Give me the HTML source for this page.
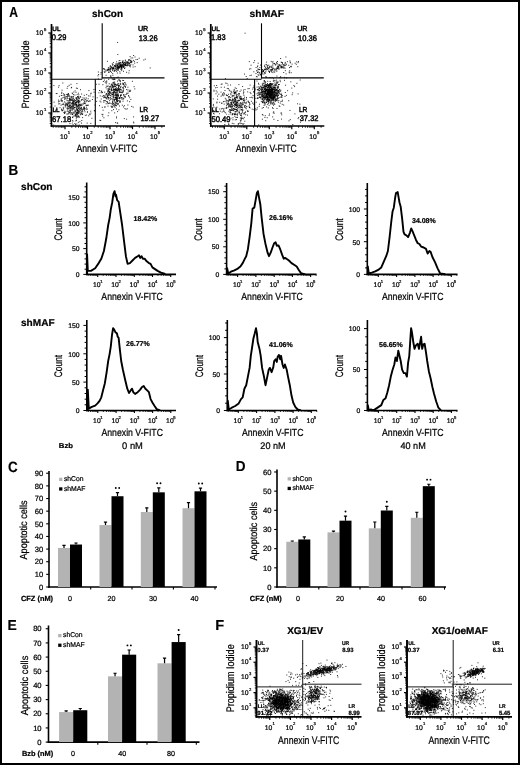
<!DOCTYPE html><html><head><meta charset="utf-8"><style>html,body{margin:0;padding:0;background:#fff}svg{display:block;will-change:transform;text-rendering:geometricPrecision}text{font-family:"Liberation Sans",sans-serif;fill:#000;stroke:#000;stroke-width:0.22px}</style></head><body><svg width="520" height="765" viewBox="0 0 520 765">
<rect x="1" y="1" width="518" height="763" fill="#fff" stroke="#000" stroke-width="2"/>
<text transform="translate(9.20 17) scale(0.833 1)" font-size="14.5" font-weight="bold" style="stroke-width:0.15px">A</text>
<text transform="translate(8.42 175) scale(0.931 1)" font-size="14.5" font-weight="bold" style="stroke-width:0.15px">B</text>
<text transform="translate(8.03 471.9) scale(0.896 1)" font-size="15.0" font-weight="bold" style="stroke-width:0.15px">C</text>
<text transform="translate(235.82 471.4) scale(0.934 1)" font-size="14.5" font-weight="bold" style="stroke-width:0.15px">D</text>
<text transform="translate(7.59 629.6) scale(0.958 1)" font-size="14.5" font-weight="bold" style="stroke-width:0.15px">E</text>
<text transform="translate(215.33 630.1) scale(1.007 1)" font-size="14.5" font-weight="bold" style="stroke-width:0.15px">F</text>
<path d="M73.7 105.2h1.0M84.3 98.1h1.0M83.2 108.0h1.0M69.3 97.1h1.0M71.0 97.0h1.0M69.2 105.5h1.0M78.0 105.6h1.0M73.0 94.7h1.0M79.4 111.1h1.0M58.6 116.8h1.0M85.9 98.0h1.0M72.6 116.9h1.0M78.8 101.9h1.0M72.3 102.1h1.0M70.4 103.8h1.0M77.1 96.8h1.0M80.0 114.7h1.0M71.8 108.3h1.0M72.2 100.4h1.0M78.9 104.5h1.0M66.4 94.6h1.0M61.3 101.2h1.0M76.6 111.9h1.0M68.0 93.6h1.0M58.0 100.1h1.0M66.9 105.3h1.0M69.7 111.5h1.0M63.9 112.4h1.0M61.5 100.5h1.0M73.7 100.7h1.0M80.6 109.4h1.0M71.5 102.8h1.0M67.5 102.5h1.0M76.5 112.8h1.0M79.1 117.1h1.0M71.0 106.7h1.0M77.8 104.9h1.0M81.7 110.4h1.0M71.7 93.1h1.0M66.9 104.2h1.0M76.2 99.1h1.0M75.4 120.9h1.0M82.2 111.4h1.0M63.1 104.6h1.0M68.1 103.3h1.0M66.7 88.3h1.0M59.5 107.7h1.0M74.4 115.9h1.0M77.6 101.4h1.0M67.5 108.8h1.0M84.5 111.8h1.0M80.0 96.6h1.0M78.4 112.2h1.0M76.6 114.6h1.0M81.0 108.1h1.0M62.7 103.3h1.0M78.3 111.2h1.0M78.2 96.4h1.0M59.3 103.7h1.0M76.2 112.6h1.0M71.4 97.2h1.0M79.7 112.7h1.0M69.9 102.2h1.0M73.3 92.1h1.0M76.1 105.2h1.0M66.4 98.1h1.0M78.2 108.2h1.0M72.6 97.8h1.0M77.3 112.7h1.0M69.2 100.0h1.0M82.1 109.1h1.0M78.2 102.4h1.0M72.0 103.1h1.0M78.5 113.8h1.0M83.5 108.4h1.0M87.7 105.2h1.0M60.8 95.4h1.0M80.5 113.9h1.0M77.1 110.7h1.0M72.6 103.2h1.0M65.3 105.6h1.0M83.5 100.5h1.0M63.3 97.3h1.0M77.9 100.9h1.0M83.8 109.3h1.0M60.6 105.2h1.0M71.0 100.3h1.0M62.9 108.4h1.0M75.4 110.7h1.0M85.5 108.5h1.0M89.6 114.6h1.0M59.2 101.3h1.0M68.8 103.9h1.0M79.0 109.3h1.0M86.0 107.2h1.0M76.8 111.0h1.0M67.4 96.5h1.0M75.8 114.9h1.0M73.3 100.4h1.0M71.8 104.1h1.0M67.5 95.7h1.0M76.5 109.7h1.0M75.9 113.9h1.0M72.7 112.1h1.0M71.6 110.4h1.0M63.1 93.8h1.0M69.5 99.8h1.0M83.1 104.0h1.0M71.9 99.2h1.0M61.9 110.7h1.0M84.1 108.3h1.0M77.6 105.9h1.0M90.3 111.2h1.0M73.9 99.4h1.0M69.7 99.0h1.0M61.8 97.9h1.0M84.0 110.3h1.0M94.0 110.9h1.0M66.8 108.0h1.0M68.2 111.4h1.0M78.2 97.5h1.0M66.8 100.8h1.0M71.2 106.0h1.0M70.6 96.4h1.0M74.9 102.3h1.0M82.2 113.3h1.0M73.6 112.5h1.0M80.8 113.5h1.0M70.0 105.1h1.0M76.0 104.5h1.0M56.3 109.5h1.0M61.8 101.1h1.0M79.8 108.6h1.0M68.7 113.1h1.0M78.0 103.8h1.0M77.7 102.2h1.0M84.0 107.1h1.0M79.9 110.3h1.0M81.5 109.8h1.0M72.5 106.2h1.0M67.8 108.0h1.0M67.5 94.3h1.0M69.5 99.3h1.0M64.4 105.0h1.0M69.0 98.8h1.0M72.7 96.7h1.0M75.4 98.0h1.0M70.7 99.1h1.0M58.0 101.8h1.0M72.8 98.8h1.0M75.2 107.2h1.0M82.1 117.6h1.0M78.0 105.2h1.0M68.3 112.7h1.0M67.6 106.3h1.0M89.5 100.9h1.0M79.5 104.8h1.0M88.1 101.5h1.0M90.4 113.1h1.0M66.9 97.0h1.0M76.5 114.3h1.0M77.1 109.7h1.0M77.9 93.2h1.0M77.7 111.1h1.0M75.0 115.6h1.0M74.8 100.6h1.0M61.4 109.7h1.0M72.1 93.7h1.0M67.4 106.0h1.0M74.4 95.0h1.0M69.7 107.9h1.0M78.3 94.8h1.0M80.0 89.7h1.0M75.9 108.3h1.0M75.9 120.4h1.0M74.1 101.7h1.0M69.8 110.1h1.0M72.1 105.9h1.0M69.4 102.7h1.0M76.5 109.8h1.0M73.5 115.9h1.0M78.1 98.3h1.0M62.8 107.3h1.0M80.5 108.8h1.0M67.3 95.3h1.0M67.5 114.7h1.0M71.8 117.6h1.0M68.9 98.6h1.0M75.7 116.8h1.0M68.8 105.0h1.0M64.8 103.0h1.0M66.6 113.9h1.0M83.9 108.6h1.0M73.8 107.5h1.0M64.1 113.5h1.0M73.5 113.6h1.0M61.0 109.1h1.0M87.7 98.8h1.0M61.2 93.4h1.0M77.2 113.2h1.0M77.7 100.2h1.0M61.8 104.5h1.0M75.8 98.9h1.0M81.4 105.5h1.0M77.1 97.9h1.0M75.5 116.1h1.0M81.0 100.1h1.0M74.7 104.8h1.0M76.1 104.6h1.0M72.4 112.9h1.0M78.5 97.2h1.0M65.9 104.0h1.0M79.7 105.1h1.0M69.4 108.1h1.0M64.7 107.0h1.0M76.3 102.9h1.0M86.9 109.1h1.0M81.1 104.3h1.0M69.3 107.7h1.0M79.0 105.7h1.0M69.8 100.6h1.0M72.4 105.1h1.0M74.1 107.8h1.0M54.9 116.8h1.0M74.9 102.5h1.0M65.2 106.0h1.0M67.8 113.8h1.0M61.6 90.2h1.0M61.3 92.3h1.0M65.9 96.6h1.0M80.0 105.7h1.0M86.7 123.1h1.0M73.2 107.9h1.0M82.1 114.5h1.0M71.3 103.6h1.0M58.1 87.2h1.0M74.6 90.9h1.0M77.0 112.5h1.0M70.0 106.0h1.0M75.8 97.5h1.0M78.0 113.3h1.0M66.5 94.5h1.0M61.6 110.7h1.0M71.6 114.4h1.0M71.7 100.3h1.0M70.6 97.9h1.0M81.3 112.1h1.0M87.2 100.7h1.0M70.1 110.3h1.0M79.0 98.7h1.0M80.9 111.8h1.0M79.1 106.9h1.0M81.8 104.0h1.0M70.3 99.2h1.0M79.3 107.9h1.0M89.6 96.0h1.0M79.8 104.7h1.0M68.4 102.1h1.0M78.3 110.5h1.0M83.5 99.1h1.0M76.4 116.8h1.0M68.9 102.7h1.0M85.7 100.2h1.0M63.4 112.6h1.0M77.4 116.6h1.0M73.3 104.2h1.0M63.9 98.2h1.0M83.2 107.1h1.0M76.2 101.5h1.0M64.1 101.9h1.0M78.2 116.1h1.0M69.9 107.3h1.0M58.2 103.9h1.0M67.9 106.7h1.0M75.5 105.4h1.0M78.5 111.6h1.0M74.7 111.2h1.0M73.8 103.1h1.0M77.2 106.7h1.0M71.7 120.5h1.0M82.8 109.6h1.0M74.6 104.4h1.0M75.8 118.8h1.0M77.7 106.2h1.0M64.9 97.0h1.0M67.7 108.8h1.0M85.6 101.7h1.0M76.1 102.7h1.0M71.1 107.1h1.0M76.1 105.0h1.0M69.5 99.9h1.0M75.6 102.3h1.0M68.1 100.8h1.0M75.6 113.2h1.0M60.8 98.8h1.0M84.0 103.5h1.0M69.3 117.7h1.0M60.8 99.8h1.0M71.6 114.6h1.0M70.4 113.3h1.0M74.6 104.6h1.0M64.2 94.9h1.0M76.6 108.8h1.0M102.4 114.4h1.0M63.2 109.9h1.0M76.1 106.3h1.0M70.9 112.7h1.0M74.9 114.5h1.0M58.9 96.3h1.0M64.2 113.0h1.0M77.1 107.1h1.0M73.1 101.7h1.0M86.5 105.5h1.0M67.8 116.4h1.0M74.8 111.9h1.0M96.7 97.8h1.0M67.3 104.9h1.0M66.2 103.3h1.0M73.1 104.2h1.0M73.0 102.1h1.0M80.2 97.2h1.0M74.4 111.1h1.0M67.3 98.4h1.0M75.1 103.3h1.0M94.5 105.0h1.0M83.6 102.4h1.0M72.3 107.7h1.0M66.4 100.0h1.0M78.4 100.2h1.0M72.0 102.2h1.0M88.9 114.1h1.0M80.8 107.4h1.0M80.5 108.0h1.0M74.9 103.6h1.0M73.1 103.7h1.0M76.1 107.2h1.0M83.8 95.3h1.0M77.7 116.4h1.0M70.6 99.9h1.0M83.6 103.4h1.0M74.9 114.2h1.0M72.8 106.7h1.0M67.1 104.6h1.0M68.9 100.9h1.0M68.3 94.6h1.0M81.5 114.3h1.0M77.9 100.4h1.0M71.7 113.8h1.0M81.8 99.6h1.0M76.9 101.3h1.0M76.4 109.1h1.0M53.6 102.2h1.0M71.5 109.5h1.0M77.7 101.4h1.0M86.3 100.9h1.0M88.1 95.9h1.0M84.8 99.6h1.0M64.1 97.0h1.0M55.8 93.5h1.0M78.0 108.1h1.0M73.6 101.2h1.0M81.1 94.0h1.0M72.4 121.1h1.0M75.2 100.4h1.0M61.4 95.5h1.0M77.0 113.9h1.0M69.8 112.2h1.0M76.2 98.5h1.0M77.1 96.6h1.0M72.5 98.9h1.0M75.9 113.0h1.0M73.3 103.4h1.0M79.5 101.2h1.0M77.4 105.9h1.0M69.0 112.4h1.0M68.7 95.8h1.0M87.3 105.2h1.0M72.6 96.5h1.0M81.3 120.5h1.0M76.5 117.5h1.0M68.9 110.7h1.0M67.4 103.6h1.0M74.4 109.8h1.0M75.5 92.3h1.0M78.3 108.0h1.0M63.3 95.2h1.0M68.6 96.2h1.0M72.6 100.8h1.0M86.2 105.3h1.0M54.5 106.0h1.0M76.9 110.4h1.0M69.1 106.4h1.0M76.9 99.9h1.0M69.5 109.1h1.0M76.3 105.1h1.0M85.9 115.0h1.0M76.2 100.0h1.0M76.9 88.4h1.0M76.4 102.8h1.0M67.4 118.1h1.0M77.7 109.1h1.0M71.7 103.9h1.0M66.9 110.0h1.0M73.1 108.6h1.0M71.6 108.0h1.0M79.4 103.1h1.0M73.1 105.8h1.0M69.2 106.0h1.0M85.0 103.2h1.0M81.3 99.6h1.0M83.6 107.9h1.0M78.3 112.4h1.0M72.5 109.4h1.0M70.0 108.0h1.0M71.2 108.2h1.0M81.0 123.1h1.0M74.3 107.2h1.0M61.5 110.1h1.0M126.2 93.2h1.0M114.8 84.7h1.0M116.1 98.6h1.0M120.8 97.5h1.0M124.6 82.9h1.0M116.4 90.2h1.0M116.7 94.9h1.0M115.0 92.9h1.0M107.3 96.9h1.0M121.2 98.9h1.0M113.0 97.0h1.0M104.2 92.1h1.0M113.6 82.8h1.0M104.1 97.5h1.0M108.5 103.4h1.0M114.6 107.7h1.0M109.0 92.7h1.0M121.0 92.6h1.0M105.7 103.8h1.0M116.1 103.7h1.0M117.9 95.5h1.0M123.3 98.3h1.0M120.1 87.2h1.0M115.9 97.3h1.0M115.0 86.7h1.0M114.2 91.8h1.0M121.4 92.0h1.0M110.6 89.4h1.0M117.7 77.1h1.0M114.0 86.7h1.0M116.0 95.4h1.0M113.0 92.4h1.0M127.4 89.9h1.0M110.6 96.1h1.0M116.1 98.1h1.0M116.2 99.3h1.0M118.2 86.8h1.0M117.3 93.0h1.0M117.1 90.4h1.0M120.5 86.3h1.0M105.5 81.7h1.0M114.6 92.1h1.0M107.2 86.3h1.0M116.0 109.0h1.0M107.5 92.1h1.0M108.8 91.2h1.0M114.2 89.9h1.0M123.0 106.9h1.0M118.0 85.8h1.0M116.4 91.7h1.0M123.0 87.1h1.0M108.9 91.9h1.0M102.0 92.6h1.0M112.0 101.1h1.0M112.9 82.3h1.0M122.0 92.7h1.0M127.4 105.0h1.0M106.6 89.1h1.0M129.4 91.5h1.0M124.0 86.2h1.0M119.6 73.2h1.0M116.8 92.1h1.0M129.1 101.7h1.0M115.1 89.4h1.0M111.7 79.0h1.0M115.4 94.9h1.0M106.4 93.5h1.0M117.4 100.4h1.0M113.9 99.7h1.0M116.6 90.8h1.0M116.7 95.9h1.0M108.2 79.4h1.0M122.5 101.2h1.0M108.5 94.3h1.0M119.9 101.0h1.0M105.0 100.8h1.0M116.8 90.7h1.0M109.7 91.8h1.0M114.8 86.3h1.0M110.7 77.4h1.0M101.5 91.9h1.0M107.9 94.0h1.0M115.0 84.7h1.0M118.3 98.2h1.0M105.8 93.6h1.0M101.8 96.3h1.0M109.4 87.1h1.0M113.3 79.6h1.0M110.8 98.7h1.0M109.7 97.5h1.0M119.7 92.0h1.0M120.4 89.7h1.0M119.0 90.8h1.0M109.0 91.8h1.0M115.1 89.1h1.0M113.4 77.8h1.0M106.0 98.8h1.0M119.9 81.7h1.0M115.1 90.4h1.0M111.7 90.6h1.0M123.1 94.8h1.0M119.2 80.8h1.0M119.7 101.9h1.0M121.8 97.8h1.0M118.9 98.7h1.0M107.0 102.4h1.0M112.3 86.9h1.0M120.6 69.4h1.0M110.0 95.4h1.0M114.8 102.8h1.0M117.0 101.6h1.0M123.2 88.9h1.0M122.4 92.2h1.0M120.0 95.1h1.0M113.5 79.4h1.0M120.1 87.9h1.0M117.8 88.2h1.0M113.6 104.8h1.0M122.7 88.1h1.0M117.5 104.7h1.0M110.0 93.1h1.0M122.2 80.4h1.0M113.0 109.6h1.0M118.1 85.7h1.0M105.4 97.6h1.0M114.5 105.8h1.0M108.9 89.0h1.0M108.7 83.8h1.0M103.1 100.8h1.0M127.4 93.5h1.0M113.7 83.8h1.0M116.0 84.9h1.0M121.2 90.1h1.0M113.8 100.2h1.0M117.6 90.8h1.0M106.4 97.9h1.0M115.7 105.4h1.0M112.1 102.5h1.0M117.6 103.8h1.0M115.6 102.2h1.0M106.2 80.9h1.0M103.4 102.2h1.0M108.5 95.5h1.0M119.0 92.1h1.0M117.1 84.9h1.0M117.0 81.1h1.0M102.4 84.7h1.0M98.4 92.8h1.0M110.8 84.2h1.0M112.5 86.9h1.0M110.9 88.4h1.0M116.7 98.0h1.0M113.5 90.8h1.0M107.4 91.9h1.0M109.3 102.9h1.0M115.4 90.6h1.0M115.0 97.5h1.0M114.1 85.1h1.0M128.1 95.5h1.0M112.9 93.9h1.0M115.2 94.3h1.0M108.5 89.5h1.0M112.4 85.3h1.0M117.7 90.8h1.0M117.9 89.5h1.0M113.6 100.8h1.0M116.9 99.8h1.0M114.8 84.0h1.0M103.2 97.7h1.0M94.9 89.4h1.0M128.4 96.4h1.0M119.5 89.4h1.0M114.2 82.0h1.0M104.1 100.6h1.0M106.8 96.4h1.0M122.6 83.8h1.0M97.8 78.8h1.0M112.6 89.0h1.0M119.7 84.1h1.0M115.4 90.3h1.0M119.0 97.7h1.0M113.7 104.0h1.0M128.9 90.3h1.0M108.3 103.3h1.0M106.3 101.7h1.0M116.1 89.7h1.0M123.1 80.5h1.0M114.2 99.4h1.0M120.8 97.6h1.0M111.3 110.7h1.0M107.4 103.7h1.0M122.9 98.9h1.0M123.9 105.7h1.0M123.7 85.2h1.0M111.9 94.5h1.0M107.6 91.0h1.0M107.5 106.1h1.0M113.2 97.3h1.0M118.0 70.1h1.0M117.6 103.3h1.0M105.9 86.2h1.0M115.7 98.9h1.0M114.6 89.5h1.0M115.0 94.9h1.0M114.4 97.8h1.0M113.3 94.5h1.0M118.1 85.9h1.0M115.3 103.6h1.0M115.9 96.1h1.0M110.4 93.0h1.0M116.9 98.4h1.0M113.8 89.1h1.0M101.8 107.3h1.0M117.4 94.8h1.0M112.9 95.9h1.0M120.1 95.7h1.0M113.5 86.3h1.0M113.9 84.3h1.0M115.8 94.8h1.0M114.4 95.8h1.0M111.8 103.2h1.0M103.7 96.5h1.0M125.6 85.0h1.0M105.0 97.1h1.0M112.5 99.3h1.0M118.4 100.7h1.0M116.8 95.6h1.0M117.9 84.0h1.0M119.1 101.9h1.0M122.1 87.7h1.0M116.3 97.4h1.0M131.9 81.3h1.0M108.4 98.9h1.0M115.9 87.3h1.0M112.3 101.3h1.0M111.2 106.4h1.0M116.2 101.9h1.0M123.2 84.4h1.0M110.2 86.1h1.0M110.2 86.6h1.0M118.8 98.1h1.0M117.8 95.7h1.0M126.2 94.3h1.0M120.7 95.4h1.0M115.9 97.5h1.0M112.5 98.0h1.0M115.8 105.8h1.0M113.4 92.7h1.0M106.3 94.6h1.0M114.5 79.2h1.0M113.4 83.2h1.0M113.1 87.9h1.0M111.9 84.2h1.0M124.6 94.7h1.0M118.7 100.9h1.0M120.1 89.8h1.0M110.9 89.4h1.0M108.4 89.2h1.0M112.8 94.0h1.0M116.0 89.0h1.0M112.4 96.3h1.0M113.4 95.3h1.0M120.3 95.6h1.0M116.3 98.8h1.0M108.6 93.3h1.0M111.9 94.1h1.0M110.6 106.2h1.0M115.6 92.7h1.0M107.5 99.0h1.0M113.4 93.4h1.0M118.7 89.6h1.0M114.7 89.6h1.0M109.0 86.8h1.0M110.8 93.1h1.0M115.2 88.5h1.0M117.4 89.8h1.0M119.5 102.1h1.0M113.6 92.0h1.0M106.6 101.5h1.0M123.0 95.0h1.0M116.3 99.5h1.0M116.9 88.4h1.0M116.3 94.1h1.0M108.3 112.8h1.0M112.6 99.2h1.0M116.0 100.5h1.0M120.7 94.7h1.0M114.9 99.4h1.0M95.8 84.3h1.0M113.1 86.6h1.0M116.6 96.2h1.0M122.3 99.1h1.0M118.8 89.9h1.0M129.4 91.5h1.0M123.0 90.2h1.0M122.6 91.5h1.0M120.2 83.9h1.0M106.2 82.2h1.0M119.6 92.3h1.0M118.1 79.9h1.0M111.3 85.6h1.0M118.0 88.0h1.0M117.0 85.0h1.0M111.7 94.7h1.0M113.8 89.5h1.0M112.9 92.3h1.0M115.9 85.3h1.0M112.0 87.3h1.0M117.8 96.7h1.0M103.0 95.6h1.0M112.8 89.3h1.0M104.4 95.6h1.0M111.6 94.2h1.0M117.6 94.0h1.0M114.6 104.8h1.0M113.8 89.8h1.0M114.9 95.9h1.0M123.9 96.0h1.0M107.9 91.0h1.0M119.8 84.0h1.0M105.4 98.0h1.0M111.7 94.7h1.0M115.5 93.1h1.0M109.4 92.9h1.0M115.7 92.9h1.0M118.9 86.0h1.0M107.3 94.9h1.0M114.0 79.2h1.0M112.2 92.5h1.0M102.9 81.5h1.0M113.4 90.0h1.0M109.7 98.0h1.0M122.5 90.7h1.0M109.2 89.1h1.0M124.7 96.5h1.0M111.3 90.6h1.0M126.1 89.6h1.0M117.7 89.7h1.0M117.2 104.0h1.0M119.3 97.6h1.0M119.9 96.2h1.0M122.9 83.7h1.0M124.9 97.2h1.0M112.4 82.9h1.0M107.0 96.2h1.0M98.5 84.2h1.0M112.2 107.2h1.0M119.1 79.9h1.0M116.8 101.7h1.0M115.2 98.6h1.0M112.4 79.2h1.0M110.7 90.7h1.0M112.8 103.4h1.0M116.8 101.1h1.0M103.9 80.1h1.0M118.9 88.6h1.0M105.7 83.7h1.0M113.6 84.9h1.0M110.7 87.7h1.0M112.3 106.3h1.0M108.2 93.5h1.0M107.6 90.8h1.0M113.1 90.0h1.0M108.0 97.5h1.0M129.2 97.7h1.0M112.0 85.6h1.0M110.5 103.5h1.0M111.2 84.4h1.0M108.0 90.4h1.0M99.7 95.9h1.0M112.9 105.3h1.0M116.3 89.9h1.0M105.4 94.7h1.0M114.5 102.3h1.0M107.2 97.2h1.0M114.2 101.0h1.0M116.6 100.3h1.0M117.4 94.5h1.0M117.1 97.2h1.0M110.2 99.4h1.0M119.7 92.3h1.0M111.8 104.5h1.0M116.6 77.6h1.0M118.7 85.6h1.0M112.6 103.3h1.0M106.7 95.7h1.0M118.1 87.7h1.0M107.7 95.3h1.0M109.1 100.7h1.0M107.8 88.3h1.0M119.5 98.3h1.0M113.5 91.6h1.0M101.0 91.7h1.0M118.9 92.0h1.0M126.9 100.9h1.0M125.2 84.1h1.0M111.0 89.8h1.0M114.9 97.5h1.0M117.5 83.4h1.0M119.8 80.7h1.0M124.5 62.7h1.0M120.0 66.4h1.0M118.8 67.0h1.0M121.1 65.4h1.0M112.2 73.6h1.0M143.3 60.0h1.0M112.1 68.2h1.0M116.5 68.3h1.0M108.6 72.2h1.0M116.7 67.5h1.0M132.2 57.9h1.0M120.1 65.8h1.0M124.8 64.1h1.0M116.1 71.3h1.0M134.5 57.0h1.0M121.3 68.4h1.0M110.0 68.7h1.0M126.2 65.5h1.0M117.0 66.1h1.0M124.8 64.4h1.0M121.1 67.6h1.0M122.1 65.1h1.0M121.1 67.5h1.0M112.7 68.0h1.0M108.0 68.9h1.0M127.8 62.6h1.0M118.9 65.0h1.0M122.3 64.7h1.0M116.3 69.7h1.0M103.8 68.8h1.0M109.8 65.8h1.0M131.2 61.9h1.0M113.7 71.3h1.0M116.9 68.9h1.0M108.2 72.4h1.0M115.8 69.7h1.0M117.0 65.2h1.0M118.2 66.6h1.0M119.4 60.5h1.0M114.9 66.2h1.0M115.4 68.5h1.0M119.9 62.6h1.0M122.5 60.6h1.0M118.8 63.5h1.0M133.9 61.4h1.0M121.6 67.6h1.0M121.2 70.6h1.0M114.7 70.4h1.0M128.2 59.9h1.0M111.8 63.8h1.0M107.0 70.5h1.0M112.1 70.6h1.0M124.9 60.8h1.0M110.8 67.8h1.0M130.3 61.3h1.0M119.8 65.9h1.0M107.8 69.5h1.0M118.1 67.5h1.0M134.2 63.1h1.0M113.1 68.3h1.0M109.5 70.9h1.0M124.0 68.5h1.0M130.4 60.2h1.0M128.1 60.9h1.0M117.3 67.7h1.0M121.4 69.1h1.0M122.5 65.3h1.0M129.3 64.9h1.0M137.1 59.4h1.0M119.1 68.0h1.0M130.3 61.0h1.0M117.2 68.2h1.0M124.6 65.1h1.0M112.5 69.2h1.0M113.8 70.7h1.0M123.2 66.9h1.0M112.8 67.1h1.0M127.0 65.3h1.0M115.5 63.9h1.0M120.5 67.7h1.0M119.3 71.7h1.0M117.3 67.9h1.0M121.0 66.6h1.0M128.6 63.1h1.0M144.8 59.2h1.0M110.4 68.2h1.0M122.3 66.5h1.0M118.5 65.8h1.0M112.6 67.5h1.0M122.2 65.4h1.0M112.9 68.2h1.0M119.3 62.6h1.0M129.8 66.8h1.0M103.8 71.7h1.0M121.9 61.8h1.0M123.5 66.9h1.0M112.3 68.5h1.0M124.1 64.9h1.0M122.7 66.4h1.0M117.1 65.1h1.0M129.6 56.6h1.0M109.5 69.3h1.0M125.1 64.7h1.0M118.1 68.6h1.0M111.5 67.3h1.0M118.5 65.9h1.0M117.1 67.7h1.0M126.5 63.1h1.0M108.0 69.5h1.0M118.4 67.0h1.0M116.3 65.2h1.0M132.5 64.9h1.0M111.0 67.1h1.0M128.4 63.1h1.0M105.9 70.1h1.0M122.7 63.6h1.0M118.8 67.4h1.0M122.9 67.0h1.0M114.3 70.8h1.0M104.3 72.5h1.0M107.5 69.2h1.0M130.4 64.2h1.0M121.6 62.4h1.0M112.9 68.4h1.0M127.1 64.6h1.0M113.9 69.1h1.0M113.9 65.6h1.0M110.1 66.2h1.0M129.2 66.1h1.0M135.5 59.6h1.0M112.1 65.2h1.0M122.1 62.6h1.0M127.6 63.3h1.0M136.7 62.6h1.0M100.6 72.5h1.0M120.9 68.0h1.0M124.9 64.7h1.0M107.9 70.9h1.0M123.0 66.8h1.0M121.3 64.6h1.0M125.5 64.6h1.0M115.1 66.7h1.0M123.1 63.5h1.0M114.9 68.9h1.0M124.6 62.6h1.0M121.0 65.7h1.0M116.7 65.3h1.0M108.4 69.6h1.0M132.9 60.4h1.0M128.6 65.1h1.0M126.8 63.7h1.0M114.4 67.9h1.0M116.9 70.2h1.0M133.1 55.5h1.0M125.7 61.6h1.0M112.9 62.6h1.0M120.1 65.7h1.0M120.9 66.4h1.0M118.2 67.7h1.0M112.2 69.0h1.0M129.8 60.7h1.0M124.5 67.8h1.0M118.2 67.0h1.0M107.2 69.6h1.0M115.1 65.1h1.0M119.7 66.7h1.0M126.7 62.5h1.0M116.8 65.9h1.0M128.7 63.2h1.0M120.9 65.9h1.0M113.9 66.2h1.0M97.5 75.9h1.0M110.4 66.9h1.0M107.9 67.6h1.0M118.6 66.8h1.0M122.5 65.1h1.0M131.0 62.1h1.0M119.8 65.0h1.0M110.6 69.0h1.0M138.7 58.2h1.0M122.4 61.5h1.0M117.8 68.0h1.0M117.8 64.4h1.0M109.1 69.0h1.0M125.0 65.5h1.0M122.9 64.8h1.0M132.6 67.0h1.0M128.7 59.9h1.0M126.9 61.8h1.0M130.0 62.5h1.0M117.7 69.3h1.0M116.4 66.4h1.0M119.6 62.9h1.0M110.0 71.4h1.0M118.8 64.2h1.0M117.3 66.2h1.0M125.3 65.7h1.0M119.9 64.4h1.0M104.7 70.0h1.0M120.3 66.6h1.0M131.3 61.4h1.0M105.3 71.3h1.0M114.0 65.8h1.0M120.2 65.4h1.0M109.4 67.1h1.0M115.7 64.0h1.0M120.5 69.1h1.0M109.5 70.2h1.0M122.4 66.7h1.0M123.4 62.6h1.0M109.9 69.0h1.0M120.3 65.2h1.0M128.7 59.8h1.0M118.7 67.2h1.0M123.6 63.0h1.0M125.3 63.5h1.0M118.3 63.2h1.0M128.0 65.0h1.0M123.2 66.1h1.0M112.2 69.1h1.0M124.3 62.3h1.0M127.1 62.2h1.0M126.6 65.9h1.0M115.0 66.8h1.0M123.9 64.9h1.0M131.2 62.2h1.0M122.1 62.7h1.0M129.7 65.5h1.0M130.6 58.0h1.0M119.9 66.2h1.0M125.5 63.6h1.0M117.9 63.1h1.0M128.8 63.4h1.0M119.5 66.9h1.0M115.9 67.2h1.0M120.1 64.0h1.0M119.7 66.7h1.0M123.3 66.8h1.0M124.0 64.8h1.0M111.0 72.3h1.0M77.9 122.3h1.0M55.0 110.2h1.0M70.9 87.8h1.0M85.7 109.6h1.0M66.1 104.8h1.0M64.9 112.2h1.0M56.5 93.6h1.0M72.6 124.7h1.0M92.6 96.9h1.0M53.3 125.0h1.0M90.2 93.9h1.0M78.0 102.5h1.0M64.4 111.3h1.0M90.7 93.2h1.0M91.9 99.5h1.0M93.9 110.5h1.0M72.2 114.4h1.0M70.1 121.4h1.0M80.7 105.7h1.0M90.3 123.4h1.0M67.4 94.1h1.0M66.6 108.2h1.0M69.9 114.6h1.0M53.4 85.6h1.0M88.2 115.8h1.0M71.9 117.2h1.0M72.3 106.2h1.0M79.4 121.7h1.0M86.9 112.1h1.0M82.5 97.8h1.0M66.7 116.7h1.0M65.0 104.3h1.0M66.7 111.4h1.0M75.1 124.5h1.0M87.0 111.9h1.0M52.8 115.4h1.0M78.2 117.1h1.0M88.4 90.6h1.0M76.4 83.6h1.0M68.7 85.3h1.0M72.6 102.0h1.0M74.4 123.5h1.0M79.1 101.2h1.0M55.7 121.7h1.0M86.2 94.6h1.0M75.9 88.1h1.0M64.3 99.5h1.0M91.4 118.3h1.0M69.4 123.6h1.0M85.4 105.2h1.0M65.1 98.3h1.0M75.8 115.9h1.0M60.6 100.3h1.0M64.1 95.0h1.0M66.5 114.5h1.0M58.6 85.6h1.0M84.8 115.4h1.0M71.7 123.0h1.0M67.3 86.4h1.0M77.4 115.6h1.0M62.3 83.0h1.0M71.1 87.4h1.0M76.6 94.6h1.0M78.7 125.0h1.0M70.5 84.3h1.0M84.1 101.6h1.0M89.3 101.0h1.0M93.4 89.6h1.0M76.3 124.0h1.0M93.5 92.2h1.0M131.2 106.4h1.0M117.2 123.2h1.0M123.8 96.8h1.0M125.0 86.6h1.0M122.3 83.1h1.0M127.6 92.0h1.0M130.4 99.5h1.0M101.5 114.4h1.0M99.5 101.1h1.0M113.7 92.1h1.0M100.2 120.5h1.0M119.0 106.0h1.0M132.7 107.1h1.0M116.1 116.9h1.0M102.6 110.2h1.0M100.6 90.9h1.0M116.7 122.9h1.0M125.0 87.3h1.0M127.4 87.2h1.0M125.5 109.2h1.0M114.1 106.2h1.0M130.1 90.3h1.0M117.1 111.6h1.0M122.6 84.5h1.0M96.1 101.4h1.0M115.1 122.6h1.0M99.4 120.3h1.0M104.3 107.2h1.0M107.7 115.7h1.0M118.4 109.8h1.0M99.0 90.5h1.0M123.8 118.6h1.0M111.4 107.5h1.0M104.5 106.8h1.0M133.3 122.9h1.0M121.8 105.2h1.0M109.1 94.7h1.0M100.8 99.0h1.0M115.1 105.0h1.0M126.1 119.2h1.0M116.0 117.9h1.0M108.1 97.9h1.0M100.4 102.0h1.0M104.7 82.2h1.0M126.8 108.8h1.0M102.2 116.1h1.0M134.3 88.9h1.0M124.4 108.6h1.0M111.7 86.3h1.0M103.4 117.8h1.0M114.2 112.9h1.0M133.1 122.1h1.0M100.6 92.8h1.0M105.5 87.7h1.0M99.0 105.7h1.0M124.2 82.6h1.0M133.1 116.9h1.0M117.7 89.2h1.0M107.6 86.0h1.0M133.6 86.7h1.0M123.4 64.1h1.0M97.9 72.0h1.0M112.4 75.3h1.0M103.1 68.5h1.0M126.4 62.5h1.0M98.1 74.5h1.0M103.7 69.5h1.0M126.1 72.3h1.0M116.1 61.8h1.0M100.5 74.1h1.0M134.6 66.7h1.0M110.5 76.0h1.0M112.4 64.5h1.0M124.9 60.1h1.0M115.2 65.7h1.0M128.4 73.0h1.0M116.9 73.0h1.0M105.6 75.3h1.0M116.9 63.8h1.0M128.7 70.7h1.0M106.9 61.3h1.0M120.8 64.0h1.0M118.6 60.8h1.0M123.0 71.3h1.0M110.0 76.1h1.0M117.1 42.5h1.0M117.3 54.5h1.0M149.7 67.9h1.0" stroke="#000" stroke-width="1.0" opacity="0.82" fill="none"/>
<line x1="51.50" y1="24.00" x2="51.50" y2="126.80" stroke="#000" stroke-width="1.7"/>
<line x1="50.70" y1="126.00" x2="165.00" y2="126.00" stroke="#000" stroke-width="1.7"/>
<line x1="48.30" y1="113.00" x2="51.50" y2="113.00" stroke="#000" stroke-width="1.2"/>
<line x1="48.30" y1="93.00" x2="51.50" y2="93.00" stroke="#000" stroke-width="1.2"/>
<line x1="48.30" y1="73.00" x2="51.50" y2="73.00" stroke="#000" stroke-width="1.2"/>
<line x1="48.30" y1="53.00" x2="51.50" y2="53.00" stroke="#000" stroke-width="1.2"/>
<line x1="48.30" y1="33.00" x2="51.50" y2="33.00" stroke="#000" stroke-width="1.2"/>
<line x1="65.00" y1="126.00" x2="65.00" y2="129.20" stroke="#000" stroke-width="1.2"/>
<line x1="87.50" y1="126.00" x2="87.50" y2="129.20" stroke="#000" stroke-width="1.2"/>
<line x1="110.00" y1="126.00" x2="110.00" y2="129.20" stroke="#000" stroke-width="1.2"/>
<line x1="132.50" y1="126.00" x2="132.50" y2="129.20" stroke="#000" stroke-width="1.2"/>
<line x1="155.00" y1="126.00" x2="155.00" y2="129.20" stroke="#000" stroke-width="1.2"/>
<path d="M49.7 123.5h1.8M49.7 121.0h1.8M49.7 119.0h1.8M49.7 117.4h1.8M49.7 116.1h1.8M49.7 114.9h1.8M49.7 113.9h1.8M49.7 107.0h1.8M49.7 103.5h1.8M49.7 101.0h1.8M49.7 99.0h1.8M49.7 97.4h1.8M49.7 96.1h1.8M49.7 94.9h1.8M49.7 93.9h1.8M49.7 87.0h1.8M49.7 83.5h1.8M49.7 81.0h1.8M49.7 79.0h1.8M49.7 77.4h1.8M49.7 76.1h1.8M49.7 74.9h1.8M49.7 73.9h1.8M49.7 67.0h1.8M49.7 63.5h1.8M49.7 61.0h1.8M49.7 59.0h1.8M49.7 57.4h1.8M49.7 56.1h1.8M49.7 54.9h1.8M49.7 53.9h1.8M49.7 47.0h1.8M49.7 43.5h1.8M49.7 41.0h1.8M49.7 39.0h1.8M49.7 37.4h1.8M49.7 36.1h1.8M49.7 34.9h1.8M49.7 33.9h1.8" stroke="#000" stroke-width="0.8"/>
<path d="M53.2 126.0v1.8M56.0 126.0v1.8M58.2 126.0v1.8M60.0 126.0v1.8M61.5 126.0v1.8M62.8 126.0v1.8M64.0 126.0v1.8M71.8 126.0v1.8M75.7 126.0v1.8M78.5 126.0v1.8M80.7 126.0v1.8M82.5 126.0v1.8M84.0 126.0v1.8M85.3 126.0v1.8M86.5 126.0v1.8M94.3 126.0v1.8M98.2 126.0v1.8M101.0 126.0v1.8M103.2 126.0v1.8M105.0 126.0v1.8M106.5 126.0v1.8M107.8 126.0v1.8M109.0 126.0v1.8M116.8 126.0v1.8M120.7 126.0v1.8M123.5 126.0v1.8M125.7 126.0v1.8M127.5 126.0v1.8M129.0 126.0v1.8M130.3 126.0v1.8M131.5 126.0v1.8M139.3 126.0v1.8M143.2 126.0v1.8M146.0 126.0v1.8M148.2 126.0v1.8M150.0 126.0v1.8M151.5 126.0v1.8M152.8 126.0v1.8M154.0 126.0v1.8M161.8 126.0v1.8" stroke="#000" stroke-width="0.8"/>
<line x1="102.20" y1="23.30" x2="102.20" y2="78.50" stroke="#000" stroke-width="1.1"/>
<line x1="101.70" y1="77.90" x2="164.50" y2="77.90" stroke="#000" stroke-width="1.1"/>
<line x1="51.50" y1="79.30" x2="102.20" y2="79.30" stroke="#000" stroke-width="1.1"/>
<line x1="95.30" y1="79.30" x2="95.30" y2="126.00" stroke="#000" stroke-width="1.1"/>
<text x="39.50" y="115.10" font-size="6.8" text-anchor="middle">10</text>
<text x="43.90" y="111.10" font-size="4.2">1</text>
<text x="39.50" y="95.10" font-size="6.8" text-anchor="middle">10</text>
<text x="43.90" y="91.10" font-size="4.2">2</text>
<text x="39.50" y="75.10" font-size="6.8" text-anchor="middle">10</text>
<text x="43.90" y="71.10" font-size="4.2">3</text>
<text x="39.50" y="55.10" font-size="6.8" text-anchor="middle">10</text>
<text x="43.90" y="51.10" font-size="4.2">4</text>
<text x="39.50" y="35.10" font-size="6.8" text-anchor="middle">10</text>
<text x="43.90" y="31.10" font-size="4.2">5</text>
<text x="63.80" y="138.50" font-size="6.8" text-anchor="middle">10</text>
<text x="67.70" y="134.00" font-size="4.2">1</text>
<text x="86.30" y="138.50" font-size="6.8" text-anchor="middle">10</text>
<text x="90.20" y="134.00" font-size="4.2">2</text>
<text x="108.80" y="138.50" font-size="6.8" text-anchor="middle">10</text>
<text x="112.70" y="134.00" font-size="4.2">3</text>
<text x="131.30" y="138.50" font-size="6.8" text-anchor="middle">10</text>
<text x="135.20" y="134.00" font-size="4.2">4</text>
<text x="153.80" y="138.50" font-size="6.8" text-anchor="middle">10</text>
<text x="157.70" y="134.00" font-size="4.2">5</text>
<text x="107.00" y="151.80" font-size="10.5" text-anchor="middle" textLength="61" lengthAdjust="spacingAndGlyphs">Annexin V-FITC</text>
<text x="29.00" y="74.50" font-size="10.5" text-anchor="middle" textLength="68" lengthAdjust="spacingAndGlyphs" transform="rotate(-90 29 74.5)">Propidium Iodide</text>
<text x="107.50" y="17.10" font-size="10" text-anchor="middle" font-weight="bold" textLength="31" lengthAdjust="spacingAndGlyphs">shCon</text>
<rect x="52.5" y="114.6" width="19.5" height="8.4" fill="#fff"/>
<text x="52.30" y="31.00" font-size="6.4" textLength="8.2" lengthAdjust="spacingAndGlyphs" style="stroke-width:0.45px">UL</text>
<text x="51.80" y="40.20" font-size="8.2" textLength="14.5" lengthAdjust="spacingAndGlyphs" style="stroke-width:0.45px">0.29</text>
<text x="137.90" y="31.10" font-size="7.2" textLength="10.3" lengthAdjust="spacingAndGlyphs" style="stroke-width:0.45px">UR</text>
<text x="138.70" y="40.60" font-size="8.2" textLength="18.9" lengthAdjust="spacingAndGlyphs" style="stroke-width:0.45px">13.26</text>
<text x="139.60" y="111.60" font-size="7.2" textLength="8.5" lengthAdjust="spacingAndGlyphs" style="stroke-width:0.45px">LR</text>
<text x="140.40" y="120.90" font-size="8.2" textLength="18.8" lengthAdjust="spacingAndGlyphs" style="stroke-width:0.45px">19.27</text>
<text x="52.50" y="112.00" font-size="6.4" style="stroke-width:0.45px">LL</text>
<text x="52.10" y="122.30" font-size="8.2" textLength="19.2" lengthAdjust="spacingAndGlyphs" style="stroke-width:0.45px">67.18</text>
<path d="M243.1 92.2h1.0M238.5 103.2h1.0M232.0 113.8h1.0M243.3 92.1h1.0M240.6 90.1h1.0M230.6 94.9h1.0M222.3 94.3h1.0M230.3 102.8h1.0M239.1 100.6h1.0M232.7 100.1h1.0M247.8 101.8h1.0M236.4 103.1h1.0M235.9 97.5h1.0M237.5 107.3h1.0M227.8 103.6h1.0M233.5 95.9h1.0M229.5 118.6h1.0M216.7 92.1h1.0M221.0 108.9h1.0M240.0 98.9h1.0M231.1 106.9h1.0M233.5 108.5h1.0M223.3 110.2h1.0M230.0 115.4h1.0M240.4 98.2h1.0M230.5 107.3h1.0M246.0 99.1h1.0M234.0 93.4h1.0M231.8 123.3h1.0M243.1 118.8h1.0M221.3 103.0h1.0M238.6 111.2h1.0M226.0 114.3h1.0M228.5 104.7h1.0M229.3 100.6h1.0M235.4 104.4h1.0M235.3 111.5h1.0M236.8 105.0h1.0M236.0 94.8h1.0M245.1 111.9h1.0M247.2 91.9h1.0M239.8 99.1h1.0M240.2 115.3h1.0M231.6 106.2h1.0M226.1 105.6h1.0M238.9 106.0h1.0M234.7 113.0h1.0M240.9 104.9h1.0M220.7 87.3h1.0M254.7 108.8h1.0M224.9 78.6h1.0M234.7 87.9h1.0M242.0 118.3h1.0M224.0 111.9h1.0M230.3 100.4h1.0M219.2 102.3h1.0M223.7 104.1h1.0M219.8 111.2h1.0M235.3 98.4h1.0M236.7 97.6h1.0M232.1 99.2h1.0M244.0 106.7h1.0M245.0 107.8h1.0M234.4 101.4h1.0M232.8 110.6h1.0M232.4 96.0h1.0M231.1 103.6h1.0M244.4 100.0h1.0M236.3 96.6h1.0M232.0 114.3h1.0M232.8 101.8h1.0M238.6 96.8h1.0M231.5 104.6h1.0M236.9 96.7h1.0M234.2 109.4h1.0M244.7 112.6h1.0M243.3 113.9h1.0M223.8 94.8h1.0M233.3 103.3h1.0M239.9 120.2h1.0M231.1 102.5h1.0M240.6 115.5h1.0M237.0 117.3h1.0M239.0 93.8h1.0M234.0 114.4h1.0M236.8 111.0h1.0M238.5 112.2h1.0M223.4 117.2h1.0M227.6 107.6h1.0M226.8 104.4h1.0M247.2 110.9h1.0M236.8 102.0h1.0M237.3 108.9h1.0M235.8 88.4h1.0M230.6 118.3h1.0M228.9 99.7h1.0M240.9 109.7h1.0M231.7 106.8h1.0M246.4 106.7h1.0M236.0 105.7h1.0M235.2 105.2h1.0M232.9 91.1h1.0M234.0 100.1h1.0M234.8 114.3h1.0M246.0 97.5h1.0M252.2 97.9h1.0M225.8 120.9h1.0M236.5 114.6h1.0M239.9 117.9h1.0M227.7 103.8h1.0M229.8 106.3h1.0M231.1 110.4h1.0M216.4 107.2h1.0M239.5 104.4h1.0M234.2 92.6h1.0M233.9 98.5h1.0M235.2 92.4h1.0M236.4 117.5h1.0M252.0 103.1h1.0M235.9 103.2h1.0M240.8 107.5h1.0M230.6 104.2h1.0M237.2 109.0h1.0M232.2 99.1h1.0M233.4 92.0h1.0M227.8 117.9h1.0M228.4 98.0h1.0M238.0 100.9h1.0M240.2 98.5h1.0M238.1 100.3h1.0M229.5 104.0h1.0M237.0 110.7h1.0M215.5 93.8h1.0M241.7 107.5h1.0M234.3 98.9h1.0M236.6 114.3h1.0M243.4 95.3h1.0M231.4 104.8h1.0M241.8 110.9h1.0M231.3 92.9h1.0M238.7 105.6h1.0M231.6 105.1h1.0M236.9 98.1h1.0M245.6 103.7h1.0M229.8 111.7h1.0M230.1 105.8h1.0M232.2 100.6h1.0M236.9 102.8h1.0M255.4 110.1h1.0M230.3 114.0h1.0M219.3 109.0h1.0M229.8 109.6h1.0M222.8 115.6h1.0M230.5 91.3h1.0M234.8 92.6h1.0M227.5 85.1h1.0M229.6 110.4h1.0M220.7 84.3h1.0M236.1 104.0h1.0M229.1 109.6h1.0M242.9 93.8h1.0M242.6 99.7h1.0M228.2 101.3h1.0M231.9 109.7h1.0M235.1 92.0h1.0M240.4 107.3h1.0M222.2 108.4h1.0M234.2 105.2h1.0M248.8 106.9h1.0M234.1 114.1h1.0M236.4 106.1h1.0M234.8 103.9h1.0M225.8 100.5h1.0M241.9 110.1h1.0M236.8 102.0h1.0M236.0 109.5h1.0M240.3 105.5h1.0M240.7 113.8h1.0M220.6 96.2h1.0M238.4 105.1h1.0M230.4 106.4h1.0M236.0 107.5h1.0M229.5 112.6h1.0M228.3 106.5h1.0M242.0 112.1h1.0M234.8 119.8h1.0M232.7 110.6h1.0M232.7 95.4h1.0M235.5 92.7h1.0M234.7 109.4h1.0M217.1 99.2h1.0M228.3 105.7h1.0M233.1 102.5h1.0M240.5 115.1h1.0M245.2 114.7h1.0M227.9 94.3h1.0M249.5 107.8h1.0M235.7 101.8h1.0M238.6 94.0h1.0M231.0 108.8h1.0M230.4 102.4h1.0M245.8 108.8h1.0M233.4 123.7h1.0M234.3 114.6h1.0M243.8 113.8h1.0M248.0 102.2h1.0M223.8 93.4h1.0M233.7 113.9h1.0M235.0 101.7h1.0M248.7 105.9h1.0M253.6 103.1h1.0M234.7 104.8h1.0M237.9 123.6h1.0M241.7 102.3h1.0M243.8 102.8h1.0M232.8 105.4h1.0M241.6 107.0h1.0M229.9 93.9h1.0M215.1 87.8h1.0M224.8 98.3h1.0M236.8 102.5h1.0M241.1 98.4h1.0M218.3 94.2h1.0M221.7 95.1h1.0M235.0 100.8h1.0M239.5 91.4h1.0M243.1 100.4h1.0M212.9 104.4h1.0M241.1 103.6h1.0M233.9 92.9h1.0M246.0 102.2h1.0M237.5 104.0h1.0M233.6 109.8h1.0M236.3 91.1h1.0M242.5 110.1h1.0M236.9 100.4h1.0M235.8 105.5h1.0M224.6 108.2h1.0M239.1 97.3h1.0M235.7 97.5h1.0M249.3 104.4h1.0M235.4 109.6h1.0M234.9 99.5h1.0M230.8 92.1h1.0M241.0 98.9h1.0M234.0 106.7h1.0M230.3 112.5h1.0M247.6 101.1h1.0M249.0 102.7h1.0M232.2 102.0h1.0M227.9 101.9h1.0M244.1 97.2h1.0M229.3 99.6h1.0M256.8 107.8h1.0M234.6 104.5h1.0M242.8 104.7h1.0M225.8 94.8h1.0M235.3 99.4h1.0M243.8 99.0h1.0M238.9 112.5h1.0M231.6 114.9h1.0M254.1 108.5h1.0M241.2 117.0h1.0M233.9 101.3h1.0M231.1 101.0h1.0M233.6 93.3h1.0M245.8 106.7h1.0M229.8 99.6h1.0M235.9 104.6h1.0M229.5 107.0h1.0M245.1 102.9h1.0M234.4 94.8h1.0M242.1 104.2h1.0M239.9 103.7h1.0M231.3 103.6h1.0M240.9 109.7h1.0M242.7 102.9h1.0M227.0 100.8h1.0M241.0 118.1h1.0M262.5 115.2h1.0M233.4 102.9h1.0M240.5 97.0h1.0M225.6 99.3h1.0M239.1 107.3h1.0M231.2 110.1h1.0M241.5 123.5h1.0M235.3 102.0h1.0M226.8 104.2h1.0M244.0 102.0h1.0M234.0 104.4h1.0M228.0 100.2h1.0M236.2 95.6h1.0M228.4 111.3h1.0M238.7 105.4h1.0M235.2 114.1h1.0M232.9 99.8h1.0M240.7 106.7h1.0M226.0 108.2h1.0M243.0 90.1h1.0M220.5 92.1h1.0M247.8 111.3h1.0M237.0 105.0h1.0M233.7 89.5h1.0M230.1 97.7h1.0M239.8 96.3h1.0M234.5 100.2h1.0M234.3 116.2h1.0M243.5 100.5h1.0M232.4 119.8h1.0M233.9 102.0h1.0M238.9 98.8h1.0M243.8 117.4h1.0M234.5 111.6h1.0M236.9 115.2h1.0M236.0 119.6h1.0M241.3 113.2h1.0M247.0 115.1h1.0M228.6 90.0h1.0M234.7 97.7h1.0M235.3 107.8h1.0M240.1 106.4h1.0M247.0 111.2h1.0M235.5 100.6h1.0M237.3 113.3h1.0M244.3 121.2h1.0M226.2 108.0h1.0M229.8 110.4h1.0M232.2 108.1h1.0M235.6 111.8h1.0M237.4 106.3h1.0M231.7 100.1h1.0M249.0 107.5h1.0M230.3 104.8h1.0M234.1 92.3h1.0M243.9 107.2h1.0M241.5 105.3h1.0M235.5 106.1h1.0M238.5 100.5h1.0M241.9 109.0h1.0M235.5 109.4h1.0M240.6 99.5h1.0M228.7 106.3h1.0M236.2 110.7h1.0M223.1 109.0h1.0M228.8 96.5h1.0M226.9 95.5h1.0M245.1 105.6h1.0M232.1 95.8h1.0M237.8 124.3h1.0M228.5 97.2h1.0M234.0 97.9h1.0M233.4 109.1h1.0M229.0 99.9h1.0M242.1 86.5h1.0M222.9 101.7h1.0M240.3 96.9h1.0M255.7 102.2h1.0M229.2 90.7h1.0M235.7 97.0h1.0M223.6 101.4h1.0M235.2 103.3h1.0M222.2 93.8h1.0M240.2 98.8h1.0M231.6 96.8h1.0M221.3 103.4h1.0M225.5 101.6h1.0M223.2 92.7h1.0M233.1 108.6h1.0M241.8 98.9h1.0M232.2 106.4h1.0M226.2 95.5h1.0M228.8 105.3h1.0M236.0 102.8h1.0M216.5 102.1h1.0M239.6 108.1h1.0M238.2 107.4h1.0M216.3 102.9h1.0M244.0 105.8h1.0M261.8 84.0h1.0M268.3 89.7h1.0M256.8 89.7h1.0M256.5 93.9h1.0M267.0 92.6h1.0M267.5 84.6h1.0M276.8 83.1h1.0M272.3 94.3h1.0M274.7 101.2h1.0M267.0 101.2h1.0M271.1 91.1h1.0M275.0 95.8h1.0M271.6 88.6h1.0M270.7 85.4h1.0M269.3 99.9h1.0M263.8 97.0h1.0M263.9 91.5h1.0M261.0 91.3h1.0M271.0 98.3h1.0M267.3 95.0h1.0M265.1 91.5h1.0M270.7 94.8h1.0M265.7 93.2h1.0M274.5 91.1h1.0M279.2 89.4h1.0M271.3 98.3h1.0M265.1 90.7h1.0M260.7 86.9h1.0M279.8 103.1h1.0M271.3 100.1h1.0M262.5 96.1h1.0M274.7 93.0h1.0M259.8 94.4h1.0M266.5 85.4h1.0M267.6 93.2h1.0M266.9 94.8h1.0M262.7 92.2h1.0M281.9 95.7h1.0M266.7 89.1h1.0M271.0 94.3h1.0M269.1 84.8h1.0M260.2 93.1h1.0M265.9 89.9h1.0M270.0 86.1h1.0M274.0 91.1h1.0M267.0 93.4h1.0M270.9 90.0h1.0M267.1 98.2h1.0M272.1 89.5h1.0M255.4 98.3h1.0M272.2 97.2h1.0M265.5 89.9h1.0M265.8 101.0h1.0M253.4 85.9h1.0M263.1 96.1h1.0M272.3 93.6h1.0M281.5 97.3h1.0M265.1 84.7h1.0M265.3 86.8h1.0M271.6 88.7h1.0M270.5 93.3h1.0M265.7 93.6h1.0M268.0 93.2h1.0M266.8 91.7h1.0M272.3 89.3h1.0M273.3 85.7h1.0M278.6 90.8h1.0M274.0 96.0h1.0M272.6 98.6h1.0M269.8 90.4h1.0M274.1 98.9h1.0M263.6 85.8h1.0M280.8 97.3h1.0M270.5 87.2h1.0M276.7 94.4h1.0M264.6 87.9h1.0M274.6 87.8h1.0M271.2 90.1h1.0M268.0 100.7h1.0M265.3 89.5h1.0M264.2 96.4h1.0M278.8 93.9h1.0M275.7 94.7h1.0M269.6 94.7h1.0M270.1 96.4h1.0M265.0 86.6h1.0M258.9 93.3h1.0M259.2 94.9h1.0M265.7 89.9h1.0M268.2 95.0h1.0M262.6 87.6h1.0M273.4 97.0h1.0M271.8 89.3h1.0M269.9 91.6h1.0M259.4 97.3h1.0M267.8 98.9h1.0M268.8 90.0h1.0M262.1 89.6h1.0M257.0 98.4h1.0M279.5 77.6h1.0M272.4 100.3h1.0M266.9 100.0h1.0M277.8 87.3h1.0M275.1 99.5h1.0M271.5 95.0h1.0M270.2 95.5h1.0M273.3 80.6h1.0M277.0 90.4h1.0M269.4 92.0h1.0M267.7 90.9h1.0M272.2 91.0h1.0M253.5 91.5h1.0M269.5 77.6h1.0M266.8 92.0h1.0M268.9 89.3h1.0M268.0 92.6h1.0M270.9 90.4h1.0M269.6 93.0h1.0M269.4 94.6h1.0M268.3 102.6h1.0M271.5 88.6h1.0M266.2 102.1h1.0M274.4 91.7h1.0M259.7 88.2h1.0M270.1 85.2h1.0M271.5 97.7h1.0M262.0 84.9h1.0M266.6 97.9h1.0M276.3 94.9h1.0M268.3 90.0h1.0M264.1 89.4h1.0M252.6 95.6h1.0M270.9 93.9h1.0M269.6 97.0h1.0M272.4 93.0h1.0M280.3 90.3h1.0M269.0 95.9h1.0M269.7 86.6h1.0M265.2 97.6h1.0M268.7 93.3h1.0M268.8 87.0h1.0M273.2 87.5h1.0M272.0 91.3h1.0M264.8 83.2h1.0M266.4 100.5h1.0M276.6 98.2h1.0M263.7 87.1h1.0M273.1 92.4h1.0M277.9 102.2h1.0M272.6 95.2h1.0M270.4 87.5h1.0M276.5 81.4h1.0M270.9 84.1h1.0M269.0 99.4h1.0M267.9 94.7h1.0M275.3 85.9h1.0M272.8 96.8h1.0M277.5 91.0h1.0M267.2 89.4h1.0M267.3 90.2h1.0M266.6 90.5h1.0M270.5 102.1h1.0M265.2 87.9h1.0M274.1 90.8h1.0M270.9 100.2h1.0M263.6 101.2h1.0M252.7 87.7h1.0M259.0 104.2h1.0M276.9 99.0h1.0M268.7 84.9h1.0M269.8 102.8h1.0M266.7 85.0h1.0M271.2 96.7h1.0M258.4 86.7h1.0M258.0 83.3h1.0M260.0 97.6h1.0M269.4 95.3h1.0M272.9 92.6h1.0M271.6 94.1h1.0M268.3 92.4h1.0M261.9 91.6h1.0M273.4 87.2h1.0M267.4 96.2h1.0M268.9 93.1h1.0M268.6 91.7h1.0M266.4 89.9h1.0M265.0 91.5h1.0M265.7 84.7h1.0M261.9 91.3h1.0M270.3 87.6h1.0M268.0 100.0h1.0M274.6 87.8h1.0M259.0 90.6h1.0M275.4 93.1h1.0M268.6 97.3h1.0M268.1 95.5h1.0M264.5 93.1h1.0M264.5 104.8h1.0M260.8 92.9h1.0M273.9 94.8h1.0M267.8 107.9h1.0M272.9 88.2h1.0M273.5 98.3h1.0M266.2 95.4h1.0M267.7 85.8h1.0M267.1 89.6h1.0M274.6 97.6h1.0M269.7 85.1h1.0M269.9 92.0h1.0M272.9 98.1h1.0M268.6 91.7h1.0M280.2 94.5h1.0M263.9 89.4h1.0M275.9 89.6h1.0M276.7 89.6h1.0M262.7 91.1h1.0M273.7 96.5h1.0M270.5 93.4h1.0M273.8 103.8h1.0M262.4 96.0h1.0M270.3 94.5h1.0M263.6 105.3h1.0M267.2 92.4h1.0M276.8 88.6h1.0M268.3 93.8h1.0M256.6 87.1h1.0M261.3 95.8h1.0M262.7 100.5h1.0M274.6 96.5h1.0M265.2 90.8h1.0M260.4 92.2h1.0M275.1 95.6h1.0M270.4 99.4h1.0M270.9 90.8h1.0M264.6 90.7h1.0M276.9 98.9h1.0M268.3 94.2h1.0M258.1 94.9h1.0M262.7 95.6h1.0M264.4 88.8h1.0M268.1 92.2h1.0M273.2 98.8h1.0M265.0 92.2h1.0M265.7 91.9h1.0M281.1 94.6h1.0M269.5 95.1h1.0M266.1 106.9h1.0M269.2 88.6h1.0M262.1 93.8h1.0M271.9 104.0h1.0M274.3 93.2h1.0M265.8 95.1h1.0M274.5 85.1h1.0M267.4 98.3h1.0M270.6 97.8h1.0M264.9 97.5h1.0M264.6 92.0h1.0M260.8 95.1h1.0M270.2 92.7h1.0M267.4 97.7h1.0M267.6 93.0h1.0M262.8 97.3h1.0M262.6 85.7h1.0M265.5 91.2h1.0M271.6 77.5h1.0M270.7 92.2h1.0M265.2 97.3h1.0M270.6 91.6h1.0M278.7 105.9h1.0M269.6 87.6h1.0M280.1 91.2h1.0M271.4 88.0h1.0M276.3 90.3h1.0M266.1 90.5h1.0M275.5 85.0h1.0M262.5 87.7h1.0M270.3 104.1h1.0M267.2 91.6h1.0M258.0 98.0h1.0M261.5 86.1h1.0M275.2 92.4h1.0M271.7 96.0h1.0M276.1 92.1h1.0M270.1 90.2h1.0M253.0 92.0h1.0M270.4 93.2h1.0M265.9 97.6h1.0M266.2 99.6h1.0M266.5 85.8h1.0M264.8 81.8h1.0M263.7 92.0h1.0M275.8 93.0h1.0M271.4 96.9h1.0M265.4 98.9h1.0M266.7 89.4h1.0M274.3 104.3h1.0M271.1 94.4h1.0M270.0 83.4h1.0M262.2 98.3h1.0M266.6 94.5h1.0M262.7 94.6h1.0M258.4 84.3h1.0M273.9 91.4h1.0M267.2 93.9h1.0M266.7 92.2h1.0M263.7 96.8h1.0M273.1 99.9h1.0M280.5 101.4h1.0M272.2 99.9h1.0M274.1 92.2h1.0M262.1 102.4h1.0M269.9 94.4h1.0M270.2 97.7h1.0M277.2 91.7h1.0M269.0 85.4h1.0M263.8 80.6h1.0M268.6 94.0h1.0M266.6 89.3h1.0M276.9 93.0h1.0M272.6 97.9h1.0M270.8 84.7h1.0M269.9 83.4h1.0M273.6 94.4h1.0M266.2 95.0h1.0M263.9 91.5h1.0M258.6 90.1h1.0M275.5 84.3h1.0M271.7 92.5h1.0M272.5 89.0h1.0M269.2 95.4h1.0M278.1 98.2h1.0M263.5 90.0h1.0M275.5 95.3h1.0M264.3 94.0h1.0M266.4 96.8h1.0M262.2 101.4h1.0M269.4 96.6h1.0M267.3 96.9h1.0M271.3 97.4h1.0M265.7 90.7h1.0M261.2 93.0h1.0M272.0 94.9h1.0M276.0 99.8h1.0M272.9 100.1h1.0M268.6 105.4h1.0M271.1 87.0h1.0M259.5 92.8h1.0M267.0 83.6h1.0M275.3 90.1h1.0M271.4 84.0h1.0M264.2 99.4h1.0M273.6 97.1h1.0M268.1 87.1h1.0M272.9 94.9h1.0M261.1 97.1h1.0M266.0 102.5h1.0M270.7 97.6h1.0M270.5 93.7h1.0M271.9 92.5h1.0M268.8 96.4h1.0M267.8 94.7h1.0M271.5 90.4h1.0M273.6 86.3h1.0M260.5 98.8h1.0M267.1 89.1h1.0M267.8 91.5h1.0M269.7 97.4h1.0M274.4 92.7h1.0M261.6 99.2h1.0M271.8 86.9h1.0M259.4 97.2h1.0M264.7 85.8h1.0M266.0 84.8h1.0M267.4 87.3h1.0M265.5 93.7h1.0M266.1 89.3h1.0M267.0 85.5h1.0M267.4 99.6h1.0M258.8 87.8h1.0M261.2 92.4h1.0M266.5 94.4h1.0M271.8 90.4h1.0M274.4 95.0h1.0M284.5 96.4h1.0M269.5 92.5h1.0M264.6 98.7h1.0M269.9 89.8h1.0M272.6 87.2h1.0M269.6 94.1h1.0M263.1 87.7h1.0M268.3 95.1h1.0M268.7 92.5h1.0M261.2 90.5h1.0M262.3 96.2h1.0M275.5 95.9h1.0M256.7 76.8h1.0M269.8 91.3h1.0M267.5 93.8h1.0M276.5 95.7h1.0M272.2 90.0h1.0M264.2 86.7h1.0M275.8 93.7h1.0M265.8 96.7h1.0M279.8 81.7h1.0M278.0 84.8h1.0M268.5 89.8h1.0M273.1 78.8h1.0M269.9 89.7h1.0M264.0 97.5h1.0M274.7 87.2h1.0M271.2 93.8h1.0M273.6 88.1h1.0M274.8 95.3h1.0M276.6 96.6h1.0M274.6 100.1h1.0M268.4 93.4h1.0M269.4 98.8h1.0M271.2 95.2h1.0M268.3 90.4h1.0M267.7 101.1h1.0M279.1 89.7h1.0M271.6 93.9h1.0M279.3 106.4h1.0M264.8 97.8h1.0M268.7 88.5h1.0M266.6 94.6h1.0M266.8 90.0h1.0M267.4 92.2h1.0M268.3 84.7h1.0M266.6 94.2h1.0M278.8 84.5h1.0M272.7 95.0h1.0M264.9 95.0h1.0M266.0 97.6h1.0M273.0 105.2h1.0M272.0 83.9h1.0M265.7 86.4h1.0M274.0 87.5h1.0M261.2 89.9h1.0M266.4 97.8h1.0M278.4 91.1h1.0M254.8 89.8h1.0M267.9 86.8h1.0M274.4 89.5h1.0M268.2 90.6h1.0M264.7 92.4h1.0M264.1 85.1h1.0M257.7 92.6h1.0M261.8 96.1h1.0M269.4 94.9h1.0M265.9 86.1h1.0M268.9 97.5h1.0M268.2 97.4h1.0M270.5 94.6h1.0M260.0 86.2h1.0M267.3 84.9h1.0M267.1 93.2h1.0M267.3 87.3h1.0M264.2 85.6h1.0M257.1 97.9h1.0M272.4 98.0h1.0M273.4 96.5h1.0M281.9 100.2h1.0M273.0 97.9h1.0M277.9 86.6h1.0M272.2 99.3h1.0M266.9 93.6h1.0M271.7 95.4h1.0M262.6 101.6h1.0M270.3 95.4h1.0M268.4 101.6h1.0M263.2 93.3h1.0M275.6 90.9h1.0M275.1 89.1h1.0M271.5 92.2h1.0M273.4 83.8h1.0M278.0 92.6h1.0M268.3 92.3h1.0M261.6 90.1h1.0M263.8 80.7h1.0M272.8 81.2h1.0M270.3 96.9h1.0M260.9 87.7h1.0M276.2 100.5h1.0M270.2 89.1h1.0M277.8 95.0h1.0M275.2 85.0h1.0M266.7 89.5h1.0M269.6 91.8h1.0M265.0 96.2h1.0M264.5 102.2h1.0M267.4 98.3h1.0M271.8 85.0h1.0M276.5 93.0h1.0M264.2 92.1h1.0M272.9 89.5h1.0M269.3 96.2h1.0M267.9 101.7h1.0M275.2 90.5h1.0M267.2 99.1h1.0M276.6 100.7h1.0M267.3 87.2h1.0M264.1 102.8h1.0M273.3 102.3h1.0M261.2 94.6h1.0M262.7 102.4h1.0M268.1 94.4h1.0M269.1 99.3h1.0M267.7 96.6h1.0M258.4 88.3h1.0M261.9 94.4h1.0M271.9 92.1h1.0M272.1 90.3h1.0M263.6 86.7h1.0M270.6 88.7h1.0M270.3 86.2h1.0M274.7 99.3h1.0M265.2 82.2h1.0M277.1 93.4h1.0M267.5 89.6h1.0M277.1 86.1h1.0M274.2 97.0h1.0M263.7 88.6h1.0M267.5 99.6h1.0M270.7 92.0h1.0M274.7 94.8h1.0M261.6 92.3h1.0M266.5 96.6h1.0M272.6 98.2h1.0M271.8 90.5h1.0M263.4 93.0h1.0M264.3 102.7h1.0M271.5 89.8h1.0M263.6 103.0h1.0M270.5 90.8h1.0M274.2 89.9h1.0M269.3 83.7h1.0M254.5 88.3h1.0M275.6 83.4h1.0M275.5 89.9h1.0M276.9 96.8h1.0M273.9 92.7h1.0M260.0 89.7h1.0M276.9 87.4h1.0M271.1 89.2h1.0M274.3 85.0h1.0M268.3 86.0h1.0M267.9 103.7h1.0M267.9 94.3h1.0M277.9 88.0h1.0M270.7 96.7h1.0M268.1 101.3h1.0M262.2 89.5h1.0M271.8 92.4h1.0M269.3 86.1h1.0M270.0 84.2h1.0M274.6 100.6h1.0M273.2 111.8h1.0M269.2 88.9h1.0M270.4 84.1h1.0M269.7 100.8h1.0M273.1 98.8h1.0M273.0 95.6h1.0M270.0 101.1h1.0M264.5 91.1h1.0M273.8 94.5h1.0M274.1 97.3h1.0M263.3 91.3h1.0M271.3 95.6h1.0M267.1 91.7h1.0M257.2 95.5h1.0M268.9 93.9h1.0M274.4 82.1h1.0M265.2 93.5h1.0M265.3 85.1h1.0M274.8 88.3h1.0M263.1 83.8h1.0M264.0 97.5h1.0M267.4 91.2h1.0M272.6 90.9h1.0M272.6 99.8h1.0M266.2 96.9h1.0M267.4 91.8h1.0M269.6 81.5h1.0M267.0 96.6h1.0M264.4 91.5h1.0M263.1 91.0h1.0M273.0 97.0h1.0M267.9 89.5h1.0M284.8 92.5h1.0M272.5 97.9h1.0M265.0 96.1h1.0M269.1 89.6h1.0M271.0 101.0h1.0M271.3 99.3h1.0M271.6 103.4h1.0M271.6 92.7h1.0M268.4 94.2h1.0M272.7 98.8h1.0M281.1 95.4h1.0M266.7 93.8h1.0M267.0 92.4h1.0M273.0 91.3h1.0M276.0 89.4h1.0M273.6 89.5h1.0M275.8 95.2h1.0M268.8 91.3h1.0M267.9 85.2h1.0M272.7 93.3h1.0M272.8 102.1h1.0M278.3 100.5h1.0M277.7 82.0h1.0M259.1 88.4h1.0M273.4 97.3h1.0M265.4 93.4h1.0M257.6 93.4h1.0M271.3 92.3h1.0M268.2 93.3h1.0M267.2 87.4h1.0M262.1 99.5h1.0M263.5 87.3h1.0M267.9 92.2h1.0M260.9 101.4h1.0M268.5 99.0h1.0M269.7 93.0h1.0M268.2 93.0h1.0M270.7 89.7h1.0M268.7 90.3h1.0M262.7 91.7h1.0M263.4 100.4h1.0M269.8 90.7h1.0M274.3 96.1h1.0M269.9 95.4h1.0M266.3 95.3h1.0M270.0 91.5h1.0M259.1 97.1h1.0M263.6 93.9h1.0M267.0 93.6h1.0M268.7 90.5h1.0M267.2 81.3h1.0M267.5 97.1h1.0M262.5 97.2h1.0M265.9 90.3h1.0M270.4 92.1h1.0M258.9 94.7h1.0M262.4 87.8h1.0M267.1 97.0h1.0M277.1 97.0h1.0M272.7 97.8h1.0M277.6 98.2h1.0M276.4 82.7h1.0M266.5 96.0h1.0M268.6 90.7h1.0M262.6 99.2h1.0M275.4 98.9h1.0M273.0 97.6h1.0M272.2 92.7h1.0M272.6 108.5h1.0M271.5 92.9h1.0M270.1 87.5h1.0M270.5 98.5h1.0M275.6 85.3h1.0M264.7 103.7h1.0M263.3 98.7h1.0M269.0 100.4h1.0M275.4 98.9h1.0M270.3 95.4h1.0M267.9 86.0h1.0M273.6 89.9h1.0M269.6 96.3h1.0M258.6 92.1h1.0M263.5 95.3h1.0M257.6 89.5h1.0M267.8 88.9h1.0M266.6 94.9h1.0M271.4 97.3h1.0M280.6 93.3h1.0M265.8 87.9h1.0M269.1 84.2h1.0M266.9 104.3h1.0M253.6 87.0h1.0M264.9 88.5h1.0M265.1 89.2h1.0M270.5 98.1h1.0M264.4 89.1h1.0M262.0 96.2h1.0M272.3 94.8h1.0M268.7 86.9h1.0M264.1 94.0h1.0M264.9 86.5h1.0M267.4 92.3h1.0M273.5 97.2h1.0M276.8 91.9h1.0M261.9 88.2h1.0M275.4 90.8h1.0M269.3 92.1h1.0M271.0 94.9h1.0M274.4 80.6h1.0M263.8 83.0h1.0M273.7 95.7h1.0M261.9 92.4h1.0M266.5 93.1h1.0M264.4 94.2h1.0M278.3 92.1h1.0M278.0 90.6h1.0M273.2 93.6h1.0M271.9 96.6h1.0M266.1 94.8h1.0M278.6 93.1h1.0M276.7 87.3h1.0M274.0 94.3h1.0M268.5 86.7h1.0M267.2 89.3h1.0M268.6 93.8h1.0M276.4 93.6h1.0M263.9 98.9h1.0M269.7 97.8h1.0M278.0 95.6h1.0M273.9 91.2h1.0M278.6 92.9h1.0M271.4 91.7h1.0M271.5 102.4h1.0M276.7 95.5h1.0M272.7 89.4h1.0M271.0 88.4h1.0M266.4 99.7h1.0M261.1 88.3h1.0M277.3 95.0h1.0M266.9 94.0h1.0M265.1 98.8h1.0M273.9 88.2h1.0M264.4 95.5h1.0M261.8 94.1h1.0M266.1 97.3h1.0M268.9 100.4h1.0M270.7 93.6h1.0M272.0 91.8h1.0M274.5 97.8h1.0M268.6 85.4h1.0M271.2 94.0h1.0M268.6 87.7h1.0M265.8 86.5h1.0M271.5 84.4h1.0M271.2 84.0h1.0M279.4 97.5h1.0M272.5 97.8h1.0M265.5 93.6h1.0M272.5 98.7h1.0M267.9 93.2h1.0M277.9 90.3h1.0M261.4 69.5h1.0M279.7 65.2h1.0M280.1 66.1h1.0M284.6 63.4h1.0M264.2 65.3h1.0M269.3 67.3h1.0M258.8 72.8h1.0M283.4 67.8h1.0M279.1 64.7h1.0M277.2 68.4h1.0M272.0 69.2h1.0M270.7 66.9h1.0M268.5 67.8h1.0M282.9 65.9h1.0M265.9 77.2h1.0M280.9 66.6h1.0M275.0 64.9h1.0M262.2 69.6h1.0M257.9 69.4h1.0M264.5 72.8h1.0M271.8 62.0h1.0M259.4 67.6h1.0M278.4 69.0h1.0M283.4 66.8h1.0M277.6 66.9h1.0M255.5 73.5h1.0M249.0 69.1h1.0M280.8 67.2h1.0M286.9 61.7h1.0M268.2 65.2h1.0M277.4 68.3h1.0M269.5 66.3h1.0M265.9 68.3h1.0M282.0 67.7h1.0M266.7 66.2h1.0M280.6 67.9h1.0M289.2 70.8h1.0M271.0 67.7h1.0M290.7 66.8h1.0M259.2 72.9h1.0M281.3 62.5h1.0M272.3 64.1h1.0M297.6 62.7h1.0M272.6 61.9h1.0M264.3 69.8h1.0M288.3 65.3h1.0M257.0 72.5h1.0M276.6 68.4h1.0M264.6 73.4h1.0M285.9 64.2h1.0M271.2 72.0h1.0M280.7 67.7h1.0M271.8 69.6h1.0M261.2 69.9h1.0M250.8 75.2h1.0M289.9 62.2h1.0M274.5 69.6h1.0M260.7 73.6h1.0M269.1 66.8h1.0M282.0 63.3h1.0M257.4 69.0h1.0M294.7 63.2h1.0M269.7 69.6h1.0M268.5 71.3h1.0M284.9 70.7h1.0M274.2 72.2h1.0M262.2 70.9h1.0M281.3 65.0h1.0M276.6 63.7h1.0M283.3 68.0h1.0M263.0 71.4h1.0M260.9 69.6h1.0M278.4 66.3h1.0M267.8 68.6h1.0M250.6 65.2h1.0M266.3 69.1h1.0M278.3 67.7h1.0M264.9 69.2h1.0M284.8 62.4h1.0M267.0 69.2h1.0M271.1 69.6h1.0M255.9 76.6h1.0M264.1 72.7h1.0M270.2 70.1h1.0M277.8 66.7h1.0M273.9 63.9h1.0M282.6 64.5h1.0M250.3 68.7h1.0M272.3 67.7h1.0M270.6 71.4h1.0M261.6 73.2h1.0M271.6 70.7h1.0M264.6 69.7h1.0M276.3 70.0h1.0M268.5 68.0h1.0M277.0 61.5h1.0M262.9 70.4h1.0M284.7 65.5h1.0M276.0 62.3h1.0M289.8 62.8h1.0M270.7 61.4h1.0M267.0 67.8h1.0M273.4 71.2h1.0M267.3 67.2h1.0M261.6 74.0h1.0M272.2 68.7h1.0M271.3 66.1h1.0M265.5 64.4h1.0M268.2 71.0h1.0M262.3 72.0h1.0M273.4 63.5h1.0M258.6 69.7h1.0M289.0 67.6h1.0M272.3 65.9h1.0M281.4 67.2h1.0M260.0 65.1h1.0M275.4 64.7h1.0M270.7 70.4h1.0M281.8 62.6h1.0M280.7 62.1h1.0M255.6 67.6h1.0M283.5 64.6h1.0M257.0 66.7h1.0M285.4 64.9h1.0M271.5 69.8h1.0M260.0 74.9h1.0M279.1 65.4h1.0M272.4 72.6h1.0M262.1 71.7h1.0M264.6 69.0h1.0M276.8 68.5h1.0M258.3 75.3h1.0M263.4 74.1h1.0M290.6 66.3h1.0M264.3 69.4h1.0M275.7 69.6h1.0M276.5 67.7h1.0M281.6 66.5h1.0M280.8 66.9h1.0M246.7 78.5h1.0M267.1 65.7h1.0M283.9 65.3h1.0M264.1 66.6h1.0M290.3 66.7h1.0M274.5 70.7h1.0M259.8 74.5h1.0M277.7 65.9h1.0M291.6 64.1h1.0M265.3 71.7h1.0M277.6 67.4h1.0M263.1 70.8h1.0M266.1 69.9h1.0M273.2 68.6h1.0M277.2 66.7h1.0M275.6 68.6h1.0M274.2 63.5h1.0M296.2 61.8h1.0M261.1 66.6h1.0M253.3 71.8h1.0M277.7 64.8h1.0M273.9 69.2h1.0M257.6 74.7h1.0M289.4 60.9h1.0M265.0 67.3h1.0M257.9 72.0h1.0M276.3 71.3h1.0M278.5 68.9h1.0M295.8 64.3h1.0M256.6 71.2h1.0M259.2 69.5h1.0M241.4 99.7h1.0M241.0 119.0h1.0M228.1 123.9h1.0M223.9 87.2h1.0M221.6 84.0h1.0M237.3 94.6h1.0M225.2 83.1h1.0M242.5 124.4h1.0M250.4 93.6h1.0M247.5 88.7h1.0M213.4 107.2h1.0M239.2 123.1h1.0M214.2 119.5h1.0M224.5 119.6h1.0M224.5 90.5h1.0M235.3 93.5h1.0M213.8 85.8h1.0M221.6 112.0h1.0M251.2 97.3h1.0M213.2 110.5h1.0M226.5 83.4h1.0M232.6 113.9h1.0M216.6 87.5h1.0M224.3 124.5h1.0M238.2 93.6h1.0M225.9 103.0h1.0M235.4 117.3h1.0M251.7 109.2h1.0M216.1 85.5h1.0M240.2 121.8h1.0M213.0 113.6h1.0M228.4 114.4h1.0M242.2 104.0h1.0M252.2 89.1h1.0M231.4 110.2h1.0M238.4 95.4h1.0M232.5 117.8h1.0M217.0 96.1h1.0M215.8 110.8h1.0M235.3 105.3h1.0M248.7 88.6h1.0M222.8 111.3h1.0M243.4 123.7h1.0M238.4 84.6h1.0M226.1 107.3h1.0M239.6 109.9h1.0M214.7 118.1h1.0M222.7 95.7h1.0M228.0 117.7h1.0M239.0 113.9h1.0M213.5 90.2h1.0M213.8 114.1h1.0M250.9 101.3h1.0M234.2 90.8h1.0M249.7 92.4h1.0M253.9 96.4h1.0M219.0 113.8h1.0M227.9 88.6h1.0M253.4 109.6h1.0M212.3 117.1h1.0M253.3 104.3h1.0M254.0 121.0h1.0M243.7 112.9h1.0M228.4 104.2h1.0M240.4 123.6h1.0M212.9 105.7h1.0M226.8 88.4h1.0M213.5 91.2h1.0M230.0 117.4h1.0M240.7 118.8h1.0M212.8 98.9h1.0M249.6 97.5h1.0M215.7 90.9h1.0M221.9 118.4h1.0M228.3 124.4h1.0M216.7 122.4h1.0M243.4 101.0h1.0M240.5 120.4h1.0M236.8 90.7h1.0M230.0 85.0h1.0M237.0 106.1h1.0M227.8 96.8h1.0M240.0 102.7h1.0M249.6 85.1h1.0M244.5 89.5h1.0M227.4 103.0h1.0M249.2 103.8h1.0M225.1 112.8h1.0M240.5 113.8h1.0M243.1 98.5h1.0M275.9 80.1h1.0M268.4 85.4h1.0M262.9 97.4h1.0M273.7 113.2h1.0M281.6 101.4h1.0M299.9 122.2h1.0M288.5 120.8h1.0M291.7 94.7h1.0M292.3 124.5h1.0M297.1 103.8h1.0M296.4 83.3h1.0M263.8 81.6h1.0M270.0 96.6h1.0M267.7 98.7h1.0M291.3 88.1h1.0M277.4 120.5h1.0M297.6 93.9h1.0M281.2 114.8h1.0M257.2 89.8h1.0M266.7 99.5h1.0M273.7 97.2h1.0M261.9 114.5h1.0M280.7 96.5h1.0M258.1 90.0h1.0M266.7 117.7h1.0M256.5 109.3h1.0M261.3 87.7h1.0M287.1 90.7h1.0M278.1 84.5h1.0M298.2 117.5h1.0M261.8 98.9h1.0M264.4 117.4h1.0M258.7 106.3h1.0M264.8 115.7h1.0M269.0 114.0h1.0M274.9 101.0h1.0M267.0 91.5h1.0M263.5 97.6h1.0M272.7 103.9h1.0M258.2 124.9h1.0M292.2 92.9h1.0M281.1 113.1h1.0M278.4 91.5h1.0M276.5 108.5h1.0M280.4 113.1h1.0M299.7 80.0h1.0M272.8 112.8h1.0M281.0 119.1h1.0M265.2 120.7h1.0M273.4 119.3h1.0M260.2 97.2h1.0M294.1 86.6h1.0M285.9 95.4h1.0M289.8 119.6h1.0M289.5 110.4h1.0M261.9 102.7h1.0M284.0 80.3h1.0M262.5 83.2h1.0M283.2 105.0h1.0M261.9 119.2h1.0M262.9 107.5h1.0M261.4 96.2h1.0M279.6 80.3h1.0M261.2 89.5h1.0M272.0 107.7h1.0M274.7 93.2h1.0M299.4 104.2h1.0M290.3 81.8h1.0M281.7 104.3h1.0M288.2 100.7h1.0M256.5 81.0h1.0M272.2 116.9h1.0M268.6 115.4h1.0M285.1 85.2h1.0M261.7 108.2h1.0M297.6 118.6h1.0M270.3 103.1h1.0M294.4 113.9h1.0M293.4 85.5h1.0M276.5 82.7h1.0M254.1 60.7h1.0M286.0 77.9h1.0M257.3 65.9h1.0M290.7 72.7h1.0M244.0 74.1h1.0M268.9 71.5h1.0M266.2 64.8h1.0M288.7 72.1h1.0M280.2 76.6h1.0M284.6 68.2h1.0M276.4 76.1h1.0M249.5 75.5h1.0M285.6 73.9h1.0M283.2 72.5h1.0M283.9 77.3h1.0M267.6 69.0h1.0M265.4 76.6h1.0M248.8 61.6h1.0M288.9 72.8h1.0M266.1 62.1h1.0M297.3 66.7h1.0M256.3 70.5h1.0M269.0 72.5h1.0M261.1 72.3h1.0M276.4 63.2h1.0M298.0 61.6h1.0M253.3 62.6h1.0M263.1 71.1h1.0M257.7 63.2h1.0M245.7 76.5h1.0M285.4 57.0h1.0M244.6 33.2h1.0M280.1 58.5h1.0M219.9 39.8h1.0" stroke="#000" stroke-width="1.0" opacity="0.82" fill="none"/>
<line x1="210.80" y1="24.00" x2="210.80" y2="126.80" stroke="#000" stroke-width="1.7"/>
<line x1="210.00" y1="126.00" x2="324.30" y2="126.00" stroke="#000" stroke-width="1.7"/>
<line x1="207.60" y1="113.00" x2="210.80" y2="113.00" stroke="#000" stroke-width="1.2"/>
<line x1="207.60" y1="93.00" x2="210.80" y2="93.00" stroke="#000" stroke-width="1.2"/>
<line x1="207.60" y1="73.00" x2="210.80" y2="73.00" stroke="#000" stroke-width="1.2"/>
<line x1="207.60" y1="53.00" x2="210.80" y2="53.00" stroke="#000" stroke-width="1.2"/>
<line x1="207.60" y1="33.00" x2="210.80" y2="33.00" stroke="#000" stroke-width="1.2"/>
<line x1="224.30" y1="126.00" x2="224.30" y2="129.20" stroke="#000" stroke-width="1.2"/>
<line x1="246.80" y1="126.00" x2="246.80" y2="129.20" stroke="#000" stroke-width="1.2"/>
<line x1="269.30" y1="126.00" x2="269.30" y2="129.20" stroke="#000" stroke-width="1.2"/>
<line x1="291.80" y1="126.00" x2="291.80" y2="129.20" stroke="#000" stroke-width="1.2"/>
<line x1="314.30" y1="126.00" x2="314.30" y2="129.20" stroke="#000" stroke-width="1.2"/>
<path d="M209.0 123.5h1.8M209.0 121.0h1.8M209.0 119.0h1.8M209.0 117.4h1.8M209.0 116.1h1.8M209.0 114.9h1.8M209.0 113.9h1.8M209.0 107.0h1.8M209.0 103.5h1.8M209.0 101.0h1.8M209.0 99.0h1.8M209.0 97.4h1.8M209.0 96.1h1.8M209.0 94.9h1.8M209.0 93.9h1.8M209.0 87.0h1.8M209.0 83.5h1.8M209.0 81.0h1.8M209.0 79.0h1.8M209.0 77.4h1.8M209.0 76.1h1.8M209.0 74.9h1.8M209.0 73.9h1.8M209.0 67.0h1.8M209.0 63.5h1.8M209.0 61.0h1.8M209.0 59.0h1.8M209.0 57.4h1.8M209.0 56.1h1.8M209.0 54.9h1.8M209.0 53.9h1.8M209.0 47.0h1.8M209.0 43.5h1.8M209.0 41.0h1.8M209.0 39.0h1.8M209.0 37.4h1.8M209.0 36.1h1.8M209.0 34.9h1.8M209.0 33.9h1.8" stroke="#000" stroke-width="0.8"/>
<path d="M212.5 126.0v1.8M215.3 126.0v1.8M217.5 126.0v1.8M219.3 126.0v1.8M220.8 126.0v1.8M222.1 126.0v1.8M223.3 126.0v1.8M231.1 126.0v1.8M235.0 126.0v1.8M237.8 126.0v1.8M240.0 126.0v1.8M241.8 126.0v1.8M243.3 126.0v1.8M244.6 126.0v1.8M245.8 126.0v1.8M253.6 126.0v1.8M257.5 126.0v1.8M260.3 126.0v1.8M262.5 126.0v1.8M264.3 126.0v1.8M265.8 126.0v1.8M267.1 126.0v1.8M268.3 126.0v1.8M276.1 126.0v1.8M280.0 126.0v1.8M282.8 126.0v1.8M285.0 126.0v1.8M286.8 126.0v1.8M288.3 126.0v1.8M289.6 126.0v1.8M290.8 126.0v1.8M298.6 126.0v1.8M302.5 126.0v1.8M305.3 126.0v1.8M307.5 126.0v1.8M309.3 126.0v1.8M310.8 126.0v1.8M312.1 126.0v1.8M313.3 126.0v1.8M321.1 126.0v1.8" stroke="#000" stroke-width="0.8"/>
<line x1="261.50" y1="23.30" x2="261.50" y2="78.50" stroke="#000" stroke-width="1.1"/>
<line x1="261.00" y1="77.90" x2="323.80" y2="77.90" stroke="#000" stroke-width="1.1"/>
<line x1="210.80" y1="79.30" x2="261.50" y2="79.30" stroke="#000" stroke-width="1.1"/>
<line x1="254.60" y1="79.30" x2="254.60" y2="126.00" stroke="#000" stroke-width="1.1"/>
<text x="198.80" y="115.10" font-size="6.8" text-anchor="middle">10</text>
<text x="203.20" y="111.10" font-size="4.2">1</text>
<text x="198.80" y="95.10" font-size="6.8" text-anchor="middle">10</text>
<text x="203.20" y="91.10" font-size="4.2">2</text>
<text x="198.80" y="75.10" font-size="6.8" text-anchor="middle">10</text>
<text x="203.20" y="71.10" font-size="4.2">3</text>
<text x="198.80" y="55.10" font-size="6.8" text-anchor="middle">10</text>
<text x="203.20" y="51.10" font-size="4.2">4</text>
<text x="198.80" y="35.10" font-size="6.8" text-anchor="middle">10</text>
<text x="203.20" y="31.10" font-size="4.2">5</text>
<text x="223.10" y="138.50" font-size="6.8" text-anchor="middle">10</text>
<text x="227.00" y="134.00" font-size="4.2">1</text>
<text x="245.60" y="138.50" font-size="6.8" text-anchor="middle">10</text>
<text x="249.50" y="134.00" font-size="4.2">2</text>
<text x="268.10" y="138.50" font-size="6.8" text-anchor="middle">10</text>
<text x="272.00" y="134.00" font-size="4.2">3</text>
<text x="290.60" y="138.50" font-size="6.8" text-anchor="middle">10</text>
<text x="294.50" y="134.00" font-size="4.2">4</text>
<text x="313.10" y="138.50" font-size="6.8" text-anchor="middle">10</text>
<text x="317.00" y="134.00" font-size="4.2">5</text>
<text x="266.30" y="151.80" font-size="10.5" text-anchor="middle" textLength="61" lengthAdjust="spacingAndGlyphs">Annexin V-FITC</text>
<text x="188.30" y="74.50" font-size="10.5" text-anchor="middle" textLength="68" lengthAdjust="spacingAndGlyphs" transform="rotate(-90 188.3 74.5)">Propidium Iodide</text>
<text x="266.80" y="17.10" font-size="10" text-anchor="middle" font-weight="bold" textLength="34.4" lengthAdjust="spacingAndGlyphs">shMAF</text>
<rect x="211.8" y="114.6" width="19.5" height="8.4" fill="#fff"/>
<text x="211.60" y="31.00" font-size="6.4" textLength="8.2" lengthAdjust="spacingAndGlyphs" style="stroke-width:0.45px">UL</text>
<text x="211.10" y="40.20" font-size="8.2" textLength="14.5" lengthAdjust="spacingAndGlyphs" style="stroke-width:0.45px">1.83</text>
<text x="297.20" y="31.10" font-size="7.2" textLength="10.3" lengthAdjust="spacingAndGlyphs" style="stroke-width:0.45px">UR</text>
<text x="298.00" y="40.60" font-size="8.2" textLength="18.9" lengthAdjust="spacingAndGlyphs" style="stroke-width:0.45px">10.36</text>
<text x="298.90" y="111.60" font-size="7.2" textLength="8.5" lengthAdjust="spacingAndGlyphs" style="stroke-width:0.45px">LR</text>
<text x="299.70" y="120.90" font-size="8.2" textLength="18.8" lengthAdjust="spacingAndGlyphs" style="stroke-width:0.45px">37.32</text>
<text x="211.80" y="112.00" font-size="6.4" style="stroke-width:0.45px">LL</text>
<text x="211.40" y="122.30" font-size="8.2" textLength="19.2" lengthAdjust="spacingAndGlyphs" style="stroke-width:0.45px">50.49</text>
<line x1="86.70" y1="182.50" x2="86.70" y2="275.20" stroke="#000" stroke-width="1.6"/>
<line x1="85.90" y1="274.40" x2="176.00" y2="274.40" stroke="#000" stroke-width="1.6"/>
<path d="M83.3 274.4h3.4M84.5 269.2h2.2M84.5 264.1h2.2M84.5 258.9h2.2M84.5 253.8h2.2M83.3 248.6h3.4M84.5 243.5h2.2M84.5 238.3h2.2M84.5 233.2h2.2M84.5 228.0h2.2M83.3 222.9h3.4M84.5 217.7h2.2M84.5 212.6h2.2M84.5 207.4h2.2M84.5 202.3h2.2M83.3 197.1h3.4M84.5 191.9h2.2M84.5 186.8h2.2" stroke="#000" stroke-width="1.0"/>
<text x="79.50" y="199.80" font-size="6.8" text-anchor="end">150</text>
<text x="79.50" y="225.60" font-size="6.8" text-anchor="end">100</text>
<text x="79.50" y="251.30" font-size="6.8" text-anchor="end">50</text>
<text x="79.50" y="277.10" font-size="6.8" text-anchor="end">0</text>
<line x1="97.70" y1="274.40" x2="97.70" y2="277.00" stroke="#000" stroke-width="1.1"/>
<line x1="116.00" y1="274.40" x2="116.00" y2="277.00" stroke="#000" stroke-width="1.1"/>
<line x1="134.30" y1="274.40" x2="134.30" y2="277.00" stroke="#000" stroke-width="1.1"/>
<line x1="152.50" y1="274.40" x2="152.50" y2="277.00" stroke="#000" stroke-width="1.1"/>
<line x1="170.70" y1="274.40" x2="170.70" y2="277.00" stroke="#000" stroke-width="1.1"/>
<path d="M88.2 274.4v1.5M90.4 274.4v1.5M92.2 274.4v1.5M93.7 274.4v1.5M94.9 274.4v1.5M95.9 274.4v1.5M96.9 274.4v1.5M103.2 274.4v1.5M106.4 274.4v1.5M108.7 274.4v1.5M110.5 274.4v1.5M111.9 274.4v1.5M113.1 274.4v1.5M114.2 274.4v1.5M115.1 274.4v1.5M121.5 274.4v1.5M124.7 274.4v1.5M127.0 274.4v1.5M128.8 274.4v1.5M130.2 274.4v1.5M131.4 274.4v1.5M132.5 274.4v1.5M133.4 274.4v1.5M139.8 274.4v1.5M143.0 274.4v1.5M145.3 274.4v1.5M147.1 274.4v1.5M148.5 274.4v1.5M149.7 274.4v1.5M150.8 274.4v1.5M151.7 274.4v1.5M158.0 274.4v1.5M161.2 274.4v1.5M163.5 274.4v1.5M165.3 274.4v1.5M166.7 274.4v1.5M167.9 274.4v1.5M169.0 274.4v1.5M169.9 274.4v1.5" stroke="#000" stroke-width="0.8"/>
<text x="96.80" y="287.10" font-size="6.8" text-anchor="middle">10</text>
<text x="100.20" y="282.90" font-size="4.2">1</text>
<text x="115.10" y="287.10" font-size="6.8" text-anchor="middle">10</text>
<text x="118.50" y="282.90" font-size="4.2">2</text>
<text x="133.40" y="287.10" font-size="6.8" text-anchor="middle">10</text>
<text x="136.80" y="282.90" font-size="4.2">3</text>
<text x="151.60" y="287.10" font-size="6.8" text-anchor="middle">10</text>
<text x="155.00" y="282.90" font-size="4.2">4</text>
<text x="169.80" y="287.10" font-size="6.8" text-anchor="middle">10</text>
<text x="173.20" y="282.90" font-size="4.2">5</text>
<text x="132.10" y="299.70" font-size="10.3" text-anchor="middle" textLength="61.5" lengthAdjust="spacingAndGlyphs">Annexin V-FITC</text>
<text x="62.30" y="229.25" font-size="11" text-anchor="middle" textLength="22.4" lengthAdjust="spacingAndGlyphs" transform="rotate(-90 62.300000000000004 229.25)">Count</text>
<path d="M87.1 274.4 L87.1 254.4 L87.8 270.9 L90.9 270.9 L95.2 268.3 L98.7 263.1 L101.3 258.7 L103.9 251.0 L106.2 238.8 L108.2 225.0 L109.6 218.1 L110.8 209.4 L112.2 202.5 L113.4 193.8 L114.6 191.2 L115.5 196.4 L116.0 194.7 L117.2 200.4 L118.6 201.6 L120.3 212.9 L122.1 225.0 L124.2 242.3 L125.9 256.2 L127.6 263.9 L129.9 263.1 L132.5 260.5 L135.1 257.9 L137.7 256.2 L139.0 255.3 L140.2 257.9 L141.6 256.2 L142.8 258.7 L144.6 258.7 L146.7 261.3 L148.9 263.1 L150.6 263.9 L152.4 267.4 L155.0 269.1 L157.6 270.9 L161.0 272.6 L165.3 274.0" fill="none" stroke="#000" stroke-width="1.9" stroke-linejoin="round"/>
<text x="133.60" y="221.00" font-size="7" font-weight="bold">18.42%</text>
<line x1="226.60" y1="183.00" x2="226.60" y2="275.20" stroke="#000" stroke-width="1.6"/>
<line x1="225.80" y1="274.40" x2="316.50" y2="274.40" stroke="#000" stroke-width="1.6"/>
<path d="M223.2 274.4h3.4M224.4 268.9h2.2M224.4 263.4h2.2M224.4 257.9h2.2M224.4 252.3h2.2M223.2 246.8h3.4M224.4 241.3h2.2M224.4 235.8h2.2M224.4 230.3h2.2M224.4 224.8h2.2M223.2 219.3h3.4M224.4 213.8h2.2M224.4 208.2h2.2M224.4 202.7h2.2M224.4 197.2h2.2M223.2 191.7h3.4M224.4 186.2h2.2" stroke="#000" stroke-width="1.0"/>
<text x="219.40" y="194.40" font-size="6.8" text-anchor="end">150</text>
<text x="219.40" y="221.80" font-size="6.8" text-anchor="end">100</text>
<text x="219.40" y="249.10" font-size="6.8" text-anchor="end">50</text>
<text x="219.40" y="277.10" font-size="6.8" text-anchor="end">0</text>
<line x1="237.60" y1="274.40" x2="237.60" y2="277.00" stroke="#000" stroke-width="1.1"/>
<line x1="255.90" y1="274.40" x2="255.90" y2="277.00" stroke="#000" stroke-width="1.1"/>
<line x1="274.20" y1="274.40" x2="274.20" y2="277.00" stroke="#000" stroke-width="1.1"/>
<line x1="292.40" y1="274.40" x2="292.40" y2="277.00" stroke="#000" stroke-width="1.1"/>
<line x1="310.60" y1="274.40" x2="310.60" y2="277.00" stroke="#000" stroke-width="1.1"/>
<path d="M228.1 274.4v1.5M230.3 274.4v1.5M232.1 274.4v1.5M233.6 274.4v1.5M234.8 274.4v1.5M235.8 274.4v1.5M236.8 274.4v1.5M243.1 274.4v1.5M246.3 274.4v1.5M248.6 274.4v1.5M250.4 274.4v1.5M251.8 274.4v1.5M253.0 274.4v1.5M254.1 274.4v1.5M255.0 274.4v1.5M261.4 274.4v1.5M264.6 274.4v1.5M266.9 274.4v1.5M268.7 274.4v1.5M270.1 274.4v1.5M271.3 274.4v1.5M272.4 274.4v1.5M273.3 274.4v1.5M279.7 274.4v1.5M282.9 274.4v1.5M285.2 274.4v1.5M287.0 274.4v1.5M288.4 274.4v1.5M289.6 274.4v1.5M290.7 274.4v1.5M291.6 274.4v1.5M297.9 274.4v1.5M301.1 274.4v1.5M303.4 274.4v1.5M305.2 274.4v1.5M306.6 274.4v1.5M307.8 274.4v1.5M308.9 274.4v1.5M309.8 274.4v1.5M316.1 274.4v1.5" stroke="#000" stroke-width="0.8"/>
<text x="236.70" y="287.10" font-size="6.8" text-anchor="middle">10</text>
<text x="240.10" y="282.90" font-size="4.2">1</text>
<text x="255.00" y="287.10" font-size="6.8" text-anchor="middle">10</text>
<text x="258.40" y="282.90" font-size="4.2">2</text>
<text x="273.30" y="287.10" font-size="6.8" text-anchor="middle">10</text>
<text x="276.70" y="282.90" font-size="4.2">3</text>
<text x="291.50" y="287.10" font-size="6.8" text-anchor="middle">10</text>
<text x="294.90" y="282.90" font-size="4.2">4</text>
<text x="309.70" y="287.10" font-size="6.8" text-anchor="middle">10</text>
<text x="313.10" y="282.90" font-size="4.2">5</text>
<text x="272.00" y="299.70" font-size="10.3" text-anchor="middle" textLength="61.5" lengthAdjust="spacingAndGlyphs">Annexin V-FITC</text>
<text x="202.20" y="229.50" font-size="11" text-anchor="middle" textLength="22.4" lengthAdjust="spacingAndGlyphs" transform="rotate(-90 202.2 229.5)">Count</text>
<path d="M227.1 274.4 L227.1 268.3 L228.3 273.5 L230.9 271.7 L234.4 270.3 L237.8 268.6 L240.4 266.5 L242.7 263.1 L244.4 259.6 L246.2 256.2 L247.9 249.2 L249.6 237.1 L251.3 223.3 L252.6 208.6 L254.3 207.7 L255.5 200.8 L256.9 193.0 L257.9 191.2 L259.0 197.3 L260.3 204.2 L261.7 218.1 L263.5 233.7 L265.5 244.0 L267.6 252.7 L269.0 256.2 L270.7 252.7 L272.5 247.5 L274.2 243.2 L275.6 242.3 L276.8 245.8 L278.5 245.4 L280.2 249.2 L282.0 254.4 L283.7 258.7 L285.4 257.9 L287.2 259.3 L288.9 260.5 L291.5 263.1 L294.1 264.8 L296.7 266.5 L298.8 270.0 L301.0 273.1 L305.3 274.3" fill="none" stroke="#000" stroke-width="1.9" stroke-linejoin="round"/>
<text x="269.00" y="220.00" font-size="7" font-weight="bold">26.16%</text>
<line x1="367.30" y1="183.00" x2="367.30" y2="275.20" stroke="#000" stroke-width="1.6"/>
<line x1="366.50" y1="274.40" x2="457.50" y2="274.40" stroke="#000" stroke-width="1.6"/>
<path d="M363.9 274.4h3.4M365.1 267.9h2.2M365.1 261.3h2.2M365.1 254.8h2.2M365.1 248.2h2.2M363.9 241.7h3.4M365.1 235.2h2.2M365.1 228.6h2.2M365.1 222.1h2.2M365.1 215.5h2.2M363.9 209.0h3.4M365.1 202.5h2.2M365.1 195.9h2.2M365.1 189.4h2.2" stroke="#000" stroke-width="1.0"/>
<text x="360.10" y="211.70" font-size="6.8" text-anchor="end">100</text>
<text x="360.10" y="244.60" font-size="6.8" text-anchor="end">50</text>
<text x="360.10" y="277.10" font-size="6.8" text-anchor="end">0</text>
<line x1="378.30" y1="274.40" x2="378.30" y2="277.00" stroke="#000" stroke-width="1.1"/>
<line x1="396.60" y1="274.40" x2="396.60" y2="277.00" stroke="#000" stroke-width="1.1"/>
<line x1="414.90" y1="274.40" x2="414.90" y2="277.00" stroke="#000" stroke-width="1.1"/>
<line x1="433.10" y1="274.40" x2="433.10" y2="277.00" stroke="#000" stroke-width="1.1"/>
<line x1="451.30" y1="274.40" x2="451.30" y2="277.00" stroke="#000" stroke-width="1.1"/>
<path d="M368.8 274.4v1.5M371.0 274.4v1.5M372.8 274.4v1.5M374.3 274.4v1.5M375.5 274.4v1.5M376.5 274.4v1.5M377.5 274.4v1.5M383.8 274.4v1.5M387.0 274.4v1.5M389.3 274.4v1.5M391.1 274.4v1.5M392.5 274.4v1.5M393.7 274.4v1.5M394.8 274.4v1.5M395.7 274.4v1.5M402.1 274.4v1.5M405.3 274.4v1.5M407.6 274.4v1.5M409.4 274.4v1.5M410.8 274.4v1.5M412.0 274.4v1.5M413.1 274.4v1.5M414.0 274.4v1.5M420.4 274.4v1.5M423.6 274.4v1.5M425.9 274.4v1.5M427.7 274.4v1.5M429.1 274.4v1.5M430.3 274.4v1.5M431.4 274.4v1.5M432.3 274.4v1.5M438.6 274.4v1.5M441.8 274.4v1.5M444.1 274.4v1.5M445.9 274.4v1.5M447.3 274.4v1.5M448.5 274.4v1.5M449.6 274.4v1.5M450.5 274.4v1.5M456.8 274.4v1.5" stroke="#000" stroke-width="0.8"/>
<text x="377.40" y="287.10" font-size="6.8" text-anchor="middle">10</text>
<text x="380.80" y="282.90" font-size="4.2">1</text>
<text x="395.70" y="287.10" font-size="6.8" text-anchor="middle">10</text>
<text x="399.10" y="282.90" font-size="4.2">2</text>
<text x="414.00" y="287.10" font-size="6.8" text-anchor="middle">10</text>
<text x="417.40" y="282.90" font-size="4.2">3</text>
<text x="432.20" y="287.10" font-size="6.8" text-anchor="middle">10</text>
<text x="435.60" y="282.90" font-size="4.2">4</text>
<text x="450.40" y="287.10" font-size="6.8" text-anchor="middle">10</text>
<text x="453.80" y="282.90" font-size="4.2">5</text>
<text x="412.70" y="299.70" font-size="10.3" text-anchor="middle" textLength="61.5" lengthAdjust="spacingAndGlyphs">Annexin V-FITC</text>
<text x="342.90" y="229.50" font-size="11" text-anchor="middle" textLength="22.4" lengthAdjust="spacingAndGlyphs" transform="rotate(-90 342.90000000000003 229.5)">Count</text>
<path d="M367.8 274.4 L367.8 266.5 L368.8 273.5 L371.8 272.6 L375.2 271.4 L378.7 269.6 L381.3 267.4 L383.9 261.3 L386.2 256.2 L387.9 251.0 L389.6 237.1 L391.3 221.5 L392.6 211.2 L393.8 207.7 L395.2 197.3 L396.0 193.0 L397.7 192.1 L398.6 197.3 L399.5 202.5 L400.7 206.8 L402.1 218.1 L403.5 231.9 L404.7 234.5 L406.4 235.4 L408.1 237.1 L409.9 232.8 L411.2 228.5 L412.5 231.1 L414.2 235.4 L415.9 239.7 L417.7 243.2 L419.4 244.0 L421.1 246.6 L423.7 247.5 L426.0 248.9 L427.7 253.6 L429.4 251.0 L430.6 251.8 L432.4 257.0 L435.0 262.2 L437.6 268.3 L440.2 273.5 L445.3 274.3" fill="none" stroke="#000" stroke-width="1.9" stroke-linejoin="round"/>
<text x="412.00" y="222.50" font-size="7" font-weight="bold">34.08%</text>
<line x1="86.80" y1="320.00" x2="86.80" y2="411.30" stroke="#000" stroke-width="1.6"/>
<line x1="86.00" y1="410.50" x2="176.00" y2="410.50" stroke="#000" stroke-width="1.6"/>
<path d="M83.4 410.5h3.4M84.6 404.8h2.2M84.6 399.2h2.2M84.6 393.5h2.2M84.6 387.8h2.2M83.4 382.1h3.4M84.6 376.5h2.2M84.6 370.8h2.2M84.6 365.1h2.2M84.6 359.4h2.2M83.4 353.8h3.4M84.6 348.1h2.2M84.6 342.4h2.2M84.6 336.7h2.2M84.6 331.1h2.2M83.4 325.4h3.4" stroke="#000" stroke-width="1.0"/>
<text x="79.60" y="328.10" font-size="6.8" text-anchor="end">150</text>
<text x="79.60" y="356.50" font-size="6.8" text-anchor="end">100</text>
<text x="79.60" y="384.90" font-size="6.8" text-anchor="end">50</text>
<text x="79.60" y="413.20" font-size="6.8" text-anchor="end">0</text>
<line x1="97.80" y1="410.50" x2="97.80" y2="413.10" stroke="#000" stroke-width="1.1"/>
<line x1="116.10" y1="410.50" x2="116.10" y2="413.10" stroke="#000" stroke-width="1.1"/>
<line x1="134.40" y1="410.50" x2="134.40" y2="413.10" stroke="#000" stroke-width="1.1"/>
<line x1="152.60" y1="410.50" x2="152.60" y2="413.10" stroke="#000" stroke-width="1.1"/>
<line x1="170.80" y1="410.50" x2="170.80" y2="413.10" stroke="#000" stroke-width="1.1"/>
<path d="M88.3 410.5v1.5M90.5 410.5v1.5M92.3 410.5v1.5M93.8 410.5v1.5M95.0 410.5v1.5M96.0 410.5v1.5M97.0 410.5v1.5M103.3 410.5v1.5M106.5 410.5v1.5M108.8 410.5v1.5M110.6 410.5v1.5M112.0 410.5v1.5M113.2 410.5v1.5M114.3 410.5v1.5M115.2 410.5v1.5M121.6 410.5v1.5M124.8 410.5v1.5M127.1 410.5v1.5M128.9 410.5v1.5M130.3 410.5v1.5M131.5 410.5v1.5M132.6 410.5v1.5M133.5 410.5v1.5M139.9 410.5v1.5M143.1 410.5v1.5M145.4 410.5v1.5M147.2 410.5v1.5M148.6 410.5v1.5M149.8 410.5v1.5M150.9 410.5v1.5M151.8 410.5v1.5M158.1 410.5v1.5M161.3 410.5v1.5M163.6 410.5v1.5M165.4 410.5v1.5M166.8 410.5v1.5M168.0 410.5v1.5M169.1 410.5v1.5M170.0 410.5v1.5" stroke="#000" stroke-width="0.8"/>
<text x="96.90" y="423.20" font-size="6.8" text-anchor="middle">10</text>
<text x="100.30" y="419.00" font-size="4.2">1</text>
<text x="115.20" y="423.20" font-size="6.8" text-anchor="middle">10</text>
<text x="118.60" y="419.00" font-size="4.2">2</text>
<text x="133.50" y="423.20" font-size="6.8" text-anchor="middle">10</text>
<text x="136.90" y="419.00" font-size="4.2">3</text>
<text x="151.70" y="423.20" font-size="6.8" text-anchor="middle">10</text>
<text x="155.10" y="419.00" font-size="4.2">4</text>
<text x="169.90" y="423.20" font-size="6.8" text-anchor="middle">10</text>
<text x="173.30" y="419.00" font-size="4.2">5</text>
<text x="132.20" y="435.80" font-size="10.3" text-anchor="middle" textLength="61.5" lengthAdjust="spacingAndGlyphs">Annexin V-FITC</text>
<text x="62.40" y="366.05" font-size="11" text-anchor="middle" textLength="22.4" lengthAdjust="spacingAndGlyphs" transform="rotate(-90 62.4 366.05)">Count</text>
<path d="M87.8 410.5 L87.8 389.6 L88.8 408.6 L91.8 406.9 L95.2 405.6 L97.5 403.4 L99.6 400.8 L101.3 397.3 L103.0 390.4 L104.8 383.5 L106.5 373.1 L108.2 361.0 L109.6 354.1 L110.8 346.3 L112.0 335.0 L113.1 328.1 L114.3 329.8 L115.5 332.4 L116.9 333.3 L117.7 336.8 L118.6 337.6 L120.0 350.6 L121.2 361.0 L122.9 369.7 L125.2 380.0 L127.3 388.7 L129.0 393.0 L130.7 390.4 L132.1 388.7 L133.3 392.2 L135.1 393.9 L137.7 392.2 L140.2 389.6 L142.0 387.0 L143.7 386.1 L145.4 388.7 L147.2 390.4 L148.9 392.2 L150.6 399.1 L152.4 402.5 L154.6 406.0 L156.7 409.1 L160.2 410.3" fill="none" stroke="#000" stroke-width="1.9" stroke-linejoin="round"/>
<text x="126.00" y="346.30" font-size="7" font-weight="bold">26.77%</text>
<text x="132.50" y="448.60" font-size="9.6" text-anchor="middle" textLength="20.8" lengthAdjust="spacingAndGlyphs">0 nM</text>
<line x1="227.30" y1="320.00" x2="227.30" y2="411.30" stroke="#000" stroke-width="1.6"/>
<line x1="226.50" y1="410.50" x2="317.00" y2="410.50" stroke="#000" stroke-width="1.6"/>
<path d="M223.9 410.5h3.4M225.1 403.2h2.2M225.1 395.9h2.2M225.1 388.6h2.2M225.1 381.3h2.2M223.9 374.0h3.4M225.1 366.8h2.2M225.1 359.5h2.2M225.1 352.2h2.2M225.1 344.9h2.2M223.9 337.6h3.4M225.1 330.3h2.2M225.1 323.0h2.2" stroke="#000" stroke-width="1.0"/>
<text x="220.10" y="340.30" font-size="6.8" text-anchor="end">100</text>
<text x="220.10" y="376.60" font-size="6.8" text-anchor="end">50</text>
<text x="220.10" y="413.20" font-size="6.8" text-anchor="end">0</text>
<line x1="238.30" y1="410.50" x2="238.30" y2="413.10" stroke="#000" stroke-width="1.1"/>
<line x1="256.60" y1="410.50" x2="256.60" y2="413.10" stroke="#000" stroke-width="1.1"/>
<line x1="274.90" y1="410.50" x2="274.90" y2="413.10" stroke="#000" stroke-width="1.1"/>
<line x1="293.10" y1="410.50" x2="293.10" y2="413.10" stroke="#000" stroke-width="1.1"/>
<line x1="311.30" y1="410.50" x2="311.30" y2="413.10" stroke="#000" stroke-width="1.1"/>
<path d="M228.8 410.5v1.5M231.0 410.5v1.5M232.8 410.5v1.5M234.3 410.5v1.5M235.5 410.5v1.5M236.5 410.5v1.5M237.5 410.5v1.5M243.8 410.5v1.5M247.0 410.5v1.5M249.3 410.5v1.5M251.1 410.5v1.5M252.5 410.5v1.5M253.7 410.5v1.5M254.8 410.5v1.5M255.7 410.5v1.5M262.1 410.5v1.5M265.3 410.5v1.5M267.6 410.5v1.5M269.4 410.5v1.5M270.8 410.5v1.5M272.0 410.5v1.5M273.1 410.5v1.5M274.0 410.5v1.5M280.4 410.5v1.5M283.6 410.5v1.5M285.9 410.5v1.5M287.7 410.5v1.5M289.1 410.5v1.5M290.3 410.5v1.5M291.4 410.5v1.5M292.3 410.5v1.5M298.6 410.5v1.5M301.8 410.5v1.5M304.1 410.5v1.5M305.9 410.5v1.5M307.3 410.5v1.5M308.5 410.5v1.5M309.6 410.5v1.5M310.5 410.5v1.5M316.8 410.5v1.5" stroke="#000" stroke-width="0.8"/>
<text x="237.40" y="423.20" font-size="6.8" text-anchor="middle">10</text>
<text x="240.80" y="419.00" font-size="4.2">1</text>
<text x="255.70" y="423.20" font-size="6.8" text-anchor="middle">10</text>
<text x="259.10" y="419.00" font-size="4.2">2</text>
<text x="274.00" y="423.20" font-size="6.8" text-anchor="middle">10</text>
<text x="277.40" y="419.00" font-size="4.2">3</text>
<text x="292.20" y="423.20" font-size="6.8" text-anchor="middle">10</text>
<text x="295.60" y="419.00" font-size="4.2">4</text>
<text x="310.40" y="423.20" font-size="6.8" text-anchor="middle">10</text>
<text x="313.80" y="419.00" font-size="4.2">5</text>
<text x="272.70" y="435.80" font-size="10.3" text-anchor="middle" textLength="61.5" lengthAdjust="spacingAndGlyphs">Annexin V-FITC</text>
<text x="202.90" y="366.05" font-size="11" text-anchor="middle" textLength="22.4" lengthAdjust="spacingAndGlyphs" transform="rotate(-90 202.9 366.05)">Count</text>
<path d="M227.8 410.5 L227.8 400.8 L228.8 409.5 L231.8 407.7 L235.2 406.0 L238.7 403.4 L241.0 399.1 L242.7 397.3 L244.4 388.7 L246.2 385.2 L247.9 376.6 L249.6 367.9 L250.8 355.8 L252.0 348.0 L253.4 338.5 L254.8 333.3 L256.0 328.1 L256.9 333.3 L257.7 342.0 L259.5 348.9 L260.7 355.8 L262.1 367.9 L263.8 375.7 L265.5 385.2 L267.3 376.6 L268.7 369.7 L269.9 367.9 L271.6 372.2 L273.3 367.1 L274.2 361.0 L275.6 359.3 L276.8 361.9 L277.7 356.7 L279.0 354.9 L280.2 359.3 L281.1 355.8 L282.5 364.5 L283.7 367.9 L284.9 364.5 L286.7 369.7 L288.0 376.6 L289.8 385.2 L291.5 395.6 L293.2 402.5 L295.3 406.9 L297.6 409.5 L301.0 410.3" fill="none" stroke="#000" stroke-width="1.9" stroke-linejoin="round"/>
<text x="269.00" y="346.50" font-size="7" font-weight="bold">41.06%</text>
<text x="273.00" y="448.60" font-size="9.6" text-anchor="middle" textLength="25.3" lengthAdjust="spacingAndGlyphs">20 nM</text>
<line x1="367.40" y1="320.00" x2="367.40" y2="411.30" stroke="#000" stroke-width="1.6"/>
<line x1="366.60" y1="410.50" x2="457.50" y2="410.50" stroke="#000" stroke-width="1.6"/>
<path d="M364.0 410.5h3.4M365.2 402.3h2.2M365.2 394.1h2.2M365.2 385.9h2.2M365.2 377.7h2.2M364.0 369.5h3.4M365.2 361.4h2.2M365.2 353.2h2.2M365.2 345.0h2.2M365.2 336.8h2.2M364.0 328.6h3.4" stroke="#000" stroke-width="1.0"/>
<text x="360.20" y="331.30" font-size="6.8" text-anchor="end">100</text>
<text x="360.20" y="372.10" font-size="6.8" text-anchor="end">50</text>
<text x="360.20" y="413.20" font-size="6.8" text-anchor="end">0</text>
<line x1="378.40" y1="410.50" x2="378.40" y2="413.10" stroke="#000" stroke-width="1.1"/>
<line x1="396.70" y1="410.50" x2="396.70" y2="413.10" stroke="#000" stroke-width="1.1"/>
<line x1="415.00" y1="410.50" x2="415.00" y2="413.10" stroke="#000" stroke-width="1.1"/>
<line x1="433.20" y1="410.50" x2="433.20" y2="413.10" stroke="#000" stroke-width="1.1"/>
<line x1="451.40" y1="410.50" x2="451.40" y2="413.10" stroke="#000" stroke-width="1.1"/>
<path d="M368.9 410.5v1.5M371.1 410.5v1.5M372.9 410.5v1.5M374.4 410.5v1.5M375.6 410.5v1.5M376.6 410.5v1.5M377.6 410.5v1.5M383.9 410.5v1.5M387.1 410.5v1.5M389.4 410.5v1.5M391.2 410.5v1.5M392.6 410.5v1.5M393.8 410.5v1.5M394.9 410.5v1.5M395.8 410.5v1.5M402.2 410.5v1.5M405.4 410.5v1.5M407.7 410.5v1.5M409.5 410.5v1.5M410.9 410.5v1.5M412.1 410.5v1.5M413.2 410.5v1.5M414.1 410.5v1.5M420.5 410.5v1.5M423.7 410.5v1.5M426.0 410.5v1.5M427.8 410.5v1.5M429.2 410.5v1.5M430.4 410.5v1.5M431.5 410.5v1.5M432.4 410.5v1.5M438.7 410.5v1.5M441.9 410.5v1.5M444.2 410.5v1.5M446.0 410.5v1.5M447.4 410.5v1.5M448.6 410.5v1.5M449.7 410.5v1.5M450.6 410.5v1.5M456.9 410.5v1.5" stroke="#000" stroke-width="0.8"/>
<text x="377.50" y="423.20" font-size="6.8" text-anchor="middle">10</text>
<text x="380.90" y="419.00" font-size="4.2">1</text>
<text x="395.80" y="423.20" font-size="6.8" text-anchor="middle">10</text>
<text x="399.20" y="419.00" font-size="4.2">2</text>
<text x="414.10" y="423.20" font-size="6.8" text-anchor="middle">10</text>
<text x="417.50" y="419.00" font-size="4.2">3</text>
<text x="432.30" y="423.20" font-size="6.8" text-anchor="middle">10</text>
<text x="435.70" y="419.00" font-size="4.2">4</text>
<text x="450.50" y="423.20" font-size="6.8" text-anchor="middle">10</text>
<text x="453.90" y="419.00" font-size="4.2">5</text>
<text x="412.80" y="435.80" font-size="10.3" text-anchor="middle" textLength="61.5" lengthAdjust="spacingAndGlyphs">Annexin V-FITC</text>
<text x="343.00" y="366.05" font-size="11" text-anchor="middle" textLength="22.4" lengthAdjust="spacingAndGlyphs" transform="rotate(-90 343.0 366.05)">Count</text>
<path d="M367.8 410.5 L367.8 405.1 L368.8 410.3 L370.9 409.5 L373.5 410.3 L376.1 408.6 L378.7 406.9 L381.3 405.1 L383.4 399.9 L385.6 398.2 L387.4 392.2 L389.1 385.2 L390.8 376.6 L392.6 369.7 L394.3 364.5 L395.5 357.5 L396.9 361.0 L398.3 350.6 L399.5 355.8 L400.7 361.0 L402.1 369.7 L403.8 373.1 L405.5 373.1 L406.9 376.6 L408.1 362.7 L409.3 355.8 L410.4 338.5 L411.1 328.1 L412.1 333.3 L413.3 342.0 L414.5 348.9 L415.9 345.4 L417.7 343.7 L419.0 348.9 L420.2 342.0 L421.1 336.8 L422.2 348.9 L423.2 344.6 L424.6 343.7 L426.0 352.3 L427.2 361.0 L428.9 371.4 L430.6 378.3 L432.4 387.0 L434.1 393.9 L436.3 401.7 L438.4 407.7 L441.0 410.3" fill="none" stroke="#000" stroke-width="1.9" stroke-linejoin="round"/>
<text x="379.00" y="346.80" font-size="7" font-weight="bold">56.65%</text>
<text x="413.10" y="448.60" font-size="9.6" text-anchor="middle" textLength="25.3" lengthAdjust="spacingAndGlyphs">40 nM</text>
<text x="21.00" y="190.00" font-size="10" font-weight="bold" textLength="31.5" lengthAdjust="spacingAndGlyphs">shCon</text>
<text x="21.00" y="325.80" font-size="10" font-weight="bold" textLength="33.6" lengthAdjust="spacingAndGlyphs">shMAF</text>
<text x="58.80" y="448.00" font-size="7" font-weight="bold" textLength="14.2" lengthAdjust="spacingAndGlyphs">Bzb</text>
<line x1="49.00" y1="471.00" x2="49.00" y2="587.80" stroke="#000" stroke-width="1.6"/>
<line x1="48.20" y1="587.00" x2="217.00" y2="587.00" stroke="#000" stroke-width="1.6"/>
<line x1="46.20" y1="587.00" x2="49.00" y2="587.00" stroke="#000" stroke-width="1.1"/>
<text x="43.20" y="589.70" font-size="7.6" text-anchor="end">0</text>
<line x1="46.20" y1="574.36" x2="49.00" y2="574.36" stroke="#000" stroke-width="1.1"/>
<text x="43.20" y="577.06" font-size="7.6" text-anchor="end">10</text>
<line x1="46.20" y1="561.72" x2="49.00" y2="561.72" stroke="#000" stroke-width="1.1"/>
<text x="43.20" y="564.42" font-size="7.6" text-anchor="end">20</text>
<line x1="46.20" y1="549.08" x2="49.00" y2="549.08" stroke="#000" stroke-width="1.1"/>
<text x="43.20" y="551.78" font-size="7.6" text-anchor="end">30</text>
<line x1="46.20" y1="536.44" x2="49.00" y2="536.44" stroke="#000" stroke-width="1.1"/>
<text x="43.20" y="539.14" font-size="7.6" text-anchor="end">40</text>
<line x1="46.20" y1="523.80" x2="49.00" y2="523.80" stroke="#000" stroke-width="1.1"/>
<text x="43.20" y="526.50" font-size="7.6" text-anchor="end">50</text>
<line x1="46.20" y1="511.16" x2="49.00" y2="511.16" stroke="#000" stroke-width="1.1"/>
<text x="43.20" y="513.86" font-size="7.6" text-anchor="end">60</text>
<line x1="46.20" y1="498.52" x2="49.00" y2="498.52" stroke="#000" stroke-width="1.1"/>
<text x="43.20" y="501.22" font-size="7.6" text-anchor="end">70</text>
<line x1="46.20" y1="485.88" x2="49.00" y2="485.88" stroke="#000" stroke-width="1.1"/>
<text x="43.20" y="488.58" font-size="7.6" text-anchor="end">80</text>
<line x1="46.20" y1="473.24" x2="49.00" y2="473.24" stroke="#000" stroke-width="1.1"/>
<text x="43.20" y="475.94" font-size="7.6" text-anchor="end">90</text>
<line x1="90.70" y1="587.00" x2="90.70" y2="589.60" stroke="#000" stroke-width="1.1"/>
<line x1="132.00" y1="587.00" x2="132.00" y2="589.60" stroke="#000" stroke-width="1.1"/>
<line x1="173.40" y1="587.00" x2="173.40" y2="589.60" stroke="#000" stroke-width="1.1"/>
<line x1="215.00" y1="587.00" x2="215.00" y2="589.60" stroke="#000" stroke-width="1.1"/>
<rect x="58.00" y="547.94" width="12" height="39.06" fill="#b3b3b3"/>
<path d="M64.00 547.94V545.41M62.40 545.41H65.60" stroke="#000" stroke-width="1.2" fill="none"/>
<rect x="70.00" y="544.53" width="12" height="42.47" fill="#000"/>
<path d="M76.00 544.53V543.01M74.40 543.01H77.60" stroke="#000" stroke-width="1.2" fill="none"/>
<rect x="99.50" y="525.06" width="12" height="61.94" fill="#b3b3b3"/>
<path d="M105.50 525.06V522.03M103.90 522.03H107.10" stroke="#000" stroke-width="1.2" fill="none"/>
<rect x="111.50" y="496.24" width="12" height="90.76" fill="#000"/>
<path d="M117.50 496.24V492.58M115.90 492.58H119.10" stroke="#000" stroke-width="1.2" fill="none"/>
<circle cx="115.80" cy="487.98" r="0.95"/>
<circle cx="119.20" cy="487.98" r="0.95"/>
<rect x="140.80" y="512.04" width="12" height="74.96" fill="#b3b3b3"/>
<path d="M146.80 512.04V507.87M145.20 507.87H148.40" stroke="#000" stroke-width="1.2" fill="none"/>
<rect x="152.80" y="492.33" width="12" height="94.67" fill="#000"/>
<path d="M158.80 492.33V487.90M157.20 487.90H160.40" stroke="#000" stroke-width="1.2" fill="none"/>
<circle cx="157.10" cy="483.30" r="0.95"/>
<circle cx="160.50" cy="483.30" r="0.95"/>
<rect x="182.50" y="508.25" width="12" height="78.75" fill="#b3b3b3"/>
<path d="M188.50 508.25V502.56M186.90 502.56H190.10" stroke="#000" stroke-width="1.2" fill="none"/>
<rect x="194.50" y="491.32" width="12" height="95.68" fill="#000"/>
<path d="M200.50 491.32V488.03M198.90 488.03H202.10" stroke="#000" stroke-width="1.2" fill="none"/>
<circle cx="198.80" cy="483.43" r="0.95"/>
<circle cx="202.20" cy="483.43" r="0.95"/>
<text x="70.00" y="600.60" font-size="7.2" text-anchor="middle">0</text>
<text x="111.50" y="600.60" font-size="7.2" text-anchor="middle">20</text>
<text x="153.00" y="600.60" font-size="7.2" text-anchor="middle">30</text>
<text x="194.50" y="600.60" font-size="7.2" text-anchor="middle">40</text>
<text x="21.00" y="600.60" font-size="7.4" font-weight="bold">CFZ (nM)</text>
<rect x="59.1" y="477.7" width="3.3" height="3.3" fill="#b3b3b3"/>
<text x="63.90" y="481.00" font-size="7" textLength="19.6" lengthAdjust="spacingAndGlyphs">shCon</text>
<rect x="59.1" y="487.3" width="3.3" height="3.3" fill="#000"/>
<text x="63.90" y="490.60" font-size="7" textLength="21.6" lengthAdjust="spacingAndGlyphs">shMAF</text>
<text x="27.30" y="530.00" font-size="10.2" text-anchor="middle" textLength="59" lengthAdjust="spacingAndGlyphs" transform="rotate(-90 27.3 530)">Apoptotic cells</text>
<line x1="277.00" y1="469.50" x2="277.00" y2="587.80" stroke="#000" stroke-width="1.6"/>
<line x1="276.20" y1="587.00" x2="446.00" y2="587.00" stroke="#000" stroke-width="1.6"/>
<line x1="274.20" y1="587.00" x2="277.00" y2="587.00" stroke="#000" stroke-width="1.1"/>
<text x="271.40" y="589.70" font-size="7.6" text-anchor="end">0</text>
<line x1="274.20" y1="567.83" x2="277.00" y2="567.83" stroke="#000" stroke-width="1.1"/>
<text x="271.40" y="570.53" font-size="7.6" text-anchor="end">10</text>
<line x1="274.20" y1="548.66" x2="277.00" y2="548.66" stroke="#000" stroke-width="1.1"/>
<text x="271.40" y="551.36" font-size="7.6" text-anchor="end">20</text>
<line x1="274.20" y1="529.49" x2="277.00" y2="529.49" stroke="#000" stroke-width="1.1"/>
<text x="271.40" y="532.19" font-size="7.6" text-anchor="end">30</text>
<line x1="274.20" y1="510.32" x2="277.00" y2="510.32" stroke="#000" stroke-width="1.1"/>
<text x="271.40" y="513.02" font-size="7.6" text-anchor="end">40</text>
<line x1="274.20" y1="491.15" x2="277.00" y2="491.15" stroke="#000" stroke-width="1.1"/>
<text x="271.40" y="493.85" font-size="7.6" text-anchor="end">50</text>
<line x1="274.20" y1="471.98" x2="277.00" y2="471.98" stroke="#000" stroke-width="1.1"/>
<text x="271.40" y="474.68" font-size="7.6" text-anchor="end">60</text>
<line x1="318.80" y1="587.00" x2="318.80" y2="589.60" stroke="#000" stroke-width="1.1"/>
<line x1="360.00" y1="587.00" x2="360.00" y2="589.60" stroke="#000" stroke-width="1.1"/>
<line x1="402.00" y1="587.00" x2="402.00" y2="589.60" stroke="#000" stroke-width="1.1"/>
<line x1="444.50" y1="587.00" x2="444.50" y2="589.60" stroke="#000" stroke-width="1.1"/>
<rect x="286.30" y="541.76" width="12" height="45.24" fill="#b3b3b3"/>
<path d="M292.30 541.76V540.99M290.70 540.99H293.90" stroke="#000" stroke-width="1.2" fill="none"/>
<rect x="298.30" y="539.46" width="12" height="47.54" fill="#000"/>
<path d="M304.30 539.46V536.97M302.70 536.97H305.90" stroke="#000" stroke-width="1.2" fill="none"/>
<rect x="327.50" y="532.37" width="12" height="54.63" fill="#b3b3b3"/>
<path d="M333.50 532.37V531.22M331.90 531.22H335.10" stroke="#000" stroke-width="1.2" fill="none"/>
<rect x="339.50" y="520.67" width="12" height="66.33" fill="#000"/>
<path d="M345.50 520.67V516.07M343.90 516.07H347.10" stroke="#000" stroke-width="1.2" fill="none"/>
<circle cx="345.50" cy="511.47" r="0.95"/>
<rect x="368.80" y="528.34" width="12" height="58.66" fill="#b3b3b3"/>
<path d="M374.80 528.34V522.01M373.20 522.01H376.40" stroke="#000" stroke-width="1.2" fill="none"/>
<rect x="380.80" y="510.51" width="12" height="76.49" fill="#000"/>
<path d="M386.80 510.51V506.29M385.20 506.29H388.40" stroke="#000" stroke-width="1.2" fill="none"/>
<circle cx="386.80" cy="501.69" r="0.95"/>
<rect x="410.80" y="517.80" width="12" height="69.20" fill="#b3b3b3"/>
<path d="M416.80 517.80V512.24M415.20 512.24H418.40" stroke="#000" stroke-width="1.2" fill="none"/>
<rect x="422.80" y="486.17" width="12" height="100.83" fill="#000"/>
<path d="M428.80 486.17V484.25M427.20 484.25H430.40" stroke="#000" stroke-width="1.2" fill="none"/>
<circle cx="427.10" cy="479.65" r="0.95"/>
<circle cx="430.50" cy="479.65" r="0.95"/>
<text x="298.00" y="600.60" font-size="7.2" text-anchor="middle">0</text>
<text x="340.00" y="600.60" font-size="7.2" text-anchor="middle">20</text>
<text x="381.00" y="600.60" font-size="7.2" text-anchor="middle">40</text>
<text x="422.50" y="600.60" font-size="7.2" text-anchor="middle">60</text>
<text x="249.80" y="600.60" font-size="7.4" font-weight="bold">CFZ (nM)</text>
<rect x="287.6" y="477.2" width="3.3" height="3.3" fill="#b3b3b3"/>
<text x="292.40" y="480.50" font-size="7" textLength="19.6" lengthAdjust="spacingAndGlyphs">shCon</text>
<rect x="287.6" y="486.8" width="3.3" height="3.3" fill="#000"/>
<text x="292.40" y="490.10" font-size="7" textLength="21.6" lengthAdjust="spacingAndGlyphs">shMAF</text>
<text x="257.00" y="531.20" font-size="10.2" text-anchor="middle" textLength="58.5" lengthAdjust="spacingAndGlyphs" transform="rotate(-90 257 531.2)">Apoptotic cells</text>
<line x1="48.50" y1="625.50" x2="48.50" y2="742.90" stroke="#000" stroke-width="1.6"/>
<line x1="47.70" y1="742.10" x2="199.50" y2="742.10" stroke="#000" stroke-width="1.6"/>
<line x1="45.70" y1="742.10" x2="48.50" y2="742.10" stroke="#000" stroke-width="1.1"/>
<text x="41.60" y="744.80" font-size="7.6" text-anchor="end">0</text>
<line x1="45.70" y1="727.93" x2="48.50" y2="727.93" stroke="#000" stroke-width="1.1"/>
<text x="41.60" y="730.63" font-size="7.6" text-anchor="end">10</text>
<line x1="45.70" y1="713.76" x2="48.50" y2="713.76" stroke="#000" stroke-width="1.1"/>
<text x="41.60" y="716.46" font-size="7.6" text-anchor="end">20</text>
<line x1="45.70" y1="699.59" x2="48.50" y2="699.59" stroke="#000" stroke-width="1.1"/>
<text x="41.60" y="702.29" font-size="7.6" text-anchor="end">30</text>
<line x1="45.70" y1="685.42" x2="48.50" y2="685.42" stroke="#000" stroke-width="1.1"/>
<text x="41.60" y="688.12" font-size="7.6" text-anchor="end">40</text>
<line x1="45.70" y1="671.25" x2="48.50" y2="671.25" stroke="#000" stroke-width="1.1"/>
<text x="41.60" y="673.95" font-size="7.6" text-anchor="end">50</text>
<line x1="45.70" y1="657.08" x2="48.50" y2="657.08" stroke="#000" stroke-width="1.1"/>
<text x="41.60" y="659.78" font-size="7.6" text-anchor="end">60</text>
<line x1="45.70" y1="642.91" x2="48.50" y2="642.91" stroke="#000" stroke-width="1.1"/>
<text x="41.60" y="645.61" font-size="7.6" text-anchor="end">70</text>
<line x1="45.70" y1="628.74" x2="48.50" y2="628.74" stroke="#000" stroke-width="1.1"/>
<text x="41.60" y="631.44" font-size="7.6" text-anchor="end">80</text>
<line x1="97.80" y1="742.10" x2="97.80" y2="744.70" stroke="#000" stroke-width="1.1"/>
<line x1="147.00" y1="742.10" x2="147.00" y2="744.70" stroke="#000" stroke-width="1.1"/>
<line x1="196.30" y1="742.10" x2="196.30" y2="744.70" stroke="#000" stroke-width="1.1"/>
<rect x="59.10" y="712.06" width="14.1" height="30.04" fill="#b3b3b3"/>
<path d="M66.15 712.06V710.93M64.55 710.93H67.75" stroke="#000" stroke-width="1.2" fill="none"/>
<rect x="73.20" y="710.22" width="14.1" height="31.88" fill="#000"/>
<path d="M80.25 710.22V708.52M78.65 708.52H81.85" stroke="#000" stroke-width="1.2" fill="none"/>
<rect x="108.00" y="676.35" width="14.1" height="65.75" fill="#b3b3b3"/>
<path d="M115.05 676.35V673.23M113.45 673.23H116.65" stroke="#000" stroke-width="1.2" fill="none"/>
<rect x="122.10" y="654.67" width="14.1" height="87.43" fill="#000"/>
<path d="M129.15 654.67V650.00M127.55 650.00H130.75" stroke="#000" stroke-width="1.2" fill="none"/>
<circle cx="127.45" cy="645.39" r="0.95"/>
<circle cx="130.85" cy="645.39" r="0.95"/>
<rect x="157.50" y="663.31" width="14.1" height="78.79" fill="#b3b3b3"/>
<path d="M164.55 663.31V658.21M162.95 658.21H166.15" stroke="#000" stroke-width="1.2" fill="none"/>
<rect x="171.60" y="642.06" width="14.1" height="100.04" fill="#000"/>
<path d="M178.65 642.06V634.55M177.05 634.55H180.25" stroke="#000" stroke-width="1.2" fill="none"/>
<circle cx="178.65" cy="629.95" r="0.95"/>
<text x="73.00" y="755.90" font-size="7.2" text-anchor="middle">0</text>
<text x="122.30" y="755.90" font-size="7.2" text-anchor="middle">40</text>
<text x="171.00" y="755.90" font-size="7.2" text-anchor="middle">80</text>
<text x="22.00" y="755.90" font-size="7.4" font-weight="bold">Bzb (nM)</text>
<rect x="58.2" y="634.0" width="3.3" height="3.3" fill="#b3b3b3"/>
<text x="63.00" y="637.30" font-size="7" textLength="19.6" lengthAdjust="spacingAndGlyphs">shCon</text>
<rect x="58.2" y="643.5999999999999" width="3.3" height="3.3" fill="#000"/>
<text x="63.00" y="646.90" font-size="7" textLength="21.6" lengthAdjust="spacingAndGlyphs">shMAF</text>
<text x="28.40" y="685.50" font-size="10.2" text-anchor="middle" textLength="59.5" lengthAdjust="spacingAndGlyphs" transform="rotate(-90 28.4 685.5)">Apoptotic cells</text>
<path d="M289.9 695.5h1.0M289.2 691.0h1.0M285.6 705.2h1.0M286.8 699.7h1.0M279.5 693.4h1.0M290.4 698.7h1.0M287.6 700.9h1.0M287.6 706.3h1.0M272.0 690.5h1.0M285.5 700.6h1.0M285.7 706.3h1.0M286.6 705.1h1.0M263.0 704.2h1.0M268.0 710.6h1.0M282.9 698.1h1.0M274.4 698.4h1.0M283.7 707.8h1.0M280.3 710.2h1.0M286.9 704.6h1.0M277.1 700.2h1.0M273.5 695.6h1.0M284.6 705.7h1.0M279.0 703.8h1.0M272.7 696.0h1.0M267.1 698.1h1.0M302.7 699.8h1.0M278.4 704.9h1.0M279.2 701.4h1.0M267.2 707.0h1.0M273.7 708.2h1.0M279.7 703.8h1.0M283.1 708.5h1.0M286.2 708.1h1.0M275.6 709.2h1.0M284.2 700.4h1.0M288.8 706.4h1.0M277.2 711.2h1.0M280.3 705.6h1.0M268.2 698.9h1.0M275.1 703.0h1.0M271.1 712.8h1.0M285.5 701.0h1.0M279.5 699.2h1.0M291.9 708.2h1.0M282.1 700.8h1.0M286.4 695.3h1.0M284.4 695.0h1.0M282.2 702.7h1.0M273.3 698.5h1.0M292.4 711.1h1.0M280.2 699.4h1.0M267.9 694.1h1.0M276.8 698.2h1.0M273.1 695.5h1.0M289.0 709.3h1.0M288.1 699.4h1.0M291.5 711.2h1.0M296.1 707.0h1.0M276.3 712.2h1.0M267.6 700.5h1.0M274.2 706.0h1.0M283.7 692.4h1.0M261.8 698.1h1.0M276.6 698.3h1.0M286.7 709.0h1.0M274.8 701.2h1.0M280.0 705.8h1.0M274.4 698.2h1.0M293.1 697.4h1.0M294.5 703.6h1.0M273.7 708.3h1.0M274.9 701.6h1.0M281.8 710.5h1.0M285.8 701.4h1.0M283.9 701.1h1.0M285.6 701.3h1.0M288.0 702.1h1.0M289.6 700.1h1.0M294.5 702.9h1.0M282.6 698.7h1.0M278.1 697.1h1.0M280.9 710.2h1.0M297.2 708.8h1.0M287.4 701.8h1.0M286.6 700.2h1.0M291.1 695.8h1.0M290.3 706.6h1.0M298.3 701.1h1.0M275.9 711.7h1.0M283.1 694.1h1.0M287.0 705.0h1.0M287.4 709.4h1.0M278.9 699.7h1.0M270.1 711.6h1.0M279.7 707.5h1.0M276.7 707.1h1.0M280.8 698.3h1.0M289.3 708.7h1.0M286.5 708.3h1.0M273.4 702.5h1.0M276.2 711.1h1.0M282.8 704.6h1.0M289.5 692.2h1.0M281.0 704.4h1.0M283.0 711.7h1.0M270.7 698.5h1.0M277.9 706.1h1.0M275.7 698.9h1.0M282.7 702.8h1.0M279.4 688.9h1.0M275.0 692.9h1.0M273.5 700.3h1.0M282.6 699.9h1.0M276.5 692.8h1.0M289.1 707.1h1.0M282.1 704.5h1.0M279.2 698.0h1.0M287.4 692.9h1.0M272.6 704.6h1.0M287.4 700.8h1.0M275.9 705.7h1.0M286.1 708.8h1.0M276.1 700.2h1.0M274.2 700.6h1.0M267.9 704.9h1.0M281.2 701.2h1.0M284.3 692.8h1.0M271.0 704.3h1.0M293.4 705.3h1.0M280.7 699.4h1.0M272.9 704.0h1.0M294.6 701.9h1.0M277.9 699.9h1.0M291.1 707.4h1.0M260.9 693.1h1.0M296.0 695.7h1.0M282.1 701.5h1.0M280.7 695.5h1.0M283.0 706.7h1.0M272.6 697.5h1.0M287.3 694.1h1.0M283.9 700.4h1.0M283.0 691.1h1.0M276.7 708.5h1.0M272.5 701.0h1.0M283.3 705.8h1.0M286.5 705.3h1.0M281.7 703.2h1.0M279.3 696.7h1.0M277.0 705.6h1.0M285.7 701.0h1.0M290.9 699.4h1.0M279.6 691.7h1.0M274.7 707.9h1.0M298.0 702.8h1.0M269.8 698.8h1.0M282.5 692.7h1.0M280.0 706.7h1.0M289.9 702.6h1.0M279.7 707.1h1.0M269.0 700.6h1.0M272.7 696.9h1.0M281.4 705.0h1.0M280.5 694.2h1.0M276.0 693.8h1.0M276.7 701.3h1.0M269.7 704.6h1.0M270.3 706.5h1.0M276.3 701.1h1.0M275.9 701.0h1.0M279.7 703.0h1.0M272.4 700.1h1.0M291.7 700.8h1.0M268.4 703.2h1.0M286.8 700.2h1.0M284.6 701.4h1.0M291.9 709.3h1.0M290.5 704.3h1.0M271.5 698.5h1.0M283.3 705.9h1.0M286.2 702.0h1.0M287.4 706.2h1.0M284.5 698.2h1.0M276.9 697.8h1.0M289.9 695.9h1.0M280.1 707.6h1.0M277.5 708.8h1.0M282.2 708.2h1.0M277.8 703.5h1.0M276.3 702.6h1.0M281.8 701.0h1.0M299.4 707.1h1.0M283.2 701.4h1.0M281.5 697.1h1.0M277.8 706.7h1.0M283.4 706.8h1.0M272.7 703.8h1.0M284.4 702.1h1.0M282.9 700.4h1.0M281.6 702.6h1.0M284.3 703.5h1.0M279.6 696.1h1.0M285.6 700.3h1.0M284.7 697.2h1.0M284.9 708.0h1.0M281.0 695.3h1.0M287.1 696.7h1.0M279.7 697.5h1.0M290.0 703.8h1.0M280.2 697.3h1.0M289.9 711.8h1.0M282.8 705.9h1.0M280.8 690.1h1.0M274.0 702.4h1.0M285.4 704.2h1.0M283.5 696.0h1.0M281.3 701.6h1.0M283.9 702.8h1.0M281.9 698.9h1.0M274.6 700.8h1.0M272.8 702.8h1.0M285.4 699.9h1.0M282.3 701.8h1.0M291.6 697.2h1.0M295.1 706.7h1.0M286.8 699.5h1.0M285.5 708.5h1.0M285.0 712.7h1.0M281.8 710.4h1.0M276.6 699.2h1.0M262.7 702.1h1.0M286.4 701.3h1.0M285.1 704.7h1.0M281.3 697.9h1.0M281.9 697.0h1.0M287.8 702.5h1.0M287.4 698.7h1.0M282.4 708.2h1.0M279.3 705.4h1.0M285.2 704.1h1.0M286.6 701.9h1.0M296.4 702.8h1.0M274.7 706.1h1.0M284.5 702.7h1.0M274.9 701.4h1.0M277.9 710.9h1.0M297.4 704.5h1.0M278.1 700.4h1.0M280.2 700.8h1.0M277.0 707.9h1.0M287.0 700.2h1.0M278.1 699.3h1.0M269.4 706.2h1.0M282.0 707.9h1.0M286.8 709.6h1.0M280.8 697.7h1.0M282.1 704.3h1.0M276.1 698.7h1.0M274.4 703.4h1.0M281.0 694.2h1.0M273.0 700.2h1.0M277.9 707.0h1.0M274.0 702.3h1.0M279.3 689.9h1.0M286.5 707.6h1.0M280.7 703.8h1.0M288.8 701.5h1.0M283.5 702.3h1.0M280.0 700.3h1.0M274.6 707.0h1.0M281.6 701.9h1.0M272.7 693.2h1.0M286.2 698.4h1.0M271.5 709.1h1.0M271.1 706.6h1.0M274.9 705.3h1.0M269.1 696.8h1.0M281.6 704.8h1.0M275.4 706.6h1.0M277.6 702.2h1.0M285.1 706.2h1.0M265.4 706.0h1.0M279.1 707.0h1.0M283.3 704.6h1.0M287.9 705.2h1.0M281.7 696.0h1.0M276.1 700.1h1.0M287.3 706.9h1.0M287.3 711.3h1.0M296.3 704.7h1.0M295.8 709.1h1.0M279.4 702.0h1.0M290.4 698.4h1.0M282.3 704.4h1.0M273.7 703.6h1.0M285.7 698.2h1.0M289.9 698.8h1.0M264.4 700.5h1.0M290.1 700.6h1.0M275.0 704.0h1.0M292.0 696.6h1.0M282.5 706.4h1.0M281.9 699.2h1.0M290.6 704.9h1.0M278.5 694.1h1.0M295.4 708.4h1.0M274.1 702.4h1.0M276.6 712.1h1.0M273.2 693.0h1.0M284.5 693.4h1.0M280.3 705.6h1.0M286.3 707.2h1.0M288.4 694.1h1.0M286.3 705.4h1.0M288.3 707.6h1.0M288.3 710.0h1.0M280.1 702.7h1.0M275.5 693.9h1.0M273.8 691.7h1.0M285.9 713.1h1.0M276.9 703.7h1.0M273.9 706.3h1.0M274.8 699.9h1.0M279.1 700.8h1.0M282.2 701.3h1.0M278.8 697.3h1.0M273.4 699.9h1.0M284.3 697.0h1.0M265.0 698.3h1.0M278.2 707.4h1.0M287.7 703.0h1.0M282.3 698.9h1.0M288.7 711.6h1.0M281.1 708.7h1.0M284.4 702.8h1.0M280.7 693.5h1.0M277.4 708.2h1.0M283.0 708.9h1.0M287.1 699.9h1.0M266.6 707.7h1.0M274.6 697.3h1.0M265.7 699.2h1.0M273.7 699.1h1.0M271.3 702.0h1.0M276.8 701.0h1.0M278.1 709.0h1.0M286.8 701.1h1.0M288.7 705.2h1.0M274.5 701.7h1.0M276.6 702.9h1.0M284.4 698.4h1.0M275.6 701.4h1.0M277.2 708.6h1.0M267.2 704.8h1.0M285.1 696.8h1.0M281.9 700.3h1.0M273.3 696.3h1.0M270.8 697.5h1.0M272.6 698.0h1.0M283.1 696.3h1.0M276.7 704.0h1.0M271.5 705.6h1.0M277.8 702.6h1.0M286.0 700.4h1.0M288.8 703.8h1.0M289.4 699.3h1.0M281.0 707.4h1.0M282.0 713.9h1.0M282.2 689.0h1.0M284.9 704.5h1.0M284.3 702.8h1.0M273.6 702.3h1.0M275.1 700.1h1.0M277.6 694.3h1.0M285.2 702.2h1.0M276.7 699.7h1.0M274.9 700.8h1.0M287.4 702.6h1.0M290.4 700.7h1.0M274.0 712.8h1.0M279.3 695.8h1.0M288.3 701.0h1.0M277.5 695.4h1.0M286.7 702.0h1.0M270.5 708.7h1.0M278.8 701.7h1.0M284.8 698.4h1.0M290.9 696.6h1.0M286.9 705.5h1.0M269.0 697.3h1.0M269.6 704.0h1.0M274.2 697.9h1.0M286.0 700.0h1.0M285.3 702.3h1.0M287.8 694.8h1.0M285.1 708.5h1.0M276.3 695.9h1.0M277.6 702.5h1.0M274.1 703.6h1.0M286.0 714.4h1.0M271.5 703.4h1.0M280.7 706.3h1.0M282.0 699.7h1.0M288.8 702.3h1.0M274.9 701.4h1.0M283.0 707.6h1.0M273.3 696.4h1.0M287.4 704.8h1.0M278.1 697.0h1.0M273.6 692.2h1.0M276.0 699.0h1.0M275.8 700.9h1.0M276.0 709.8h1.0M288.3 705.4h1.0M273.4 707.0h1.0M281.9 698.7h1.0M286.0 702.5h1.0M272.4 702.7h1.0M265.4 696.2h1.0M283.5 703.9h1.0M268.8 699.4h1.0M274.9 702.6h1.0M279.6 695.1h1.0M282.1 692.2h1.0M278.4 708.7h1.0M275.4 701.8h1.0M287.1 702.4h1.0M281.8 715.1h1.0M293.6 708.7h1.0M274.0 703.7h1.0M279.6 698.8h1.0M280.0 704.0h1.0M284.0 703.8h1.0M281.9 701.1h1.0M280.4 709.3h1.0M293.8 707.5h1.0M279.2 705.0h1.0M283.3 698.6h1.0M281.6 699.0h1.0M276.1 707.3h1.0M285.4 704.0h1.0M267.4 698.1h1.0M288.2 704.8h1.0M269.6 701.3h1.0M278.1 699.9h1.0M281.0 701.5h1.0M276.9 705.7h1.0M276.7 703.6h1.0M288.6 699.0h1.0M296.8 700.5h1.0M287.5 704.6h1.0M281.4 697.3h1.0M276.0 702.5h1.0M275.0 701.1h1.0M288.6 696.8h1.0M286.5 691.1h1.0M289.4 699.1h1.0M287.2 703.0h1.0M289.4 703.3h1.0M276.2 708.0h1.0M274.9 701.7h1.0M273.3 701.1h1.0M280.1 704.0h1.0M279.0 699.9h1.0M281.0 710.8h1.0M272.0 698.4h1.0M281.5 698.1h1.0M285.8 700.3h1.0M280.8 708.2h1.0M261.7 697.3h1.0M280.1 698.4h1.0M277.8 704.8h1.0M286.6 708.7h1.0M279.2 700.0h1.0M284.6 706.1h1.0M277.6 698.6h1.0M282.5 709.3h1.0M287.0 697.6h1.0M278.4 700.6h1.0M282.4 700.2h1.0M281.4 697.6h1.0M284.5 702.2h1.0M279.4 705.3h1.0M283.5 698.3h1.0M267.7 710.1h1.0M278.7 703.1h1.0M285.9 704.4h1.0M284.9 698.7h1.0M273.6 701.0h1.0M274.8 705.8h1.0M283.0 697.4h1.0M282.7 698.9h1.0M283.4 698.3h1.0M280.7 695.6h1.0M281.0 705.2h1.0M287.4 698.8h1.0M273.9 709.5h1.0M270.8 694.8h1.0M287.2 701.1h1.0M275.0 701.7h1.0M284.9 697.6h1.0M275.6 690.9h1.0M272.7 697.9h1.0M290.8 703.0h1.0M279.8 697.2h1.0M270.6 702.2h1.0M278.7 692.6h1.0M279.0 703.3h1.0M278.8 712.2h1.0M281.3 706.9h1.0M272.3 706.0h1.0M278.2 700.0h1.0M283.2 700.2h1.0M284.4 708.0h1.0M280.7 700.4h1.0M274.7 704.6h1.0M266.7 695.7h1.0M290.1 705.0h1.0M272.5 702.0h1.0M277.1 690.7h1.0M280.3 701.4h1.0M283.2 705.1h1.0M280.0 704.6h1.0M274.6 703.2h1.0M279.9 708.3h1.0M294.3 703.2h1.0M297.3 700.1h1.0M278.7 706.3h1.0M284.6 713.0h1.0M268.3 699.0h1.0M281.6 709.6h1.0M285.1 701.6h1.0M278.1 694.4h1.0M292.6 698.9h1.0M286.2 698.4h1.0M284.4 708.2h1.0M262.4 700.5h1.0M276.0 698.8h1.0M285.1 703.2h1.0M276.9 708.6h1.0M268.2 700.3h1.0M276.3 698.0h1.0M290.6 704.9h1.0M284.9 698.4h1.0M286.2 705.1h1.0M281.6 707.0h1.0M291.3 704.1h1.0M261.2 697.7h1.0M272.1 701.7h1.0M293.4 696.4h1.0M287.5 710.6h1.0M281.9 713.9h1.0M278.0 701.8h1.0M267.9 690.4h1.0M277.4 698.3h1.0M279.3 694.7h1.0M274.0 692.0h1.0M289.7 702.3h1.0M287.3 701.9h1.0M278.4 698.6h1.0M286.5 708.1h1.0M280.0 702.1h1.0M282.2 697.3h1.0M277.0 703.7h1.0M297.2 697.6h1.0M270.1 699.1h1.0M279.3 697.7h1.0M287.4 704.2h1.0M287.3 701.4h1.0M269.2 697.9h1.0M273.9 702.6h1.0M279.7 704.2h1.0M274.9 702.6h1.0M275.8 707.0h1.0M278.6 696.6h1.0M279.3 703.8h1.0M287.9 711.1h1.0M268.7 700.8h1.0M287.5 691.8h1.0M278.8 706.6h1.0M284.3 701.4h1.0M278.0 704.9h1.0M296.4 705.1h1.0M268.1 703.7h1.0M288.4 708.9h1.0M277.3 702.3h1.0M278.8 705.7h1.0M290.1 696.6h1.0M279.0 697.4h1.0M286.6 702.1h1.0M290.3 710.9h1.0M276.3 697.4h1.0M294.2 701.8h1.0M289.0 706.2h1.0M278.9 699.2h1.0M281.9 695.7h1.0M275.6 691.7h1.0M282.4 706.1h1.0M286.4 697.0h1.0M287.3 704.5h1.0M282.0 704.7h1.0M276.9 696.6h1.0M276.0 703.7h1.0M273.9 690.7h1.0M278.5 701.2h1.0M284.6 697.3h1.0M276.5 702.7h1.0M275.8 702.4h1.0M273.2 702.1h1.0M284.3 705.5h1.0M278.7 698.6h1.0M269.4 693.6h1.0M288.0 696.7h1.0M287.7 707.7h1.0M280.6 696.8h1.0M278.0 700.0h1.0M280.2 703.7h1.0M274.1 700.5h1.0M287.3 697.8h1.0M289.9 692.5h1.0M287.5 707.4h1.0M282.1 699.3h1.0M282.0 694.1h1.0M284.1 699.2h1.0M292.1 703.5h1.0M275.0 691.6h1.0M280.3 702.6h1.0M275.7 701.5h1.0M272.2 703.3h1.0M282.7 702.3h1.0M288.1 697.9h1.0M273.2 693.1h1.0M287.2 701.7h1.0M285.0 699.9h1.0M283.6 709.9h1.0M289.7 701.5h1.0M275.9 703.5h1.0M291.4 703.4h1.0M278.0 693.0h1.0M284.1 706.1h1.0M269.9 698.5h1.0M287.1 695.5h1.0M280.6 704.0h1.0M276.6 707.6h1.0M273.4 700.5h1.0M281.8 700.6h1.0M289.5 699.7h1.0M284.0 700.2h1.0M278.1 707.1h1.0M275.2 701.7h1.0M273.3 703.2h1.0M278.2 704.5h1.0M269.5 686.2h1.0M277.8 702.4h1.0M287.8 705.5h1.0M280.0 702.9h1.0M279.3 694.4h1.0M276.3 697.5h1.0M285.2 705.7h1.0M284.7 704.4h1.0M290.0 705.1h1.0M275.6 695.7h1.0M272.8 702.4h1.0M276.2 708.5h1.0M271.9 701.1h1.0M280.0 708.5h1.0M277.4 705.8h1.0M274.4 705.3h1.0M279.9 698.5h1.0M287.1 699.4h1.0M285.2 699.1h1.0M276.0 707.0h1.0M280.5 708.0h1.0M282.4 697.0h1.0M284.8 696.0h1.0M277.9 702.2h1.0M271.5 707.3h1.0M282.6 703.4h1.0M273.6 704.2h1.0M277.7 703.9h1.0M278.4 704.5h1.0M286.5 701.9h1.0M277.0 703.9h1.0M281.4 705.3h1.0M278.8 701.1h1.0M276.5 709.7h1.0M286.2 697.3h1.0M277.1 699.6h1.0M283.5 698.0h1.0M282.2 707.3h1.0M267.7 705.8h1.0M269.0 696.9h1.0M258.8 699.8h1.0M282.2 699.8h1.0M282.0 695.3h1.0M276.7 697.5h1.0M276.7 703.1h1.0M278.1 704.4h1.0M276.0 697.8h1.0M280.0 701.8h1.0M280.0 705.9h1.0M274.2 707.9h1.0M289.9 704.6h1.0M287.1 698.6h1.0M277.5 693.8h1.0M295.0 703.8h1.0M296.9 702.2h1.0M288.7 699.9h1.0M288.4 699.4h1.0M276.3 698.7h1.0M278.1 702.4h1.0M269.6 704.0h1.0M277.5 697.5h1.0M286.9 711.7h1.0M277.5 708.5h1.0M268.9 699.4h1.0M291.2 704.6h1.0M293.7 710.8h1.0M290.6 698.5h1.0M269.9 697.7h1.0M285.9 699.5h1.0M274.7 696.3h1.0M279.4 705.3h1.0M285.1 701.4h1.0M290.7 703.5h1.0M276.1 701.8h1.0M278.0 700.7h1.0M271.7 708.4h1.0M280.4 701.1h1.0M273.7 697.0h1.0M277.0 694.8h1.0M285.5 699.2h1.0M280.3 702.8h1.0M281.2 702.8h1.0M282.3 703.5h1.0M285.8 700.5h1.0M289.8 705.1h1.0M272.4 703.3h1.0M269.4 694.8h1.0M283.9 704.3h1.0M285.1 704.5h1.0M289.8 701.6h1.0M285.7 707.9h1.0M292.2 703.5h1.0M283.8 698.6h1.0M276.0 706.1h1.0M287.2 711.4h1.0M274.3 695.6h1.0M275.7 701.1h1.0M283.1 706.6h1.0M278.6 704.8h1.0M286.7 707.6h1.0M277.8 708.1h1.0M292.8 694.6h1.0M273.4 704.6h1.0M285.2 694.5h1.0M277.2 697.0h1.0M290.0 697.7h1.0M276.4 703.9h1.0M285.6 694.4h1.0M258.8 700.1h1.0M275.4 694.0h1.0M291.7 713.0h1.0M281.7 699.5h1.0M281.0 701.9h1.0M286.5 696.8h1.0M296.9 700.9h1.0M272.9 707.6h1.0M279.9 703.1h1.0M277.3 695.9h1.0M285.3 700.0h1.0M275.6 700.6h1.0M269.8 709.4h1.0M270.0 700.2h1.0M285.0 704.6h1.0M281.9 707.3h1.0M286.3 714.3h1.0M269.5 703.9h1.0M274.3 696.0h1.0M276.7 696.7h1.0M286.3 711.0h1.0M283.5 704.3h1.0M279.3 692.4h1.0M273.6 698.7h1.0M281.8 699.8h1.0M277.2 699.9h1.0M286.6 705.8h1.0M292.4 706.6h1.0M281.3 708.6h1.0M272.8 691.8h1.0M296.8 705.2h1.0M284.8 701.4h1.0M284.2 697.1h1.0M281.3 706.2h1.0M281.7 695.6h1.0M281.2 695.2h1.0M282.3 710.1h1.0M270.3 702.9h1.0M275.7 705.5h1.0M279.9 708.4h1.0M281.5 695.8h1.0M281.9 708.9h1.0M283.5 702.8h1.0M268.1 703.3h1.0M273.9 705.2h1.0M276.0 704.6h1.0M281.5 700.2h1.0M279.2 701.8h1.0M294.1 704.3h1.0M277.9 706.9h1.0M278.9 690.9h1.0M270.0 707.8h1.0M293.0 698.8h1.0M281.1 712.8h1.0M279.8 704.3h1.0M276.1 710.2h1.0M281.1 701.0h1.0M278.2 710.3h1.0M288.9 705.0h1.0M275.0 703.5h1.0M277.6 704.0h1.0M276.9 689.3h1.0M284.6 695.2h1.0M282.8 694.3h1.0M287.3 703.2h1.0M284.3 701.3h1.0M284.5 706.5h1.0M281.0 703.8h1.0M286.8 708.9h1.0M283.9 698.9h1.0M282.9 704.0h1.0M269.6 698.3h1.0M277.4 695.9h1.0M275.9 692.7h1.0M268.2 700.2h1.0M289.5 698.4h1.0M290.5 700.4h1.0M288.0 698.0h1.0M284.5 697.0h1.0M269.1 700.9h1.0M289.3 696.4h1.0M266.7 699.5h1.0M281.6 702.2h1.0M281.3 694.7h1.0M284.0 707.6h1.0M285.0 697.8h1.0M285.4 705.0h1.0M275.7 699.1h1.0M275.9 697.3h1.0M281.4 698.9h1.0M278.2 694.0h1.0M269.6 698.0h1.0M287.1 697.6h1.0M272.7 706.3h1.0M277.1 703.6h1.0M275.4 695.3h1.0M275.4 710.0h1.0M284.4 701.1h1.0M275.7 694.7h1.0M270.7 706.1h1.0M276.0 704.5h1.0M273.4 695.9h1.0M270.0 695.0h1.0M286.7 701.7h1.0M288.3 699.3h1.0M270.6 703.4h1.0M291.2 704.3h1.0M293.0 697.2h1.0M271.0 695.3h1.0M283.3 700.8h1.0M278.6 708.0h1.0M286.1 699.2h1.0M260.4 702.5h1.0M284.7 699.0h1.0M277.9 703.6h1.0M283.7 699.2h1.0M286.5 704.5h1.0M264.3 695.5h1.0M280.1 697.9h1.0M280.4 711.4h1.0M284.6 706.8h1.0M288.2 696.3h1.0M285.6 708.1h1.0M275.2 700.3h1.0M285.3 709.0h1.0M275.3 694.4h1.0M285.7 701.8h1.0M279.3 699.4h1.0M279.2 698.0h1.0M281.4 695.9h1.0M269.6 710.2h1.0M278.3 701.4h1.0M272.3 699.2h1.0M286.8 694.1h1.0M289.1 708.3h1.0M270.6 706.3h1.0M265.2 699.2h1.0M282.1 695.0h1.0M276.6 704.2h1.0M274.1 701.0h1.0M296.0 696.1h1.0M277.6 711.9h1.0M273.4 704.6h1.0M278.6 696.6h1.0M282.4 697.9h1.0M291.2 706.9h1.0M282.6 708.0h1.0M271.9 703.8h1.0M277.1 704.1h1.0M293.0 701.3h1.0M268.6 710.9h1.0M280.1 700.5h1.0M288.5 703.9h1.0M282.3 704.0h1.0M279.0 700.4h1.0M274.4 705.2h1.0M281.6 709.9h1.0M284.1 691.2h1.0M282.0 701.1h1.0M287.5 709.1h1.0M281.9 709.2h1.0M289.3 700.6h1.0M281.5 705.5h1.0M286.7 703.7h1.0M278.3 702.5h1.0M292.4 700.2h1.0M289.1 708.0h1.0M285.2 708.6h1.0M273.8 709.3h1.0M281.8 703.5h1.0M260.5 700.5h1.0M278.1 707.5h1.0M274.6 700.3h1.0M281.6 701.8h1.0M285.1 711.4h1.0M292.9 697.8h1.0M280.7 689.4h1.0M269.9 705.9h1.0M264.6 707.4h1.0M279.5 708.7h1.0M286.7 707.9h1.0M288.2 708.5h1.0M281.3 698.8h1.0M276.1 706.9h1.0M275.8 696.7h1.0M279.6 694.2h1.0M281.2 701.1h1.0M284.7 696.2h1.0M281.4 696.7h1.0M294.3 700.4h1.0M281.7 700.2h1.0M284.0 703.2h1.0M287.7 697.8h1.0M287.1 699.8h1.0M276.2 700.8h1.0M269.6 701.7h1.0M271.8 703.5h1.0M283.2 706.2h1.0M284.7 703.7h1.0M283.0 704.6h1.0M286.0 706.1h1.0M289.5 703.0h1.0M275.4 702.4h1.0M298.1 699.5h1.0M298.8 705.3h1.0M285.9 707.6h1.0M279.5 698.7h1.0M282.4 708.9h1.0M271.1 698.5h1.0M280.9 707.5h1.0M275.1 709.9h1.0M280.1 703.2h1.0M278.5 699.9h1.0M294.8 705.9h1.0M274.8 699.5h1.0M282.8 697.8h1.0M278.0 707.0h1.0M291.5 693.7h1.0M288.0 707.4h1.0M270.3 697.1h1.0M274.0 706.0h1.0M282.6 699.8h1.0M276.5 710.8h1.0M283.8 699.9h1.0M281.3 690.9h1.0M278.7 702.0h1.0M284.0 701.8h1.0M280.2 702.0h1.0M281.7 700.6h1.0M283.3 703.8h1.0M279.9 698.2h1.0M289.9 714.0h1.0M272.1 697.6h1.0M283.9 705.7h1.0M277.2 708.4h1.0M283.5 701.3h1.0M286.5 707.1h1.0M285.1 699.8h1.0M285.3 697.6h1.0M285.9 698.6h1.0M284.4 707.9h1.0M279.2 707.2h1.0M285.7 698.1h1.0M287.4 707.9h1.0M286.7 698.2h1.0M282.7 703.2h1.0M282.7 705.8h1.0M267.2 690.2h1.0M275.2 704.5h1.0M279.4 700.4h1.0M287.5 695.4h1.0M288.9 706.3h1.0M281.7 703.6h1.0M273.0 703.0h1.0M284.0 701.0h1.0M287.4 699.4h1.0M285.9 695.9h1.0M275.9 700.3h1.0M273.3 695.9h1.0M274.5 699.0h1.0M273.3 703.2h1.0M287.5 706.7h1.0M282.8 704.3h1.0M295.4 705.0h1.0M291.9 701.8h1.0M287.6 707.4h1.0M276.0 707.3h1.0M285.2 700.0h1.0M283.7 700.1h1.0M271.1 696.0h1.0M272.0 699.5h1.0M275.6 699.2h1.0M289.3 712.7h1.0M278.0 708.4h1.0M271.2 694.1h1.0M281.2 705.9h1.0M284.7 701.2h1.0M272.4 692.3h1.0M293.7 704.6h1.0M275.5 697.9h1.0M287.9 704.3h1.0M285.3 705.0h1.0M275.6 698.1h1.0M279.8 709.3h1.0M280.7 702.6h1.0M278.2 697.7h1.0M285.7 694.3h1.0M281.0 713.1h1.0M268.7 696.6h1.0M281.2 702.3h1.0M272.7 702.5h1.0M279.0 706.2h1.0M282.2 695.3h1.0M279.8 689.6h1.0M287.5 703.2h1.0M280.0 694.3h1.0M277.0 700.1h1.0M291.9 713.4h1.0M285.6 699.4h1.0M279.6 705.1h1.0M280.6 696.3h1.0M281.1 700.0h1.0M274.0 703.1h1.0M292.6 702.5h1.0M289.0 699.7h1.0M265.2 705.5h1.0M274.0 699.9h1.0M280.2 697.1h1.0M276.1 698.6h1.0M266.0 698.6h1.0M285.3 702.7h1.0M272.4 701.5h1.0M285.2 698.1h1.0M283.7 699.5h1.0M290.9 713.2h1.0M274.4 699.7h1.0M293.0 709.8h1.0M272.1 698.5h1.0M290.8 704.5h1.0M287.8 699.3h1.0M283.5 692.0h1.0M273.1 698.0h1.0M291.6 707.2h1.0M286.1 708.5h1.0M269.2 705.7h1.0M262.8 696.8h1.0M276.0 699.3h1.0M274.6 695.1h1.0M285.4 703.4h1.0M281.5 705.7h1.0M282.7 702.8h1.0M277.0 697.3h1.0M287.1 704.2h1.0M276.6 701.5h1.0M325.2 669.2h1.0M319.5 671.8h1.0M322.8 669.7h1.0M314.8 671.8h1.0M313.8 671.5h1.0M299.2 674.6h1.0M322.9 668.0h1.0M322.5 668.9h1.0M312.8 676.1h1.0M334.5 669.4h1.0M331.7 670.7h1.0M336.0 667.3h1.0M320.2 670.7h1.0M319.1 672.7h1.0M324.2 669.3h1.0M329.4 670.8h1.0M334.4 667.7h1.0M313.1 674.2h1.0M319.9 669.6h1.0M303.9 678.4h1.0M319.1 671.6h1.0M329.3 670.0h1.0M327.4 667.8h1.0M341.9 664.3h1.0M327.4 670.5h1.0M317.8 668.5h1.0M314.9 674.6h1.0M323.8 669.0h1.0M335.8 668.9h1.0M310.6 672.1h1.0M313.2 672.6h1.0M322.2 670.6h1.0M318.6 673.1h1.0M329.3 667.1h1.0M317.5 672.7h1.0M321.9 671.1h1.0M321.4 672.1h1.0M323.4 668.6h1.0M333.4 667.7h1.0M310.3 672.0h1.0M306.5 673.6h1.0M308.6 675.8h1.0M319.0 673.5h1.0M322.5 668.7h1.0M326.2 669.2h1.0M324.2 669.8h1.0M322.6 668.6h1.0M306.1 673.7h1.0M315.8 670.1h1.0M325.2 670.7h1.0M310.8 671.5h1.0M317.3 674.3h1.0M317.7 667.9h1.0M325.8 670.6h1.0M313.9 673.6h1.0M307.0 673.0h1.0M318.3 668.3h1.0M319.0 671.6h1.0M328.7 666.6h1.0M316.3 673.9h1.0M319.5 671.3h1.0M317.0 671.7h1.0M317.3 671.9h1.0M339.5 667.6h1.0M299.5 676.0h1.0M326.6 670.4h1.0M314.6 673.0h1.0M322.1 669.5h1.0M308.1 676.0h1.0M323.2 673.2h1.0M314.5 674.4h1.0M326.3 669.6h1.0M333.3 669.0h1.0M310.6 671.3h1.0M307.6 672.5h1.0M331.4 666.5h1.0M338.4 665.3h1.0M321.6 672.1h1.0M303.5 673.5h1.0M307.9 672.8h1.0M329.8 665.8h1.0M336.7 665.6h1.0M320.4 667.8h1.0M309.8 675.1h1.0M331.5 667.8h1.0M309.7 675.2h1.0M315.6 674.6h1.0M316.0 672.8h1.0M315.9 672.6h1.0M326.2 669.7h1.0M313.1 671.9h1.0M322.8 666.3h1.0M330.9 668.6h1.0M330.9 667.0h1.0M333.2 665.9h1.0M318.3 670.3h1.0M306.7 674.2h1.0M323.1 671.5h1.0M323.5 668.3h1.0M324.0 667.6h1.0M318.2 673.4h1.0M325.5 670.6h1.0M312.6 674.2h1.0M328.6 668.3h1.0M336.9 664.2h1.0M322.7 672.7h1.0M322.0 672.7h1.0M327.1 668.1h1.0M326.4 670.1h1.0M326.5 671.4h1.0M323.4 674.7h1.0M319.2 673.4h1.0M335.2 668.2h1.0M311.3 672.7h1.0M331.3 667.3h1.0M314.2 672.3h1.0M325.7 668.3h1.0M313.4 673.8h1.0M308.2 674.2h1.0M312.6 672.4h1.0M313.2 670.8h1.0M333.1 668.0h1.0M316.3 671.3h1.0M315.5 672.8h1.0M313.1 671.0h1.0M321.2 672.0h1.0M321.3 670.5h1.0M326.3 673.0h1.0M315.5 670.7h1.0M311.1 676.9h1.0M320.9 676.2h1.0M329.0 668.8h1.0M327.9 672.9h1.0M312.9 674.9h1.0M317.2 669.5h1.0M324.3 669.0h1.0M316.5 673.8h1.0M309.4 674.3h1.0M323.1 672.0h1.0M318.4 672.3h1.0M324.0 672.8h1.0M328.8 668.5h1.0M317.2 669.9h1.0M311.7 672.0h1.0M314.9 672.3h1.0M328.2 667.5h1.0M322.3 670.5h1.0M328.2 668.7h1.0M318.5 670.9h1.0M327.9 669.1h1.0M317.4 671.1h1.0M316.0 673.9h1.0M321.5 671.0h1.0M320.5 672.4h1.0M319.5 668.6h1.0M322.0 670.7h1.0M329.8 667.8h1.0M315.7 668.6h1.0M306.5 678.2h1.0M325.1 667.4h1.0M337.8 668.3h1.0M330.6 669.9h1.0M311.3 675.4h1.0M325.5 669.0h1.0M331.1 663.7h1.0M329.3 670.0h1.0M337.3 666.7h1.0M328.9 670.1h1.0M297.6 676.4h1.0M326.5 671.9h1.0M314.9 673.3h1.0M313.6 672.1h1.0M306.8 678.8h1.0M310.5 672.4h1.0M318.4 667.5h1.0M331.0 668.7h1.0M331.4 669.2h1.0M327.3 670.4h1.0M332.2 667.1h1.0M318.1 671.6h1.0M314.3 671.0h1.0M338.0 665.9h1.0M325.6 671.0h1.0M318.5 670.6h1.0M328.0 670.5h1.0M315.2 671.9h1.0M335.2 667.6h1.0M310.3 673.0h1.0M316.9 674.0h1.0M320.0 671.4h1.0M319.9 669.7h1.0M310.8 673.7h1.0M329.0 671.1h1.0M327.0 669.9h1.0M322.1 668.7h1.0M326.6 668.1h1.0M317.6 669.8h1.0M330.0 671.2h1.0M316.7 672.3h1.0M312.4 674.6h1.0M320.1 672.6h1.0M320.0 670.5h1.0M324.7 672.0h1.0M327.5 669.0h1.0M336.3 667.7h1.0M310.2 669.8h1.0M308.0 673.9h1.0M324.2 669.3h1.0M333.1 666.4h1.0M330.7 668.8h1.0M320.9 668.5h1.0M319.8 670.6h1.0M319.4 666.5h1.0M337.2 666.4h1.0M320.1 669.7h1.0M324.7 673.0h1.0M311.4 673.5h1.0M329.9 669.7h1.0M320.9 665.4h1.0M319.8 670.3h1.0M319.5 669.0h1.0M320.9 673.2h1.0M345.4 666.5h1.0M327.3 669.4h1.0M327.8 669.4h1.0M315.6 672.3h1.0M310.0 673.4h1.0M303.6 676.2h1.0M317.1 672.8h1.0M323.6 669.8h1.0M324.1 668.6h1.0M309.6 676.5h1.0M327.7 668.3h1.0M317.3 670.3h1.0M331.8 672.3h1.0M319.9 671.2h1.0M322.5 670.1h1.0M315.9 669.5h1.0M316.3 670.0h1.0M322.5 672.9h1.0M327.1 668.7h1.0M328.4 671.1h1.0M316.1 670.0h1.0M311.6 674.7h1.0M325.8 669.9h1.0M333.2 667.1h1.0M318.0 668.3h1.0M318.6 673.9h1.0M318.4 671.8h1.0M325.1 669.8h1.0M330.4 670.2h1.0M314.2 670.7h1.0M326.0 672.3h1.0M334.5 669.1h1.0M327.4 670.4h1.0M315.7 673.4h1.0M309.9 672.5h1.0M322.6 670.2h1.0M333.9 668.6h1.0M329.1 668.0h1.0M334.6 670.1h1.0M319.2 672.9h1.0M322.9 673.1h1.0M315.5 669.5h1.0M327.1 672.3h1.0M320.7 670.1h1.0M315.7 670.8h1.0M319.1 670.9h1.0M327.2 672.0h1.0M329.9 669.6h1.0M329.1 669.7h1.0M342.3 667.6h1.0M328.9 671.0h1.0M314.7 674.6h1.0M331.7 670.0h1.0M315.3 672.9h1.0M313.2 673.8h1.0M328.7 666.5h1.0M317.6 671.5h1.0M322.7 666.5h1.0M318.3 671.4h1.0M321.0 671.1h1.0M307.9 672.8h1.0M330.3 667.7h1.0M333.1 669.9h1.0M320.6 670.4h1.0M333.3 667.9h1.0M330.0 672.2h1.0M332.9 668.6h1.0M335.3 669.1h1.0M312.3 673.9h1.0M329.7 669.8h1.0M321.5 672.9h1.0M329.2 668.5h1.0M320.5 672.4h1.0M340.4 665.2h1.0M336.9 666.2h1.0M322.7 671.6h1.0M326.6 668.3h1.0M324.8 665.1h1.0M325.0 669.4h1.0M330.8 670.8h1.0M314.6 670.6h1.0M310.8 674.4h1.0M332.4 667.3h1.0M325.8 666.8h1.0M319.0 670.7h1.0M317.1 667.5h1.0M310.3 675.6h1.0M320.5 670.2h1.0M308.2 674.6h1.0M324.0 670.0h1.0M325.2 667.0h1.0M317.1 671.0h1.0M331.4 670.4h1.0M329.2 670.2h1.0M324.4 669.2h1.0M316.3 670.6h1.0M317.1 671.6h1.0M314.6 669.9h1.0M305.9 674.9h1.0M322.6 667.3h1.0M328.7 667.5h1.0M309.5 675.1h1.0M325.5 669.6h1.0M320.3 669.7h1.0M323.3 670.4h1.0M328.5 668.4h1.0M330.2 668.9h1.0M316.5 673.8h1.0M328.6 668.7h1.0M318.7 668.2h1.0M300.4 676.6h1.0M339.6 664.7h1.0M322.5 672.5h1.0M319.5 672.9h1.0M333.6 667.6h1.0M326.1 670.3h1.0M317.4 669.0h1.0M324.0 666.8h1.0M324.9 669.1h1.0M320.4 671.5h1.0M301.8 678.0h1.0M323.4 668.9h1.0M314.1 670.8h1.0M313.2 671.1h1.0M322.5 669.0h1.0M340.5 666.2h1.0M311.9 670.4h1.0M324.7 671.2h1.0M309.4 671.2h1.0M308.3 678.0h1.0M318.9 671.0h1.0M329.9 668.7h1.0M324.5 666.9h1.0M324.5 670.4h1.0M332.5 664.4h1.0M326.2 671.0h1.0M317.0 670.5h1.0M313.9 672.9h1.0M316.5 699.3h1.0M318.6 701.6h1.0M320.6 694.0h1.0M319.5 691.8h1.0M317.6 693.8h1.0M311.0 701.2h1.0M308.4 691.6h1.0M317.7 698.3h1.0M315.6 690.5h1.0M311.4 692.3h1.0M313.7 695.7h1.0M318.6 695.7h1.0M318.4 697.0h1.0M311.0 700.7h1.0M307.5 692.3h1.0M304.5 697.6h1.0M311.7 698.1h1.0M312.4 696.1h1.0M307.5 700.6h1.0M319.2 693.3h1.0M323.3 691.0h1.0M310.2 687.5h1.0M317.6 686.7h1.0M313.4 697.7h1.0M316.8 689.6h1.0M314.9 695.5h1.0M313.6 697.2h1.0M318.7 692.9h1.0M317.5 697.4h1.0M312.0 692.8h1.0M316.4 696.1h1.0M311.1 695.0h1.0M313.8 689.2h1.0M317.0 686.4h1.0M316.3 693.3h1.0M306.4 702.8h1.0M316.9 698.1h1.0M308.1 698.0h1.0M315.1 697.3h1.0M317.5 697.0h1.0M306.7 695.8h1.0M308.8 700.9h1.0M318.1 694.5h1.0M315.6 692.3h1.0M303.8 711.7h1.0M318.8 695.8h1.0M311.0 695.0h1.0M308.3 699.1h1.0M315.3 689.8h1.0M310.9 691.0h1.0M314.2 701.7h1.0M315.3 696.6h1.0M326.0 687.3h1.0M318.6 687.3h1.0M315.3 693.9h1.0M314.5 690.6h1.0M315.7 699.0h1.0M316.4 686.8h1.0M311.0 700.0h1.0M316.6 690.1h1.0M310.6 690.9h1.0M311.2 695.5h1.0M313.6 689.9h1.0M319.0 690.9h1.0M318.1 691.3h1.0M299.5 689.6h1.0M320.0 688.4h1.0M314.3 695.7h1.0M314.4 686.7h1.0M321.2 687.4h1.0M310.5 692.0h1.0M308.9 699.3h1.0M304.3 700.6h1.0M308.2 701.6h1.0M318.0 689.7h1.0M310.0 698.6h1.0M308.9 696.8h1.0M315.9 689.1h1.0M309.0 697.8h1.0M310.2 695.5h1.0M310.0 693.1h1.0M315.9 689.9h1.0M310.5 689.4h1.0M311.4 697.0h1.0M313.0 696.4h1.0M304.9 695.9h1.0M312.7 693.4h1.0M305.0 694.7h1.0M308.0 699.0h1.0M311.5 695.9h1.0M314.4 687.7h1.0M312.6 695.2h1.0M319.0 694.8h1.0M314.4 692.1h1.0M316.6 691.9h1.0M311.5 692.9h1.0M310.6 697.7h1.0M322.0 690.7h1.0M305.7 696.6h1.0M319.5 693.2h1.0M310.1 701.3h1.0M317.1 688.0h1.0M307.4 705.0h1.0M316.2 689.3h1.0M315.3 693.2h1.0M303.4 694.4h1.0M310.6 695.9h1.0M317.0 695.7h1.0M318.8 701.8h1.0M315.3 698.6h1.0M311.0 692.8h1.0M313.5 695.4h1.0M307.4 696.8h1.0M308.9 693.4h1.0M314.9 696.4h1.0M313.8 695.5h1.0M317.3 691.9h1.0M314.7 691.7h1.0M316.7 696.4h1.0M313.3 694.2h1.0M316.8 698.2h1.0M325.9 694.4h1.0M309.0 691.3h1.0M314.5 686.5h1.0M311.6 695.3h1.0M316.3 691.3h1.0M316.1 690.0h1.0M309.9 692.9h1.0M314.7 699.7h1.0M314.9 693.4h1.0M313.4 701.8h1.0M315.5 697.0h1.0M320.7 686.1h1.0M316.9 695.3h1.0M312.7 700.4h1.0M315.2 687.5h1.0M323.8 687.0h1.0M311.0 694.9h1.0M319.5 690.9h1.0M310.7 701.8h1.0M306.1 693.5h1.0M310.6 701.8h1.0M315.7 688.8h1.0M312.8 691.6h1.0M310.5 696.7h1.0M310.1 697.5h1.0M309.3 696.4h1.0M308.8 702.0h1.0M311.0 702.2h1.0M301.7 705.4h1.0M316.1 693.6h1.0M315.4 697.4h1.0M314.4 693.4h1.0M318.4 698.7h1.0M311.0 686.7h1.0M313.9 692.1h1.0M301.2 697.3h1.0M314.9 692.5h1.0M312.0 701.1h1.0M316.9 688.5h1.0M318.1 690.3h1.0M313.1 690.3h1.0M307.7 696.2h1.0M315.6 690.7h1.0M318.1 697.0h1.0M318.4 696.7h1.0M311.3 687.4h1.0M309.4 687.8h1.0M312.6 698.0h1.0M308.8 697.5h1.0M303.3 691.5h1.0M315.7 693.9h1.0M316.0 689.3h1.0M317.1 696.7h1.0M309.7 690.8h1.0M313.7 692.3h1.0M307.9 698.0h1.0M306.6 696.8h1.0M316.1 697.9h1.0M304.9 698.7h1.0M312.1 689.4h1.0M325.4 692.2h1.0M319.8 688.7h1.0M317.1 699.1h1.0M316.8 699.7h1.0M312.8 699.1h1.0M310.9 703.7h1.0M323.7 694.8h1.0M312.9 700.4h1.0M310.9 699.0h1.0M317.1 697.0h1.0M313.6 697.9h1.0M320.3 693.9h1.0M310.8 702.2h1.0M309.8 691.6h1.0M311.9 689.2h1.0M321.8 689.5h1.0M318.5 699.3h1.0M315.2 693.2h1.0M314.4 691.4h1.0M315.6 690.9h1.0M309.2 697.6h1.0M316.5 693.6h1.0M311.5 699.7h1.0M315.1 693.0h1.0M314.1 697.9h1.0M315.5 690.9h1.0M311.7 697.2h1.0M318.7 704.7h1.0M315.8 693.3h1.0M310.2 695.1h1.0M316.2 697.6h1.0M312.3 691.3h1.0M315.9 692.3h1.0M318.2 691.3h1.0M311.6 696.2h1.0M313.9 689.4h1.0M314.4 699.8h1.0M314.2 695.0h1.0M324.0 692.4h1.0M315.8 693.4h1.0M308.4 696.0h1.0M314.6 685.7h1.0M311.4 700.1h1.0M326.0 687.9h1.0M310.9 698.5h1.0M308.6 695.5h1.0M317.7 692.8h1.0M311.5 697.1h1.0M312.2 701.4h1.0M312.9 694.5h1.0M310.8 693.3h1.0M312.0 696.9h1.0M303.3 688.3h1.0M313.6 691.4h1.0M317.2 689.9h1.0M323.3 690.6h1.0M314.4 689.3h1.0M318.2 696.6h1.0M310.6 694.4h1.0M278.0 691.9h1.0M292.1 709.4h1.0M262.9 700.6h1.0M285.0 698.5h1.0M281.7 714.1h1.0M290.0 704.5h1.0M290.8 702.9h1.0M267.6 692.0h1.0M278.8 711.1h1.0M294.0 693.0h1.0M277.6 707.0h1.0M262.1 698.7h1.0M299.9 700.5h1.0M270.0 709.1h1.0M283.9 711.1h1.0M266.2 692.5h1.0M294.4 707.3h1.0M273.1 704.2h1.0M263.4 704.3h1.0M283.7 696.8h1.0M270.8 709.0h1.0M280.1 713.7h1.0M300.4 704.5h1.0M265.2 691.5h1.0M266.9 714.5h1.0M279.8 709.2h1.0M270.8 694.4h1.0M296.9 700.5h1.0M265.5 709.2h1.0M297.8 706.3h1.0M263.7 698.8h1.0M271.3 702.2h1.0M262.6 713.7h1.0M266.6 707.8h1.0M276.7 707.3h1.0M276.3 701.2h1.0M267.7 690.8h1.0M270.2 696.0h1.0M277.0 703.5h1.0M263.5 694.6h1.0M299.0 705.7h1.0M294.0 715.1h1.0M263.6 706.1h1.0M274.4 704.9h1.0M272.5 706.0h1.0M289.1 701.3h1.0M292.1 698.5h1.0M264.4 707.9h1.0M288.5 701.4h1.0M262.2 692.8h1.0M266.0 694.4h1.0M281.4 700.5h1.0M267.2 710.1h1.0M266.9 691.2h1.0M295.9 707.2h1.0M291.3 712.1h1.0M292.6 693.0h1.0M265.7 710.7h1.0M283.0 707.3h1.0M262.5 709.6h1.0M296.2 691.0h1.0M284.8 699.3h1.0M280.3 709.0h1.0M274.4 695.4h1.0M286.8 703.8h1.0M265.4 706.3h1.0M292.6 701.6h1.0M299.3 703.6h1.0M293.1 690.4h1.0M262.2 692.7h1.0M294.4 700.7h1.0M299.0 698.0h1.0M300.9 702.8h1.0M263.1 706.8h1.0M268.8 710.2h1.0M279.2 696.7h1.0M274.6 710.5h1.0M270.0 715.2h1.0M289.3 693.7h1.0M272.1 711.0h1.0M280.1 695.1h1.0M290.3 690.2h1.0M293.3 702.0h1.0M300.3 715.1h1.0M265.0 712.8h1.0M274.0 700.8h1.0M296.5 694.1h1.0M268.9 700.2h1.0M293.8 709.6h1.0M274.8 692.4h1.0M297.7 702.0h1.0M280.3 694.1h1.0M297.8 707.3h1.0M290.2 705.1h1.0M264.6 710.5h1.0M275.3 696.6h1.0M273.7 702.7h1.0M282.1 690.6h1.0M283.1 707.9h1.0M272.8 700.6h1.0M285.2 694.9h1.0M267.1 698.5h1.0M297.8 713.8h1.0M290.8 694.5h1.0M272.9 704.1h1.0M268.3 695.2h1.0M289.0 714.8h1.0M280.9 692.9h1.0M293.6 690.5h1.0M299.1 693.1h1.0M266.2 715.1h1.0M271.1 699.2h1.0M281.1 711.3h1.0M275.7 692.9h1.0M301.7 696.8h1.0M278.1 711.6h1.0M287.8 701.3h1.0M262.9 693.2h1.0M298.7 709.5h1.0M265.7 710.8h1.0M289.6 708.8h1.0M276.3 697.7h1.0M271.2 712.6h1.0M292.9 691.7h1.0M297.3 709.1h1.0M275.3 706.5h1.0M275.2 702.3h1.0M269.3 701.9h1.0M275.5 707.0h1.0M281.3 711.4h1.0M280.8 707.3h1.0M268.0 714.9h1.0M268.1 712.5h1.0M285.8 711.2h1.0M267.9 714.7h1.0M297.2 692.5h1.0M295.6 709.6h1.0M283.5 704.2h1.0M269.4 714.6h1.0M288.6 697.6h1.0M282.7 708.1h1.0M279.3 705.5h1.0M290.9 699.5h1.0M272.8 710.3h1.0M285.6 711.6h1.0M297.0 709.2h1.0M272.6 707.3h1.0M262.6 692.3h1.0M285.8 702.2h1.0M271.9 708.0h1.0M265.0 709.6h1.0M275.0 713.5h1.0M279.6 690.1h1.0M273.9 700.2h1.0M280.5 712.3h1.0M298.2 702.4h1.0M276.6 693.7h1.0M271.7 691.4h1.0M266.0 707.0h1.0M263.3 694.1h1.0M296.2 701.6h1.0M291.6 701.0h1.0M271.1 699.9h1.0M277.0 701.1h1.0M300.3 705.6h1.0M275.7 709.2h1.0M267.7 712.7h1.0M287.1 703.1h1.0M301.2 714.5h1.0M278.4 691.0h1.0M294.9 692.6h1.0M291.3 690.5h1.0M287.0 696.6h1.0M270.8 703.3h1.0M266.6 715.2h1.0M290.2 697.7h1.0M288.7 692.8h1.0M298.7 695.0h1.0M269.2 692.3h1.0M271.1 694.9h1.0M299.4 695.8h1.0M276.7 695.7h1.0M289.9 701.8h1.0M297.8 691.0h1.0M283.6 695.5h1.0M262.2 690.1h1.0M294.8 708.0h1.0M300.4 709.5h1.0M273.7 711.8h1.0M279.6 711.5h1.0M275.7 696.7h1.0M269.5 712.3h1.0M283.1 698.0h1.0M296.2 707.6h1.0M284.8 701.2h1.0M294.0 704.1h1.0M281.5 711.8h1.0M265.7 694.1h1.0M267.4 713.6h1.0M322.7 694.2h1.0M307.6 715.0h1.0M319.1 707.7h1.0M333.6 711.2h1.0M307.7 709.2h1.0M304.7 689.4h1.0M305.6 703.3h1.0M328.6 696.5h1.0M312.2 697.7h1.0M316.8 690.5h1.0M319.9 708.5h1.0M314.4 695.8h1.0M310.2 692.5h1.0M319.8 687.7h1.0M323.7 708.5h1.0M312.7 712.3h1.0M329.4 690.1h1.0M320.5 694.5h1.0M307.8 702.2h1.0M324.6 707.6h1.0M315.3 701.4h1.0M323.3 708.5h1.0M328.3 710.3h1.0M305.0 699.5h1.0M316.9 707.4h1.0M317.0 709.0h1.0M310.8 690.4h1.0M310.5 702.3h1.0M313.4 695.8h1.0M308.6 694.2h1.0M306.1 713.2h1.0M312.4 713.5h1.0M312.8 690.8h1.0M324.4 711.3h1.0M323.6 708.8h1.0M315.4 698.1h1.0M323.5 697.8h1.0M311.9 697.5h1.0M318.2 712.7h1.0M314.4 699.3h1.0M306.4 701.7h1.0M314.5 705.2h1.0M330.1 691.1h1.0M325.7 687.5h1.0M309.8 708.3h1.0M331.8 698.4h1.0M325.9 710.1h1.0M333.9 711.4h1.0M310.2 689.6h1.0M321.9 694.4h1.0M325.1 696.9h1.0M304.6 713.0h1.0M316.8 694.7h1.0M328.7 699.9h1.0M330.3 705.3h1.0M306.8 714.6h1.0M313.0 697.2h1.0M309.8 715.2h1.0M322.4 709.6h1.0M309.0 710.7h1.0M329.7 700.4h1.0M323.6 708.2h1.0M309.6 688.6h1.0M327.7 705.7h1.0M307.9 697.8h1.0M329.4 693.3h1.0M310.8 712.9h1.0M319.6 688.0h1.0M304.8 698.5h1.0M313.5 701.8h1.0M309.4 686.4h1.0M301.0 685.3h1.0M288.7 676.7h1.0M299.5 679.3h1.0M304.8 677.0h1.0M302.5 677.4h1.0M298.8 683.0h1.0M292.1 685.4h1.0M295.1 674.9h1.0M307.0 675.0h1.0M286.3 675.0h1.0M298.2 685.3h1.0M291.5 674.0h1.0M290.0 679.2h1.0M290.0 674.3h1.0M290.4 677.3h1.0M306.9 673.6h1.0M309.9 675.4h1.0M305.2 685.0h1.0M309.1 682.5h1.0M288.8 682.3h1.0M309.2 677.8h1.0M290.8 677.1h1.0M290.5 672.8h1.0M293.2 678.2h1.0M295.7 685.3h1.0M306.8 676.3h1.0M305.8 675.6h1.0M288.4 672.1h1.0M304.9 683.8h1.0M300.9 674.1h1.0M309.4 674.7h1.0M301.6 673.1h1.0M295.2 681.7h1.0M296.8 674.3h1.0M308.2 682.6h1.0M285.5 681.6h1.0M308.8 686.9h1.0M296.9 677.5h1.0M287.6 680.4h1.0M337.0 675.5h1.0M324.3 675.6h1.0M328.9 672.9h1.0M305.9 665.6h1.0M336.5 671.8h1.0M317.3 677.4h1.0M326.5 660.1h1.0M331.1 663.2h1.0M313.3 681.6h1.0M339.5 666.7h1.0M318.4 669.9h1.0M331.5 663.1h1.0M318.5 663.7h1.0M321.0 674.7h1.0M322.5 673.9h1.0M315.0 670.8h1.0M316.3 675.7h1.0M302.3 663.6h1.0M330.2 674.5h1.0M334.4 662.7h1.0M337.6 665.8h1.0M300.4 669.3h1.0M326.9 666.7h1.0M301.1 668.8h1.0M326.9 672.3h1.0M337.4 677.0h1.0M320.4 663.1h1.0M304.6 676.0h1.0M323.8 668.8h1.0M334.1 666.2h1.0" stroke="#000" stroke-width="1.0" opacity="0.82" fill="none"/>
<line x1="256.50" y1="640.00" x2="256.50" y2="717.80" stroke="#000" stroke-width="1.9"/>
<line x1="255.60" y1="716.90" x2="361.50" y2="716.90" stroke="#000" stroke-width="1.9"/>
<line x1="253.50" y1="707.80" x2="256.50" y2="707.80" stroke="#000" stroke-width="1.2"/>
<line x1="253.50" y1="692.60" x2="256.50" y2="692.60" stroke="#000" stroke-width="1.2"/>
<line x1="253.50" y1="677.40" x2="256.50" y2="677.40" stroke="#000" stroke-width="1.2"/>
<line x1="253.50" y1="662.20" x2="256.50" y2="662.20" stroke="#000" stroke-width="1.2"/>
<line x1="253.50" y1="647.00" x2="256.50" y2="647.00" stroke="#000" stroke-width="1.2"/>
<line x1="269.80" y1="716.90" x2="269.80" y2="719.90" stroke="#000" stroke-width="1.2"/>
<line x1="290.40" y1="716.90" x2="290.40" y2="719.90" stroke="#000" stroke-width="1.2"/>
<line x1="311.00" y1="716.90" x2="311.00" y2="719.90" stroke="#000" stroke-width="1.2"/>
<line x1="331.60" y1="716.90" x2="331.60" y2="719.90" stroke="#000" stroke-width="1.2"/>
<line x1="352.20" y1="716.90" x2="352.20" y2="719.90" stroke="#000" stroke-width="1.2"/>
<path d="M254.7 715.7h1.8M254.7 713.8h1.8M254.7 712.4h1.8M254.7 711.2h1.8M254.7 710.2h1.8M254.7 709.3h1.8M254.7 708.5h1.8M254.7 703.2h1.8M254.7 700.5h1.8M254.7 698.6h1.8M254.7 697.2h1.8M254.7 696.0h1.8M254.7 695.0h1.8M254.7 694.1h1.8M254.7 693.3h1.8M254.7 688.0h1.8M254.7 685.3h1.8M254.7 683.4h1.8M254.7 682.0h1.8M254.7 680.8h1.8M254.7 679.8h1.8M254.7 678.9h1.8M254.7 678.1h1.8M254.7 672.8h1.8M254.7 670.1h1.8M254.7 668.2h1.8M254.7 666.8h1.8M254.7 665.6h1.8M254.7 664.6h1.8M254.7 663.7h1.8M254.7 662.9h1.8M254.7 657.6h1.8M254.7 654.9h1.8M254.7 653.0h1.8M254.7 651.6h1.8M254.7 650.4h1.8M254.7 649.4h1.8M254.7 648.5h1.8M254.7 647.7h1.8" stroke="#000" stroke-width="0.8"/>
<path d="M259.0 716.9v1.8M261.6 716.9v1.8M263.6 716.9v1.8M265.2 716.9v1.8M266.6 716.9v1.8M267.8 716.9v1.8M268.9 716.9v1.8M276.0 716.9v1.8M279.6 716.9v1.8M282.2 716.9v1.8M284.2 716.9v1.8M285.8 716.9v1.8M287.2 716.9v1.8M288.4 716.9v1.8M289.5 716.9v1.8M296.6 716.9v1.8M300.2 716.9v1.8M302.8 716.9v1.8M304.8 716.9v1.8M306.4 716.9v1.8M307.8 716.9v1.8M309.0 716.9v1.8M310.1 716.9v1.8M317.2 716.9v1.8M320.8 716.9v1.8M323.4 716.9v1.8M325.4 716.9v1.8M327.0 716.9v1.8M328.4 716.9v1.8M329.6 716.9v1.8M330.7 716.9v1.8M337.8 716.9v1.8M341.4 716.9v1.8M344.0 716.9v1.8M346.0 716.9v1.8M347.6 716.9v1.8M349.0 716.9v1.8M350.2 716.9v1.8M351.3 716.9v1.8M358.4 716.9v1.8" stroke="#000" stroke-width="0.8"/>
<line x1="302.70" y1="640.00" x2="302.70" y2="716.90" stroke="#000" stroke-width="0.9"/>
<line x1="256.50" y1="686.90" x2="302.70" y2="686.90" stroke="#000" stroke-width="0.9"/>
<line x1="302.70" y1="684.20" x2="361.50" y2="684.20" stroke="#000" stroke-width="0.9"/>
<text x="244.70" y="709.80" font-size="6.8" text-anchor="middle">10</text>
<text x="248.90" y="705.80" font-size="4.2">1</text>
<text x="244.70" y="694.60" font-size="6.8" text-anchor="middle">10</text>
<text x="248.90" y="690.60" font-size="4.2">2</text>
<text x="244.70" y="679.40" font-size="6.8" text-anchor="middle">10</text>
<text x="248.90" y="675.40" font-size="4.2">3</text>
<text x="244.70" y="664.20" font-size="6.8" text-anchor="middle">10</text>
<text x="248.90" y="660.20" font-size="4.2">4</text>
<text x="244.70" y="649.00" font-size="6.8" text-anchor="middle">10</text>
<text x="248.90" y="645.00" font-size="4.2">5</text>
<text x="268.60" y="729.80" font-size="6.8" text-anchor="middle">10</text>
<text x="272.40" y="725.20" font-size="4.2">1</text>
<text x="289.20" y="729.80" font-size="6.8" text-anchor="middle">10</text>
<text x="293.00" y="725.20" font-size="4.2">2</text>
<text x="309.80" y="729.80" font-size="6.8" text-anchor="middle">10</text>
<text x="313.60" y="725.20" font-size="4.2">3</text>
<text x="330.40" y="729.80" font-size="6.8" text-anchor="middle">10</text>
<text x="334.20" y="725.20" font-size="4.2">4</text>
<text x="351.00" y="729.80" font-size="6.8" text-anchor="middle">10</text>
<text x="354.80" y="725.20" font-size="4.2">5</text>
<text x="308.70" y="743.80" font-size="11" text-anchor="middle" textLength="61.3" lengthAdjust="spacingAndGlyphs">Annexin V-FITC</text>
<text x="234.50" y="678.30" font-size="11" text-anchor="middle" textLength="68" lengthAdjust="spacingAndGlyphs" transform="rotate(-90 234.5 678.3)">Propidium Iodide</text>
<text x="305.20" y="633.60" font-size="10" text-anchor="middle" font-weight="bold">XG1/EV</text>
<text x="257.70" y="644.60" font-size="5.2" font-weight="bold">UL</text>
<text x="257.30" y="652.10" font-size="6" font-weight="bold">0.37</text>
<text x="342.00" y="644.60" font-size="5.6" font-weight="bold" textLength="7.2" lengthAdjust="spacingAndGlyphs">UR</text>
<text x="342.20" y="652.10" font-size="6.2" font-weight="bold" textLength="11.4" lengthAdjust="spacingAndGlyphs">8.93</text>
<text x="348.40" y="707.80" font-size="5.6" font-weight="bold" textLength="6.6" lengthAdjust="spacingAndGlyphs">LR</text>
<text x="348.40" y="714.90" font-size="6.2" font-weight="bold" textLength="11.5" lengthAdjust="spacingAndGlyphs">8.99</text>
<text x="257.70" y="707.80" font-size="5.2" font-weight="bold">LL</text>
<text x="257.30" y="714.90" font-size="6" font-weight="bold">91.72</text>
<path d="M445.4 697.5h1.0M440.9 710.9h1.0M429.7 701.4h1.0M422.6 707.1h1.0M420.5 697.7h1.0M423.2 693.1h1.0M429.5 699.5h1.0M436.0 699.7h1.0M428.3 697.1h1.0M436.0 707.1h1.0M427.2 707.6h1.0M414.7 696.6h1.0M430.0 710.3h1.0M434.5 705.7h1.0M431.8 695.5h1.0M435.1 706.3h1.0M422.2 702.2h1.0M426.4 700.9h1.0M428.2 693.3h1.0M430.3 703.1h1.0M431.7 697.5h1.0M434.3 709.9h1.0M425.5 695.7h1.0M421.3 693.3h1.0M425.2 702.8h1.0M426.8 695.2h1.0M425.2 707.7h1.0M422.2 696.1h1.0M433.7 704.7h1.0M434.3 696.6h1.0M434.4 698.9h1.0M433.0 702.0h1.0M431.5 697.8h1.0M425.2 704.0h1.0M425.5 697.4h1.0M429.9 707.8h1.0M416.3 704.3h1.0M429.7 693.4h1.0M415.5 709.5h1.0M439.8 703.3h1.0M432.1 697.3h1.0M424.1 702.0h1.0M427.9 701.5h1.0M424.8 704.6h1.0M437.9 705.8h1.0M435.2 707.2h1.0M428.7 695.0h1.0M424.9 702.0h1.0M431.9 698.3h1.0M429.9 693.7h1.0M427.9 697.2h1.0M424.9 695.7h1.0M418.3 702.1h1.0M419.5 698.9h1.0M423.5 702.3h1.0M417.8 699.8h1.0M422.2 701.2h1.0M439.5 704.1h1.0M428.3 697.2h1.0M432.6 700.6h1.0M424.4 699.9h1.0M436.7 699.1h1.0M429.0 696.3h1.0M433.3 702.7h1.0M435.2 704.5h1.0M431.0 710.0h1.0M440.5 702.8h1.0M422.3 701.8h1.0M426.1 695.6h1.0M431.4 700.9h1.0M427.6 706.9h1.0M431.1 710.7h1.0M442.0 704.4h1.0M426.3 708.8h1.0M429.9 709.2h1.0M424.9 711.0h1.0M423.0 704.4h1.0M416.0 697.4h1.0M431.2 702.2h1.0M437.1 707.7h1.0M428.4 698.5h1.0M435.9 701.6h1.0M419.7 696.6h1.0M427.0 698.4h1.0M427.2 694.2h1.0M432.9 707.0h1.0M428.5 697.9h1.0M431.6 701.9h1.0M437.6 704.2h1.0M421.1 699.1h1.0M427.4 695.8h1.0M430.6 698.4h1.0M423.9 695.7h1.0M430.5 701.7h1.0M416.9 697.2h1.0M421.7 705.9h1.0M426.4 699.2h1.0M416.5 702.6h1.0M441.8 697.5h1.0M440.0 693.3h1.0M436.1 699.9h1.0M433.4 705.9h1.0M433.9 706.0h1.0M426.4 706.5h1.0M426.6 698.9h1.0M415.0 698.2h1.0M434.0 701.9h1.0M426.9 699.2h1.0M415.4 702.6h1.0M422.7 704.5h1.0M431.2 705.6h1.0M417.7 696.3h1.0M424.7 707.7h1.0M414.1 690.8h1.0M424.9 699.0h1.0M427.5 698.2h1.0M412.6 699.5h1.0M423.0 699.1h1.0M430.7 706.3h1.0M425.5 696.9h1.0M437.3 705.0h1.0M433.4 695.8h1.0M435.2 701.2h1.0M420.0 701.9h1.0M421.9 705.0h1.0M430.0 695.3h1.0M431.2 690.5h1.0M424.5 708.6h1.0M426.5 696.2h1.0M421.7 698.9h1.0M424.8 699.7h1.0M430.4 707.6h1.0M437.1 704.9h1.0M431.5 706.8h1.0M433.6 707.6h1.0M428.4 703.3h1.0M431.2 700.0h1.0M434.2 707.7h1.0M422.2 705.2h1.0M434.2 702.8h1.0M431.8 692.4h1.0M434.5 698.5h1.0M430.8 703.2h1.0M423.7 698.3h1.0M425.2 705.2h1.0M428.2 713.6h1.0M411.8 700.2h1.0M422.7 702.3h1.0M424.0 704.8h1.0M424.4 709.2h1.0M421.5 690.3h1.0M421.0 698.1h1.0M426.1 707.6h1.0M423.8 700.5h1.0M436.2 693.3h1.0M427.7 703.5h1.0M427.3 694.6h1.0M433.1 705.7h1.0M427.3 705.6h1.0M427.6 699.1h1.0M435.2 695.9h1.0M434.0 703.9h1.0M426.5 699.2h1.0M419.5 698.9h1.0M424.0 697.8h1.0M431.3 698.9h1.0M417.4 695.5h1.0M425.9 704.8h1.0M427.5 706.4h1.0M418.3 696.2h1.0M435.5 695.4h1.0M426.3 704.5h1.0M418.2 706.4h1.0M421.5 703.1h1.0M430.5 706.7h1.0M436.5 705.4h1.0M429.7 701.5h1.0M429.1 699.8h1.0M426.7 697.2h1.0M438.1 701.3h1.0M436.1 693.1h1.0M417.8 707.3h1.0M428.1 695.6h1.0M431.6 702.5h1.0M426.7 702.6h1.0M430.8 700.8h1.0M432.1 701.1h1.0M422.2 696.8h1.0M436.1 699.6h1.0M428.9 704.6h1.0M434.7 704.8h1.0M429.7 694.7h1.0M427.4 700.6h1.0M436.5 693.2h1.0M430.4 700.7h1.0M438.0 702.0h1.0M431.8 694.7h1.0M441.8 708.8h1.0M423.0 694.0h1.0M428.5 706.8h1.0M423.2 692.6h1.0M421.1 703.8h1.0M429.2 691.8h1.0M418.7 697.8h1.0M427.4 694.6h1.0M436.2 702.9h1.0M431.4 697.2h1.0M424.6 699.5h1.0M426.4 701.8h1.0M432.5 696.4h1.0M437.8 698.6h1.0M426.4 701.8h1.0M428.8 696.2h1.0M431.1 702.8h1.0M426.8 692.1h1.0M430.2 710.6h1.0M429.7 706.1h1.0M436.3 694.3h1.0M424.2 696.6h1.0M428.5 699.0h1.0M430.1 703.5h1.0M423.4 703.9h1.0M425.9 705.6h1.0M427.8 706.3h1.0M418.8 694.7h1.0M424.9 701.2h1.0M420.8 699.4h1.0M424.7 703.3h1.0M423.7 699.6h1.0M424.8 691.9h1.0M432.3 698.7h1.0M435.7 713.2h1.0M433.1 701.2h1.0M422.9 706.1h1.0M430.0 700.5h1.0M420.0 698.8h1.0M431.4 701.1h1.0M432.5 700.0h1.0M425.7 704.6h1.0M428.2 698.6h1.0M433.0 692.2h1.0M432.5 705.2h1.0M424.4 703.0h1.0M423.3 698.4h1.0M417.3 699.2h1.0M425.7 704.2h1.0M424.1 702.2h1.0M427.8 696.0h1.0M431.4 707.5h1.0M419.1 712.3h1.0M423.1 700.4h1.0M425.7 695.8h1.0M417.8 705.1h1.0M426.6 707.3h1.0M424.7 696.3h1.0M430.0 693.7h1.0M432.0 694.6h1.0M432.2 698.7h1.0M426.2 695.3h1.0M429.3 698.6h1.0M429.1 698.6h1.0M434.3 693.2h1.0M416.3 701.2h1.0M426.2 707.0h1.0M423.0 690.4h1.0M428.4 699.3h1.0M434.3 698.6h1.0M429.1 696.8h1.0M428.6 700.7h1.0M423.4 694.9h1.0M429.8 704.2h1.0M429.3 698.7h1.0M421.5 694.8h1.0M431.7 702.4h1.0M424.9 700.4h1.0M414.6 705.9h1.0M426.6 700.8h1.0M430.9 698.5h1.0M430.5 709.4h1.0M428.5 701.2h1.0M427.4 701.8h1.0M431.8 707.4h1.0M431.3 697.7h1.0M416.3 698.8h1.0M423.2 696.1h1.0M428.3 709.4h1.0M427.2 695.9h1.0M432.9 695.1h1.0M434.0 695.0h1.0M428.6 708.7h1.0M425.4 705.0h1.0M438.4 697.5h1.0M422.4 696.1h1.0M427.1 711.1h1.0M440.4 698.0h1.0M431.7 700.6h1.0M431.5 697.0h1.0M427.7 712.0h1.0M435.3 697.2h1.0M446.0 694.6h1.0M429.8 701.1h1.0M426.4 701.4h1.0M435.1 699.2h1.0M439.8 697.5h1.0M430.2 691.5h1.0M422.7 695.4h1.0M430.0 709.3h1.0M423.0 691.9h1.0M433.9 706.8h1.0M426.6 711.1h1.0M431.1 706.9h1.0M428.4 702.1h1.0M433.1 707.0h1.0M415.3 705.5h1.0M430.0 694.2h1.0M429.1 703.3h1.0M429.7 695.9h1.0M418.8 689.9h1.0M436.4 705.8h1.0M423.8 696.4h1.0M430.8 702.0h1.0M424.7 694.1h1.0M426.6 705.3h1.0M425.1 703.2h1.0M417.8 698.2h1.0M423.9 695.8h1.0M436.1 697.6h1.0M420.8 700.7h1.0M428.7 697.4h1.0M416.9 694.7h1.0M434.7 703.7h1.0M419.3 701.5h1.0M420.7 704.8h1.0M426.9 704.6h1.0M431.3 695.0h1.0M419.7 700.4h1.0M427.3 696.1h1.0M431.3 694.1h1.0M428.0 701.1h1.0M423.1 698.8h1.0M430.7 702.7h1.0M434.9 698.9h1.0M442.5 704.8h1.0M436.0 700.3h1.0M417.3 700.9h1.0M436.1 706.1h1.0M434.5 709.3h1.0M429.9 698.9h1.0M432.4 691.2h1.0M435.1 693.6h1.0M426.4 706.3h1.0M420.3 708.4h1.0M426.4 704.6h1.0M432.2 708.1h1.0M424.5 698.7h1.0M423.9 697.8h1.0M420.1 706.3h1.0M431.4 704.6h1.0M421.3 702.9h1.0M426.7 703.6h1.0M423.5 700.3h1.0M436.3 693.4h1.0M434.4 706.7h1.0M442.6 703.1h1.0M423.7 697.0h1.0M421.9 698.0h1.0M429.7 705.1h1.0M419.4 697.0h1.0M424.9 695.2h1.0M432.4 703.0h1.0M428.4 704.9h1.0M433.5 705.7h1.0M423.4 704.5h1.0M425.1 702.1h1.0M427.2 699.9h1.0M433.4 692.2h1.0M435.1 700.7h1.0M435.7 698.5h1.0M428.8 708.8h1.0M423.5 698.2h1.0M425.5 702.2h1.0M428.1 704.7h1.0M418.4 694.8h1.0M422.2 694.9h1.0M417.1 706.1h1.0M429.9 706.8h1.0M429.5 693.0h1.0M422.3 700.8h1.0M434.1 707.8h1.0M428.7 697.1h1.0M427.3 701.0h1.0M432.3 701.7h1.0M430.2 699.3h1.0M421.4 697.8h1.0M423.9 687.8h1.0M419.1 694.7h1.0M431.9 699.3h1.0M427.4 701.6h1.0M433.8 709.6h1.0M423.6 712.1h1.0M420.6 706.8h1.0M435.1 702.2h1.0M433.3 695.9h1.0M418.9 699.2h1.0M434.7 706.4h1.0M423.6 699.8h1.0M437.6 702.7h1.0M431.2 707.1h1.0M424.2 696.1h1.0M426.6 697.3h1.0M427.0 707.9h1.0M409.5 702.1h1.0M432.3 705.7h1.0M426.1 702.0h1.0M432.8 696.4h1.0M410.3 705.9h1.0M432.6 699.4h1.0M428.2 703.4h1.0M421.0 703.2h1.0M440.5 704.1h1.0M433.3 695.9h1.0M422.2 702.9h1.0M423.0 694.5h1.0M431.8 702.8h1.0M439.3 699.9h1.0M431.4 708.4h1.0M425.4 697.9h1.0M439.5 701.1h1.0M424.4 699.9h1.0M436.4 692.4h1.0M432.4 700.1h1.0M427.3 700.6h1.0M424.3 696.9h1.0M424.5 699.8h1.0M428.0 702.1h1.0M436.8 703.3h1.0M427.7 703.4h1.0M422.6 705.5h1.0M436.6 706.9h1.0M434.6 700.0h1.0M428.7 702.4h1.0M436.0 701.3h1.0M429.4 698.7h1.0M439.7 699.3h1.0M427.5 695.6h1.0M423.5 701.4h1.0M425.4 705.1h1.0M428.9 698.9h1.0M429.1 698.6h1.0M424.6 696.2h1.0M424.9 694.3h1.0M419.9 695.0h1.0M424.7 701.4h1.0M438.4 693.6h1.0M426.9 708.3h1.0M421.9 704.1h1.0M423.9 700.7h1.0M423.2 697.5h1.0M427.3 705.0h1.0M422.7 698.8h1.0M435.4 710.5h1.0M422.8 699.7h1.0M426.4 702.8h1.0M437.2 697.5h1.0M427.8 705.9h1.0M436.0 703.7h1.0M426.8 703.1h1.0M433.0 709.1h1.0M441.7 697.7h1.0M422.2 691.7h1.0M431.3 691.7h1.0M421.1 697.0h1.0M427.8 699.1h1.0M423.8 698.7h1.0M428.8 703.2h1.0M420.4 705.4h1.0M414.6 696.4h1.0M431.7 706.9h1.0M428.7 698.3h1.0M436.2 696.8h1.0M429.3 704.4h1.0M428.6 705.0h1.0M422.5 703.7h1.0M419.3 695.5h1.0M428.9 707.5h1.0M420.6 702.3h1.0M436.8 697.9h1.0M437.0 701.8h1.0M431.4 702.1h1.0M435.7 701.3h1.0M427.5 698.1h1.0M424.6 708.6h1.0M443.3 699.7h1.0M426.5 702.6h1.0M436.1 701.3h1.0M422.9 701.8h1.0M430.6 693.5h1.0M433.4 710.8h1.0M417.3 707.2h1.0M418.4 700.0h1.0M423.5 706.0h1.0M425.7 701.2h1.0M428.3 704.8h1.0M423.1 700.1h1.0M423.2 693.3h1.0M421.3 697.7h1.0M421.4 697.8h1.0M430.3 697.9h1.0M424.6 691.2h1.0M421.0 699.3h1.0M420.4 703.1h1.0M422.8 702.3h1.0M417.6 696.4h1.0M429.2 708.8h1.0M430.5 700.1h1.0M419.4 702.0h1.0M424.4 699.7h1.0M425.6 696.9h1.0M433.0 701.9h1.0M423.2 696.1h1.0M425.7 695.5h1.0M421.3 691.6h1.0M421.7 701.2h1.0M423.6 703.4h1.0M448.9 702.2h1.0M435.1 699.6h1.0M430.2 700.0h1.0M429.7 704.9h1.0M418.1 697.8h1.0M421.7 700.1h1.0M432.8 702.9h1.0M428.1 700.3h1.0M435.0 702.9h1.0M428.0 704.0h1.0M431.5 699.8h1.0M428.7 709.9h1.0M431.4 698.0h1.0M430.4 701.1h1.0M435.0 702.6h1.0M424.7 700.5h1.0M426.6 695.5h1.0M423.6 700.7h1.0M427.9 696.4h1.0M430.9 700.4h1.0M428.5 703.4h1.0M415.5 703.5h1.0M423.5 700.5h1.0M424.5 698.4h1.0M425.9 710.7h1.0M423.9 700.1h1.0M425.6 709.2h1.0M433.8 697.7h1.0M431.8 702.3h1.0M437.1 709.0h1.0M417.6 696.0h1.0M421.3 694.9h1.0M419.9 704.8h1.0M434.4 708.8h1.0M432.5 705.1h1.0M424.3 702.7h1.0M424.5 698.2h1.0M429.7 702.7h1.0M436.4 705.6h1.0M437.9 699.9h1.0M423.9 693.1h1.0M433.8 706.5h1.0M426.8 695.4h1.0M438.3 695.4h1.0M444.7 700.0h1.0M431.6 706.3h1.0M432.0 695.2h1.0M411.5 699.9h1.0M431.7 709.8h1.0M417.0 702.0h1.0M424.2 699.6h1.0M433.6 697.6h1.0M417.8 692.9h1.0M443.2 708.5h1.0M424.5 694.4h1.0M433.1 701.9h1.0M424.5 705.2h1.0M432.5 698.5h1.0M424.3 699.7h1.0M427.7 705.6h1.0M413.0 700.4h1.0M434.2 707.0h1.0M432.4 706.5h1.0M425.8 707.7h1.0M426.0 694.1h1.0M421.0 701.8h1.0M423.2 700.9h1.0M429.5 700.1h1.0M429.9 693.1h1.0M432.7 700.5h1.0M435.5 707.3h1.0M434.4 705.8h1.0M430.6 697.8h1.0M430.2 700.6h1.0M426.7 700.3h1.0M436.0 705.2h1.0M423.3 697.4h1.0M422.9 697.5h1.0M430.2 694.5h1.0M418.8 703.9h1.0M426.0 709.5h1.0M418.2 702.0h1.0M422.5 703.3h1.0M450.6 706.3h1.0M417.4 694.9h1.0M434.4 704.2h1.0M424.2 707.7h1.0M420.6 705.2h1.0M418.4 699.3h1.0M431.9 697.7h1.0M425.5 697.6h1.0M428.1 706.4h1.0M438.6 698.9h1.0M419.2 700.8h1.0M414.2 701.0h1.0M428.8 699.7h1.0M436.8 697.3h1.0M429.0 703.0h1.0M437.1 698.1h1.0M435.3 699.5h1.0M430.3 706.4h1.0M423.2 703.9h1.0M429.0 691.0h1.0M435.5 696.3h1.0M431.3 704.7h1.0M428.0 696.7h1.0M430.6 704.9h1.0M428.1 705.8h1.0M433.5 706.2h1.0M426.7 709.0h1.0M438.7 695.8h1.0M430.7 697.1h1.0M429.4 698.8h1.0M416.7 698.0h1.0M414.3 704.4h1.0M427.0 703.1h1.0M425.3 697.0h1.0M440.6 699.9h1.0M423.4 695.1h1.0M421.9 698.9h1.0M433.3 695.2h1.0M415.0 708.9h1.0M428.6 704.9h1.0M419.7 698.9h1.0M410.1 699.1h1.0M416.4 703.9h1.0M427.0 701.0h1.0M427.9 707.0h1.0M426.2 701.8h1.0M422.0 711.4h1.0M428.2 704.3h1.0M429.6 696.1h1.0M428.2 696.4h1.0M438.3 699.4h1.0M434.1 709.8h1.0M421.8 699.2h1.0M423.6 705.1h1.0M421.7 694.0h1.0M428.7 703.7h1.0M434.4 696.6h1.0M437.9 699.7h1.0M428.9 701.2h1.0M423.8 694.3h1.0M420.9 711.5h1.0M417.2 695.1h1.0M438.9 699.6h1.0M425.6 708.9h1.0M424.5 705.2h1.0M439.7 690.6h1.0M423.7 702.7h1.0M427.2 706.1h1.0M430.6 696.6h1.0M416.0 700.3h1.0M419.2 697.0h1.0M448.9 699.2h1.0M430.3 709.4h1.0M415.2 704.8h1.0M424.2 697.0h1.0M427.3 695.4h1.0M431.9 705.0h1.0M427.3 702.2h1.0M420.4 699.1h1.0M428.0 702.3h1.0M435.2 695.6h1.0M424.1 697.4h1.0M420.5 697.2h1.0M420.9 706.5h1.0M413.1 700.0h1.0M436.0 697.1h1.0M430.1 697.9h1.0M427.4 706.3h1.0M429.1 703.0h1.0M436.1 699.4h1.0M425.6 699.4h1.0M419.4 704.1h1.0M435.1 700.4h1.0M413.2 699.0h1.0M425.7 697.9h1.0M435.6 690.4h1.0M437.9 704.8h1.0M427.5 700.5h1.0M427.5 705.1h1.0M426.3 699.5h1.0M427.3 704.0h1.0M437.0 700.2h1.0M431.2 698.0h1.0M439.1 698.3h1.0M431.7 699.8h1.0M425.7 701.3h1.0M426.3 709.3h1.0M442.2 704.0h1.0M424.1 698.3h1.0M434.7 706.4h1.0M421.8 696.5h1.0M431.6 704.8h1.0M425.7 702.2h1.0M425.2 698.5h1.0M422.5 702.9h1.0M423.2 706.2h1.0M429.0 704.3h1.0M437.0 693.1h1.0M430.6 693.2h1.0M422.3 700.2h1.0M430.9 700.0h1.0M411.8 693.2h1.0M427.5 704.6h1.0M442.6 704.5h1.0M412.4 705.7h1.0M425.9 702.3h1.0M434.4 709.7h1.0M440.2 699.0h1.0M436.2 699.9h1.0M425.2 704.0h1.0M438.8 703.7h1.0M438.3 694.7h1.0M425.9 697.3h1.0M428.6 703.9h1.0M422.3 701.3h1.0M426.1 697.6h1.0M437.1 700.4h1.0M420.5 699.9h1.0M435.9 700.7h1.0M430.4 703.4h1.0M430.5 704.4h1.0M424.2 697.2h1.0M433.1 712.3h1.0M427.2 702.5h1.0M426.9 700.4h1.0M417.7 709.2h1.0M428.3 701.2h1.0M425.6 695.5h1.0M433.7 695.4h1.0M428.9 698.4h1.0M427.6 698.1h1.0M424.6 692.7h1.0M424.1 699.0h1.0M423.3 696.7h1.0M432.6 707.4h1.0M418.5 702.5h1.0M418.4 696.4h1.0M429.7 706.0h1.0M437.3 700.9h1.0M430.1 691.9h1.0M426.8 700.9h1.0M441.7 708.8h1.0M430.0 701.6h1.0M424.2 697.9h1.0M429.1 701.5h1.0M434.5 698.8h1.0M425.4 703.7h1.0M433.1 702.8h1.0M425.6 699.4h1.0M428.8 705.0h1.0M429.9 709.2h1.0M411.8 701.5h1.0M435.9 707.8h1.0M431.6 705.3h1.0M430.6 700.5h1.0M428.9 701.5h1.0M426.1 708.0h1.0M436.4 703.7h1.0M427.6 705.7h1.0M433.3 694.3h1.0M416.5 704.0h1.0M440.5 694.0h1.0M429.0 710.5h1.0M429.4 702.8h1.0M420.9 704.9h1.0M421.7 697.7h1.0M430.2 701.1h1.0M435.6 697.3h1.0M422.5 701.8h1.0M422.1 699.2h1.0M427.5 699.8h1.0M439.7 701.3h1.0M428.7 707.7h1.0M434.4 706.4h1.0M419.1 709.5h1.0M423.3 699.8h1.0M433.0 698.9h1.0M419.7 701.8h1.0M410.0 703.5h1.0M422.7 694.3h1.0M424.7 704.1h1.0M425.7 699.8h1.0M431.8 703.9h1.0M431.3 703.1h1.0M424.3 699.8h1.0M430.8 697.9h1.0M426.4 700.0h1.0M428.0 706.5h1.0M421.0 692.7h1.0M431.5 702.4h1.0M425.1 700.4h1.0M435.3 700.9h1.0M418.1 701.5h1.0M434.6 703.8h1.0M419.6 700.7h1.0M430.1 707.6h1.0M420.1 699.3h1.0M421.4 711.0h1.0M432.0 692.7h1.0M416.7 708.0h1.0M433.3 700.0h1.0M441.1 696.5h1.0M432.0 697.3h1.0M417.3 698.1h1.0M431.6 702.3h1.0M426.8 700.8h1.0M428.5 707.4h1.0M427.3 700.5h1.0M434.4 700.3h1.0M438.6 700.4h1.0M429.7 703.9h1.0M436.8 702.1h1.0M424.5 708.2h1.0M443.1 699.7h1.0M421.4 699.0h1.0M420.6 698.4h1.0M425.3 697.2h1.0M433.0 699.5h1.0M434.2 697.3h1.0M417.5 689.8h1.0M429.3 692.9h1.0M430.4 695.7h1.0M444.5 689.7h1.0M425.8 696.6h1.0M418.7 702.8h1.0M416.9 701.1h1.0M426.5 692.7h1.0M431.2 693.5h1.0M429.3 697.9h1.0M427.3 696.6h1.0M422.7 702.7h1.0M427.6 700.9h1.0M428.1 701.5h1.0M444.4 700.3h1.0M427.2 704.7h1.0M420.7 700.8h1.0M424.8 712.6h1.0M426.3 704.0h1.0M413.9 700.5h1.0M427.5 699.7h1.0M428.9 698.1h1.0M428.6 696.0h1.0M421.1 701.2h1.0M426.0 703.1h1.0M429.5 708.3h1.0M433.1 702.7h1.0M429.7 705.4h1.0M419.1 701.8h1.0M432.3 700.3h1.0M437.9 704.3h1.0M426.1 703.7h1.0M410.8 698.6h1.0M433.3 700.2h1.0M434.7 700.9h1.0M428.1 691.3h1.0M425.2 702.3h1.0M435.5 694.8h1.0M433.4 712.4h1.0M428.0 700.4h1.0M427.0 702.3h1.0M429.4 702.9h1.0M434.9 693.4h1.0M429.0 708.5h1.0M420.4 697.7h1.0M424.1 706.2h1.0M429.2 707.7h1.0M430.6 705.9h1.0M424.4 687.3h1.0M433.0 696.2h1.0M424.0 698.8h1.0M434.5 695.7h1.0M439.1 701.9h1.0M433.5 709.2h1.0M428.7 707.3h1.0M431.8 699.6h1.0M414.0 695.0h1.0M437.5 705.7h1.0M422.2 704.4h1.0M421.3 699.5h1.0M424.9 696.9h1.0M421.2 708.3h1.0M427.2 709.5h1.0M425.4 707.3h1.0M426.8 705.1h1.0M434.8 699.8h1.0M429.8 702.8h1.0M423.2 695.7h1.0M425.8 708.7h1.0M421.6 695.6h1.0M433.6 697.9h1.0M419.8 699.3h1.0M424.3 700.2h1.0M437.7 709.0h1.0M425.0 705.0h1.0M428.0 697.5h1.0M430.3 703.0h1.0M416.3 701.8h1.0M428.3 708.5h1.0M433.4 693.8h1.0M428.2 698.6h1.0M430.9 696.5h1.0M421.2 701.7h1.0M427.4 705.6h1.0M425.0 700.1h1.0M427.1 711.8h1.0M418.4 695.9h1.0M423.0 701.6h1.0M430.2 698.2h1.0M422.9 694.1h1.0M430.5 699.3h1.0M437.0 702.2h1.0M428.8 698.0h1.0M427.7 698.0h1.0M431.1 701.2h1.0M421.3 697.4h1.0M423.8 705.4h1.0M420.2 703.6h1.0M421.7 701.1h1.0M438.2 707.0h1.0M422.2 690.0h1.0M427.2 696.5h1.0M425.0 707.2h1.0M424.4 696.6h1.0M425.3 705.7h1.0M425.8 703.2h1.0M429.4 701.9h1.0M425.3 700.1h1.0M429.8 695.7h1.0M426.2 693.8h1.0M425.3 692.6h1.0M426.0 703.2h1.0M438.2 701.8h1.0M419.6 702.1h1.0M426.3 695.6h1.0M431.7 701.7h1.0M430.8 706.7h1.0M421.0 697.0h1.0M420.3 698.2h1.0M426.9 699.3h1.0M434.7 711.7h1.0M432.0 706.9h1.0M426.9 710.5h1.0M425.1 713.8h1.0M425.9 699.8h1.0M426.3 702.6h1.0M418.4 688.9h1.0M418.5 701.0h1.0M426.8 698.5h1.0M439.4 702.2h1.0M428.8 701.7h1.0M416.2 689.7h1.0M420.3 702.1h1.0M426.8 698.8h1.0M421.0 694.3h1.0M428.8 698.0h1.0M422.7 704.4h1.0M422.3 697.2h1.0M418.9 707.0h1.0M430.0 703.5h1.0M429.4 700.8h1.0M429.8 696.3h1.0M431.6 696.7h1.0M426.5 706.0h1.0M435.0 701.1h1.0M420.9 701.3h1.0M432.1 702.2h1.0M424.8 704.5h1.0M424.4 704.0h1.0M423.1 698.5h1.0M431.0 702.3h1.0M428.7 699.8h1.0M434.4 703.7h1.0M421.8 692.8h1.0M428.9 699.6h1.0M421.6 706.5h1.0M430.9 694.6h1.0M436.6 697.9h1.0M421.7 701.1h1.0M434.6 695.1h1.0M421.3 700.4h1.0M437.1 702.6h1.0M428.7 704.3h1.0M431.3 701.6h1.0M420.9 701.4h1.0M438.0 699.1h1.0M427.2 701.7h1.0M424.9 701.6h1.0M434.0 703.3h1.0M423.0 703.8h1.0M426.1 704.1h1.0M425.5 703.7h1.0M422.9 701.5h1.0M434.7 701.5h1.0M438.5 698.9h1.0M421.9 703.4h1.0M437.8 707.3h1.0M434.8 698.8h1.0M425.6 703.5h1.0M432.0 700.3h1.0M440.5 700.7h1.0M423.9 695.4h1.0M424.4 699.1h1.0M421.7 703.2h1.0M441.1 704.0h1.0M434.4 705.2h1.0M423.0 697.0h1.0M427.1 689.8h1.0M432.2 704.4h1.0M426.4 700.3h1.0M435.4 704.5h1.0M428.5 709.6h1.0M436.0 706.4h1.0M430.3 690.5h1.0M429.5 698.3h1.0M424.4 698.7h1.0M430.3 708.6h1.0M433.4 697.3h1.0M418.4 698.2h1.0M431.8 706.2h1.0M436.4 692.4h1.0M434.1 698.2h1.0M430.9 693.9h1.0M427.2 695.1h1.0M421.7 702.3h1.0M422.8 700.3h1.0M426.2 699.7h1.0M421.8 699.7h1.0M429.1 698.4h1.0M425.4 700.0h1.0M426.6 702.9h1.0M436.2 697.3h1.0M429.8 701.4h1.0M432.9 698.6h1.0M417.9 704.4h1.0M432.2 706.9h1.0M423.5 703.5h1.0M438.6 706.5h1.0M419.3 697.7h1.0M423.8 698.8h1.0M433.7 702.2h1.0M441.5 700.3h1.0M419.5 703.1h1.0M427.2 699.9h1.0M424.0 694.3h1.0M438.7 696.7h1.0M441.5 703.1h1.0M430.6 712.6h1.0M434.6 701.9h1.0M425.0 693.1h1.0M421.9 701.6h1.0M432.2 697.7h1.0M426.2 694.2h1.0M433.7 714.1h1.0M427.2 712.5h1.0M437.1 701.3h1.0M428.0 700.6h1.0M428.9 699.5h1.0M434.9 705.4h1.0M430.0 705.1h1.0M437.4 706.9h1.0M425.2 695.3h1.0M423.1 699.2h1.0M434.4 705.3h1.0M431.9 701.9h1.0M425.2 693.4h1.0M421.9 700.5h1.0M424.5 705.5h1.0M428.4 690.4h1.0M427.1 708.4h1.0M421.8 699.7h1.0M423.2 707.8h1.0M431.9 705.9h1.0M435.4 703.3h1.0M437.9 701.2h1.0M423.7 699.8h1.0M421.7 697.1h1.0M431.9 701.9h1.0M426.4 702.5h1.0M433.1 693.9h1.0M434.0 698.3h1.0M425.9 689.1h1.0M427.4 693.1h1.0M418.4 696.2h1.0M418.6 702.4h1.0M432.5 701.1h1.0M440.9 702.2h1.0M417.7 697.7h1.0M419.2 694.6h1.0M425.0 704.6h1.0M432.4 704.5h1.0M416.5 694.2h1.0M428.1 699.2h1.0M436.3 703.1h1.0M413.9 694.4h1.0M420.7 696.2h1.0M432.2 703.2h1.0M434.7 701.8h1.0M422.8 705.1h1.0M433.3 699.7h1.0M433.7 704.3h1.0M419.3 702.7h1.0M427.2 710.1h1.0M424.3 696.9h1.0M426.0 700.5h1.0M429.2 696.2h1.0M421.0 703.4h1.0M416.2 703.6h1.0M419.2 708.5h1.0M419.7 699.4h1.0M426.5 705.1h1.0M433.5 702.6h1.0M424.5 709.1h1.0M423.4 701.0h1.0M424.6 700.0h1.0M432.4 705.7h1.0M426.9 700.7h1.0M428.0 697.8h1.0M423.6 692.2h1.0M427.5 703.5h1.0M425.3 707.1h1.0M434.8 702.4h1.0M428.1 706.2h1.0M435.2 699.9h1.0M430.5 705.1h1.0M429.4 705.6h1.0M417.0 698.5h1.0M426.5 694.4h1.0M421.9 699.5h1.0M433.9 701.8h1.0M429.9 704.9h1.0M430.2 692.0h1.0M426.7 708.3h1.0M436.1 704.7h1.0M415.3 699.0h1.0M432.1 696.3h1.0M425.2 697.9h1.0M421.4 702.7h1.0M423.2 702.8h1.0M427.3 702.8h1.0M429.4 693.5h1.0M434.4 699.3h1.0M423.4 700.6h1.0M423.0 699.7h1.0M434.0 698.5h1.0M434.6 702.3h1.0M421.2 706.5h1.0M423.2 694.5h1.0M429.5 707.2h1.0M425.7 696.2h1.0M431.8 696.8h1.0M422.8 695.8h1.0M423.5 704.6h1.0M446.6 704.8h1.0M434.6 706.8h1.0M437.7 698.0h1.0M430.2 695.5h1.0M423.7 711.0h1.0M435.2 704.3h1.0M437.4 689.8h1.0M426.6 695.9h1.0M426.1 701.2h1.0M431.3 708.4h1.0M427.2 710.2h1.0M418.3 695.2h1.0M432.1 704.7h1.0M432.8 700.5h1.0M416.6 698.8h1.0M439.0 699.9h1.0M420.6 694.6h1.0M419.9 696.1h1.0M421.9 698.9h1.0M427.4 703.3h1.0M427.0 694.2h1.0M416.8 707.3h1.0M428.2 699.3h1.0M430.2 705.1h1.0M423.1 696.0h1.0M412.7 694.2h1.0M420.2 705.9h1.0M422.9 703.5h1.0M432.1 691.9h1.0M424.3 703.2h1.0M430.2 693.3h1.0M445.4 704.5h1.0M427.4 704.8h1.0M426.1 700.9h1.0M433.1 699.8h1.0M435.4 700.7h1.0M436.0 701.3h1.0M427.7 697.0h1.0M419.4 702.5h1.0M415.3 697.1h1.0M421.8 692.1h1.0M425.2 702.3h1.0M419.6 709.1h1.0M417.8 705.4h1.0M425.1 700.0h1.0M424.3 697.2h1.0M423.5 698.2h1.0M438.8 708.4h1.0M433.2 705.1h1.0M418.8 696.2h1.0M433.1 702.6h1.0M426.2 708.2h1.0M422.0 701.0h1.0M423.4 701.4h1.0M444.3 699.6h1.0M426.3 692.8h1.0M421.3 704.9h1.0M426.0 704.1h1.0M431.8 704.9h1.0M427.9 707.3h1.0M425.7 700.6h1.0M421.0 698.6h1.0M422.7 702.9h1.0M418.2 694.5h1.0M427.1 691.6h1.0M430.3 699.5h1.0M430.0 698.2h1.0M426.7 696.7h1.0M435.7 702.2h1.0M429.8 704.8h1.0M431.0 698.2h1.0M420.3 690.8h1.0M424.8 692.6h1.0M424.3 696.4h1.0M434.2 700.5h1.0M426.5 700.9h1.0M426.2 703.4h1.0M425.8 710.9h1.0M437.2 697.0h1.0M423.8 705.8h1.0M422.4 699.8h1.0M428.9 702.0h1.0M426.9 699.5h1.0M436.3 707.0h1.0M434.9 705.8h1.0M429.6 708.6h1.0M426.6 711.3h1.0M427.8 694.8h1.0M436.4 701.5h1.0M430.4 705.9h1.0M431.8 706.6h1.0M412.2 702.9h1.0M420.3 697.5h1.0M426.6 711.3h1.0M431.7 697.4h1.0M431.8 706.4h1.0M428.3 699.5h1.0M416.2 699.3h1.0M428.2 705.8h1.0M422.3 697.1h1.0M413.5 704.3h1.0M421.6 701.5h1.0M424.7 696.2h1.0M428.6 701.2h1.0M432.3 703.0h1.0M428.5 704.8h1.0M427.4 706.8h1.0M424.1 694.5h1.0M427.3 697.6h1.0M420.2 697.2h1.0M432.0 694.8h1.0M427.5 710.8h1.0M434.2 699.6h1.0M431.2 700.1h1.0M425.1 699.1h1.0M427.0 697.0h1.0M427.3 705.7h1.0M427.9 702.0h1.0M411.1 696.8h1.0M473.3 675.5h1.0M476.7 672.1h1.0M476.3 669.5h1.0M479.0 670.9h1.0M480.9 668.8h1.0M472.3 671.1h1.0M470.0 675.6h1.0M472.5 673.6h1.0M475.4 671.3h1.0M471.8 670.8h1.0M476.2 672.0h1.0M468.8 676.0h1.0M474.5 673.2h1.0M476.3 672.0h1.0M470.6 673.5h1.0M478.4 673.7h1.0M482.6 671.7h1.0M459.8 676.1h1.0M470.8 669.1h1.0M473.7 673.6h1.0M478.4 671.5h1.0M469.8 673.3h1.0M475.4 674.0h1.0M481.5 668.9h1.0M476.1 672.3h1.0M472.0 673.0h1.0M471.8 670.1h1.0M475.8 671.4h1.0M476.8 671.8h1.0M476.5 673.7h1.0M474.7 673.1h1.0M464.2 674.7h1.0M470.6 674.5h1.0M473.1 668.6h1.0M475.4 671.1h1.0M477.2 670.0h1.0M471.5 673.8h1.0M478.0 674.5h1.0M482.1 671.6h1.0M477.0 673.3h1.0M478.4 672.7h1.0M472.5 675.7h1.0M469.7 671.3h1.0M476.9 672.5h1.0M476.4 670.1h1.0M479.6 670.0h1.0M472.9 673.9h1.0M469.5 675.0h1.0M469.6 673.2h1.0M475.6 673.9h1.0M464.9 674.6h1.0M480.7 670.4h1.0M472.3 672.8h1.0M474.3 672.4h1.0M473.0 674.7h1.0M481.9 672.3h1.0M467.9 673.1h1.0M477.8 671.0h1.0M476.3 670.8h1.0M480.0 671.8h1.0M478.5 671.8h1.0M469.2 674.4h1.0M466.5 672.2h1.0M463.8 675.4h1.0M472.7 671.5h1.0M476.5 669.8h1.0M474.9 672.2h1.0M472.2 672.1h1.0M476.6 672.6h1.0M467.3 674.9h1.0M480.3 670.7h1.0M481.3 671.4h1.0M480.1 671.3h1.0M477.7 671.3h1.0M482.7 668.6h1.0M467.3 675.8h1.0M469.1 675.2h1.0M474.3 674.1h1.0M474.2 670.5h1.0M472.6 670.9h1.0M476.7 672.0h1.0M472.7 674.2h1.0M482.1 670.3h1.0M474.5 674.2h1.0M462.7 673.3h1.0M472.1 673.8h1.0M470.7 669.7h1.0M467.1 672.6h1.0M478.8 669.2h1.0M469.4 674.6h1.0M465.1 673.5h1.0M472.1 672.8h1.0M483.1 671.6h1.0M474.4 671.1h1.0M483.4 671.6h1.0M477.5 669.7h1.0M483.2 672.4h1.0M477.6 669.6h1.0M477.2 669.4h1.0M459.7 676.7h1.0M467.4 676.5h1.0M467.3 670.8h1.0M472.6 674.5h1.0M478.8 673.3h1.0M477.7 672.1h1.0M477.0 669.0h1.0M464.6 672.8h1.0M469.0 674.5h1.0M473.0 668.5h1.0M476.5 673.7h1.0M474.7 675.4h1.0M469.5 671.0h1.0M466.7 672.0h1.0M478.7 672.4h1.0M469.0 672.3h1.0M473.1 673.8h1.0M474.0 671.5h1.0M476.2 670.8h1.0M470.2 673.0h1.0M468.0 675.0h1.0M473.0 673.7h1.0M469.6 673.3h1.0M474.7 674.7h1.0M466.5 677.0h1.0M472.0 674.3h1.0M467.7 671.3h1.0M484.6 668.5h1.0M465.1 674.2h1.0M471.4 673.9h1.0M472.4 675.2h1.0M471.2 671.9h1.0M467.7 676.2h1.0M469.3 671.3h1.0M473.1 673.2h1.0M481.3 669.7h1.0M480.5 670.2h1.0M483.1 672.3h1.0M471.8 672.2h1.0M475.3 672.2h1.0M480.9 673.8h1.0M477.3 672.0h1.0M475.7 669.4h1.0M475.2 670.0h1.0M478.9 670.2h1.0M472.0 673.3h1.0M476.2 672.3h1.0M470.7 670.0h1.0M478.4 669.1h1.0M477.4 669.1h1.0M474.6 672.1h1.0M468.1 674.5h1.0M474.0 671.9h1.0M482.5 671.1h1.0M471.8 672.5h1.0M476.1 671.9h1.0M465.9 677.1h1.0M469.2 675.0h1.0M474.3 671.3h1.0M478.8 670.5h1.0M478.4 673.3h1.0M471.4 672.9h1.0M483.7 668.6h1.0M460.7 676.5h1.0M467.0 671.8h1.0M479.6 671.3h1.0M480.7 669.7h1.0M482.9 670.7h1.0M470.1 677.4h1.0M467.4 674.5h1.0M467.1 672.1h1.0M469.5 670.3h1.0M476.4 672.0h1.0M472.3 672.3h1.0M472.3 670.3h1.0M477.3 670.5h1.0M473.2 672.5h1.0M475.1 670.0h1.0M481.6 670.1h1.0M470.8 674.0h1.0M474.7 670.8h1.0M470.5 675.7h1.0M477.9 669.7h1.0M468.5 671.6h1.0M469.6 675.4h1.0M477.5 670.6h1.0M464.2 673.4h1.0M483.3 668.3h1.0M477.4 672.3h1.0M473.4 671.3h1.0M472.5 671.8h1.0M476.8 668.3h1.0M476.3 669.2h1.0M469.4 672.7h1.0M475.0 669.4h1.0M470.0 672.4h1.0M471.7 674.9h1.0M474.2 672.4h1.0M474.7 674.1h1.0M472.8 670.8h1.0M473.8 673.4h1.0M472.3 671.9h1.0M472.8 674.0h1.0M482.0 668.2h1.0M481.4 670.6h1.0M469.9 675.1h1.0M463.6 675.3h1.0M478.4 671.7h1.0M483.5 669.4h1.0M473.3 668.1h1.0M476.3 670.1h1.0M474.6 670.7h1.0M476.1 673.5h1.0M472.0 673.0h1.0M474.4 670.3h1.0M473.3 674.2h1.0M473.1 673.3h1.0M475.3 669.0h1.0M467.7 676.3h1.0M480.0 671.5h1.0M475.0 677.3h1.0M475.5 673.9h1.0M471.0 670.1h1.0M464.6 676.8h1.0M473.9 672.7h1.0M472.2 672.0h1.0M462.5 675.8h1.0M480.2 671.9h1.0M481.9 669.6h1.0M473.0 670.8h1.0M476.8 672.8h1.0M481.8 671.0h1.0M477.5 669.2h1.0M460.4 678.2h1.0M480.5 670.2h1.0M465.3 678.0h1.0M472.1 675.5h1.0M482.1 670.0h1.0M470.4 674.7h1.0M466.9 672.2h1.0M473.7 672.7h1.0M472.8 669.1h1.0M463.8 672.8h1.0M481.5 670.3h1.0M474.1 673.4h1.0M473.4 674.0h1.0M474.5 674.3h1.0M474.7 674.0h1.0M480.8 669.7h1.0M473.2 672.3h1.0M471.1 671.8h1.0M476.5 671.7h1.0M475.6 668.6h1.0M477.5 669.9h1.0M469.9 676.0h1.0M476.5 672.0h1.0M477.0 670.3h1.0M469.2 674.8h1.0M476.8 672.1h1.0M474.1 672.2h1.0M481.2 669.8h1.0M459.1 696.9h1.0M465.2 695.5h1.0M466.0 693.1h1.0M465.5 692.1h1.0M474.4 694.4h1.0M465.5 686.5h1.0M467.3 697.0h1.0M473.2 692.8h1.0M470.6 700.7h1.0M453.0 687.8h1.0M464.9 693.6h1.0M459.1 697.9h1.0M460.7 697.6h1.0M471.2 693.3h1.0M475.2 699.9h1.0M468.0 693.4h1.0M451.1 699.7h1.0M462.4 695.9h1.0M463.4 694.8h1.0M462.4 692.3h1.0M475.2 691.7h1.0M468.3 692.9h1.0M469.6 697.2h1.0M465.8 692.9h1.0M470.9 690.3h1.0M464.4 698.9h1.0M457.4 697.3h1.0M465.3 698.6h1.0M461.1 696.7h1.0M456.0 705.0h1.0M453.4 700.6h1.0M461.7 697.8h1.0M463.7 698.5h1.0M476.5 699.9h1.0M461.5 697.0h1.0M460.9 699.9h1.0M464.8 695.0h1.0M470.2 703.3h1.0M457.6 695.8h1.0M463.7 680.0h1.0M473.1 698.6h1.0M475.3 693.5h1.0M460.6 695.5h1.0M454.8 700.2h1.0M464.4 682.3h1.0M463.9 687.2h1.0M471.8 694.6h1.0M470.7 688.9h1.0M465.6 699.0h1.0M460.1 698.9h1.0M467.3 693.6h1.0M460.0 700.5h1.0M459.5 686.8h1.0M464.9 695.5h1.0M477.4 699.4h1.0M476.2 701.8h1.0M474.2 698.0h1.0M455.4 704.2h1.0M469.1 697.7h1.0M460.6 695.7h1.0M468.2 697.4h1.0M470.7 707.7h1.0M469.6 706.5h1.0M461.3 698.3h1.0M459.1 699.1h1.0M469.7 698.3h1.0M473.0 688.2h1.0M460.7 693.9h1.0M460.0 697.3h1.0M464.5 692.3h1.0M461.9 695.3h1.0M471.2 689.5h1.0M471.8 695.0h1.0M470.4 700.4h1.0M461.6 696.6h1.0M460.0 700.4h1.0M463.4 695.3h1.0M466.2 691.9h1.0M470.6 696.1h1.0M468.0 687.0h1.0M463.3 692.4h1.0M469.0 694.0h1.0M470.3 692.7h1.0M464.7 697.8h1.0M459.5 692.6h1.0M468.4 700.2h1.0M471.4 699.4h1.0M469.8 696.1h1.0M459.3 693.1h1.0M468.2 690.0h1.0M466.2 698.9h1.0M464.2 694.7h1.0M464.7 709.3h1.0M462.3 700.4h1.0M461.5 703.1h1.0M467.4 691.2h1.0M465.6 695.5h1.0M466.3 693.4h1.0M458.6 684.6h1.0M467.0 696.9h1.0M475.2 693.0h1.0M459.1 694.9h1.0M466.2 697.6h1.0M465.5 700.8h1.0M467.3 698.5h1.0M470.1 704.0h1.0M462.0 692.8h1.0M471.0 699.5h1.0M469.7 691.8h1.0M463.9 694.8h1.0M469.5 700.9h1.0M473.1 697.8h1.0M474.4 696.3h1.0M464.6 697.1h1.0M470.9 698.7h1.0M465.8 702.2h1.0M461.2 699.3h1.0M480.4 692.6h1.0M472.4 699.4h1.0M470.8 695.4h1.0M464.5 697.4h1.0M467.5 696.6h1.0M463.4 700.8h1.0M477.7 696.1h1.0M462.9 694.4h1.0M466.5 689.0h1.0M471.5 689.0h1.0M465.4 697.7h1.0M471.8 692.3h1.0M467.8 700.1h1.0M465.7 696.2h1.0M466.2 697.3h1.0M454.0 696.7h1.0M471.8 708.0h1.0M469.7 700.4h1.0M468.4 698.3h1.0M467.1 699.2h1.0M459.8 684.7h1.0M466.4 691.6h1.0M460.4 702.3h1.0M462.4 702.5h1.0M458.7 692.8h1.0M463.6 685.9h1.0M472.0 689.0h1.0M468.5 698.2h1.0M460.2 695.4h1.0M460.5 701.7h1.0M472.3 694.2h1.0M464.2 697.3h1.0M470.9 698.0h1.0M475.7 694.4h1.0M471.9 693.1h1.0M459.3 693.3h1.0M452.0 696.0h1.0M475.3 695.2h1.0M457.4 701.4h1.0M457.1 696.8h1.0M462.4 693.4h1.0M463.5 690.7h1.0M469.2 691.7h1.0M461.5 698.1h1.0M460.3 696.8h1.0M470.7 702.0h1.0M459.8 695.7h1.0M482.1 692.4h1.0M457.2 703.4h1.0M466.1 700.7h1.0M472.7 701.1h1.0M465.8 689.8h1.0M455.9 696.4h1.0M465.5 697.0h1.0M472.2 696.3h1.0M461.3 684.7h1.0M455.9 696.9h1.0M465.4 695.8h1.0M452.8 702.3h1.0M468.6 694.5h1.0M470.2 695.8h1.0M466.6 694.9h1.0M458.8 691.0h1.0M472.3 698.5h1.0M474.0 704.5h1.0M472.8 690.6h1.0M463.3 703.6h1.0M468.9 704.0h1.0M461.6 689.4h1.0M473.2 688.9h1.0M463.1 692.2h1.0M458.4 691.8h1.0M464.4 692.4h1.0M469.1 690.4h1.0M465.1 694.2h1.0M464.7 698.1h1.0M459.9 700.3h1.0M466.2 694.8h1.0M465.2 691.0h1.0M466.1 698.5h1.0M464.7 699.0h1.0M465.2 692.0h1.0M460.7 698.2h1.0M476.7 689.4h1.0M455.8 693.2h1.0M467.0 696.2h1.0M472.7 694.0h1.0M455.1 702.1h1.0M455.4 695.8h1.0M470.0 696.6h1.0M481.2 700.1h1.0M472.1 687.6h1.0M463.2 699.2h1.0M462.3 701.8h1.0M462.0 695.1h1.0M457.8 701.9h1.0M461.7 690.7h1.0M470.9 691.0h1.0M463.6 689.3h1.0M467.8 703.5h1.0M470.4 691.1h1.0M461.5 698.7h1.0M463.2 687.6h1.0M466.6 700.3h1.0M460.6 689.4h1.0M466.1 692.1h1.0M469.4 682.6h1.0M465.7 689.3h1.0M455.5 701.3h1.0M467.2 688.6h1.0M464.3 703.7h1.0M465.4 706.7h1.0M458.5 695.4h1.0M419.5 705.0h1.0M413.7 693.1h1.0M448.4 711.1h1.0M452.3 693.4h1.0M434.0 701.4h1.0M421.0 708.0h1.0M421.9 699.1h1.0M429.3 712.4h1.0M410.3 694.9h1.0M426.4 703.3h1.0M446.9 713.6h1.0M421.4 713.1h1.0M414.5 692.0h1.0M417.4 707.1h1.0M412.0 704.1h1.0M420.7 705.8h1.0M429.0 705.8h1.0M441.4 710.3h1.0M428.3 702.8h1.0M414.0 691.4h1.0M445.3 696.4h1.0M447.7 714.6h1.0M438.3 690.9h1.0M439.4 690.3h1.0M427.7 699.2h1.0M446.1 705.4h1.0M428.1 708.9h1.0M425.0 710.0h1.0M415.9 709.0h1.0M422.5 715.1h1.0M412.8 712.1h1.0M434.0 699.3h1.0M440.6 693.1h1.0M443.1 698.0h1.0M414.2 690.9h1.0M420.7 706.3h1.0M447.0 708.5h1.0M449.2 707.8h1.0M446.9 705.5h1.0M425.6 698.8h1.0M427.1 710.1h1.0M424.3 711.0h1.0M425.4 700.3h1.0M426.9 690.1h1.0M412.9 701.2h1.0M426.2 704.5h1.0M431.3 715.1h1.0M444.8 689.2h1.0M440.9 708.3h1.0M423.9 692.5h1.0M434.3 700.0h1.0M437.3 695.1h1.0M451.6 691.8h1.0M428.6 713.0h1.0M436.9 708.4h1.0M439.8 708.8h1.0M436.6 691.4h1.0M419.2 705.2h1.0M437.4 701.3h1.0M441.6 699.4h1.0M429.6 704.9h1.0M420.7 691.7h1.0M449.4 703.6h1.0M431.3 709.9h1.0M421.2 702.5h1.0M441.8 700.8h1.0M429.5 715.4h1.0M452.9 704.3h1.0M415.1 709.7h1.0M429.2 692.1h1.0M441.0 701.3h1.0M452.8 700.0h1.0M434.2 694.1h1.0M432.9 698.6h1.0M440.0 707.2h1.0M412.4 709.3h1.0M410.3 696.8h1.0M424.5 692.4h1.0M424.3 699.4h1.0M415.2 713.1h1.0M446.0 703.2h1.0M447.3 713.2h1.0M427.2 693.5h1.0M426.0 711.4h1.0M431.1 693.3h1.0M444.6 710.0h1.0M424.4 690.7h1.0M434.5 707.4h1.0M444.0 703.0h1.0M440.8 691.3h1.0M413.5 706.6h1.0M432.1 693.1h1.0M448.5 710.4h1.0M447.2 702.5h1.0M412.5 707.9h1.0M434.4 713.3h1.0M445.0 699.4h1.0M426.8 695.9h1.0M437.7 712.7h1.0M437.7 699.5h1.0M412.2 689.1h1.0M442.8 709.2h1.0M434.2 692.0h1.0M428.5 702.6h1.0M419.4 701.0h1.0M435.0 697.5h1.0M448.6 709.2h1.0M411.5 692.0h1.0M437.5 704.0h1.0M430.6 712.4h1.0M418.4 708.8h1.0M420.9 707.9h1.0M411.8 693.5h1.0M438.7 690.0h1.0M443.0 708.3h1.0M445.0 713.4h1.0M424.0 691.6h1.0M433.2 696.8h1.0M421.3 693.8h1.0M439.4 696.4h1.0M433.4 697.4h1.0M447.5 698.9h1.0M449.2 712.6h1.0M412.4 705.2h1.0M436.6 693.9h1.0M446.8 699.9h1.0M414.0 711.9h1.0M421.5 699.5h1.0M411.7 702.1h1.0M432.9 705.1h1.0M414.1 710.9h1.0M433.8 703.9h1.0M411.0 706.9h1.0M417.8 701.1h1.0M425.3 699.8h1.0M432.4 705.3h1.0M431.6 699.2h1.0M430.2 692.7h1.0M420.2 703.6h1.0M445.0 698.6h1.0M430.6 710.6h1.0M423.9 703.8h1.0M426.3 705.5h1.0M452.6 693.4h1.0M443.4 705.1h1.0M446.6 710.3h1.0M445.2 700.3h1.0M410.1 698.5h1.0M418.7 696.4h1.0M436.3 702.6h1.0M411.2 698.1h1.0M415.4 689.8h1.0M420.7 698.9h1.0M433.4 712.7h1.0M419.4 707.7h1.0M414.3 699.5h1.0M438.3 692.9h1.0M435.1 712.0h1.0M436.7 708.9h1.0M416.0 709.6h1.0M429.6 712.8h1.0M437.3 699.4h1.0M421.2 689.4h1.0M411.9 702.6h1.0M433.6 701.2h1.0M434.6 706.1h1.0M429.5 694.6h1.0M451.9 708.5h1.0M416.2 708.5h1.0M434.8 705.5h1.0M423.1 708.8h1.0M438.8 704.0h1.0M415.8 694.0h1.0M429.6 714.7h1.0M450.6 705.0h1.0M430.1 703.2h1.0M447.9 704.9h1.0M424.6 690.6h1.0M448.0 711.4h1.0M442.8 689.5h1.0M439.9 691.1h1.0M419.2 696.0h1.0M433.1 694.7h1.0M443.4 708.1h1.0M414.0 714.1h1.0M422.0 706.4h1.0M440.0 706.6h1.0M440.4 703.2h1.0M423.2 696.0h1.0M418.7 703.6h1.0M438.1 691.8h1.0M414.6 700.3h1.0M447.7 700.6h1.0M443.5 709.6h1.0M444.6 706.8h1.0M445.1 690.2h1.0M439.1 696.6h1.0M424.1 704.2h1.0M412.7 702.3h1.0M438.0 692.2h1.0M448.9 689.9h1.0M412.8 707.0h1.0M452.9 701.2h1.0M436.9 697.7h1.0M410.6 704.4h1.0M414.0 701.7h1.0M415.6 709.5h1.0M430.0 704.3h1.0M438.8 694.3h1.0M434.9 705.1h1.0M417.7 695.7h1.0M423.2 708.9h1.0M449.2 692.2h1.0M418.6 711.8h1.0M432.9 711.0h1.0M416.5 711.2h1.0M426.6 689.4h1.0M412.7 711.8h1.0M452.4 711.8h1.0M414.4 696.2h1.0M419.3 708.9h1.0M444.9 714.0h1.0M412.9 704.3h1.0M439.1 691.0h1.0M412.0 702.0h1.0M445.8 708.0h1.0M437.8 706.4h1.0M420.4 695.7h1.0M451.1 695.3h1.0M430.4 706.7h1.0M416.4 703.2h1.0M431.7 692.9h1.0M414.5 697.9h1.0M433.9 699.1h1.0M434.5 690.2h1.0M441.2 704.4h1.0M433.2 689.7h1.0M442.1 706.2h1.0M427.3 689.6h1.0M410.3 697.8h1.0M423.5 693.1h1.0M429.9 700.5h1.0M411.2 701.0h1.0M424.8 697.1h1.0M441.6 702.1h1.0M446.4 697.4h1.0M432.3 712.8h1.0M429.9 700.6h1.0M445.0 691.1h1.0M415.6 700.7h1.0M430.6 701.2h1.0M442.8 700.3h1.0M427.4 701.2h1.0M438.6 703.8h1.0M428.6 702.0h1.0M450.9 714.8h1.0M458.3 712.8h1.0M483.1 696.9h1.0M456.0 690.0h1.0M467.2 702.1h1.0M474.1 702.0h1.0M457.4 701.8h1.0M465.4 693.1h1.0M456.1 713.9h1.0M458.3 698.8h1.0M457.8 706.7h1.0M480.4 704.7h1.0M484.9 712.9h1.0M461.9 711.2h1.0M473.6 690.5h1.0M477.7 693.4h1.0M475.2 706.1h1.0M468.9 702.0h1.0M469.3 713.0h1.0M473.1 693.0h1.0M479.9 698.2h1.0M464.2 708.4h1.0M482.3 692.1h1.0M473.2 703.2h1.0M484.7 689.8h1.0M482.9 700.9h1.0M482.8 703.7h1.0M474.3 699.7h1.0M460.6 692.8h1.0M481.4 713.1h1.0M466.9 714.4h1.0M483.1 691.0h1.0M479.4 692.9h1.0M462.8 695.1h1.0M482.5 699.6h1.0M458.2 707.5h1.0M476.7 699.9h1.0M469.3 706.4h1.0M462.7 692.0h1.0M472.7 713.7h1.0M480.1 697.9h1.0M461.6 712.3h1.0M466.8 710.0h1.0M467.3 698.8h1.0M473.4 710.3h1.0M484.8 707.6h1.0M463.5 700.0h1.0M458.5 689.3h1.0M459.1 694.1h1.0M483.1 690.6h1.0M478.9 703.8h1.0M450.3 678.2h1.0M456.4 684.7h1.0M459.9 687.9h1.0M446.0 677.9h1.0M442.9 680.8h1.0M456.4 684.6h1.0M443.8 682.9h1.0M443.5 670.6h1.0M459.1 675.1h1.0M449.1 678.2h1.0M450.9 673.4h1.0M453.4 677.1h1.0M458.9 687.1h1.0M448.5 682.7h1.0M460.5 675.8h1.0M451.1 676.4h1.0M452.1 685.1h1.0M450.9 672.6h1.0M448.7 682.1h1.0M453.5 682.1h1.0M445.0 672.3h1.0M441.9 675.1h1.0M449.5 678.0h1.0M457.9 674.5h1.0M455.0 686.4h1.0M446.6 679.9h1.0M443.0 670.2h1.0M446.4 676.0h1.0M446.4 670.5h1.0M442.2 677.0h1.0M449.8 682.8h1.0M453.7 676.5h1.0M450.5 681.3h1.0M440.4 673.6h1.0M443.2 671.1h1.0M449.5 674.2h1.0M451.7 684.0h1.0M449.3 671.4h1.0M447.8 677.2h1.0M456.4 681.9h1.0M471.4 665.4h1.0M460.3 667.4h1.0M470.0 676.2h1.0M482.7 666.2h1.0M467.0 683.9h1.0M459.3 668.2h1.0M472.7 678.1h1.0M471.2 676.6h1.0M480.0 668.6h1.0M476.2 666.7h1.0M477.5 662.8h1.0M471.7 671.4h1.0M467.4 683.6h1.0M475.5 675.1h1.0M482.2 670.9h1.0M459.9 678.1h1.0M484.3 678.2h1.0M477.0 679.8h1.0M481.9 676.7h1.0M469.6 683.0h1.0" stroke="#000" stroke-width="1.0" opacity="0.82" fill="none"/>
<line x1="407.00" y1="640.00" x2="407.00" y2="717.80" stroke="#000" stroke-width="1.9"/>
<line x1="406.10" y1="716.90" x2="512.00" y2="716.90" stroke="#000" stroke-width="1.9"/>
<line x1="404.00" y1="707.80" x2="407.00" y2="707.80" stroke="#000" stroke-width="1.2"/>
<line x1="404.00" y1="692.60" x2="407.00" y2="692.60" stroke="#000" stroke-width="1.2"/>
<line x1="404.00" y1="677.40" x2="407.00" y2="677.40" stroke="#000" stroke-width="1.2"/>
<line x1="404.00" y1="662.20" x2="407.00" y2="662.20" stroke="#000" stroke-width="1.2"/>
<line x1="404.00" y1="647.00" x2="407.00" y2="647.00" stroke="#000" stroke-width="1.2"/>
<line x1="420.30" y1="716.90" x2="420.30" y2="719.90" stroke="#000" stroke-width="1.2"/>
<line x1="440.90" y1="716.90" x2="440.90" y2="719.90" stroke="#000" stroke-width="1.2"/>
<line x1="461.50" y1="716.90" x2="461.50" y2="719.90" stroke="#000" stroke-width="1.2"/>
<line x1="482.10" y1="716.90" x2="482.10" y2="719.90" stroke="#000" stroke-width="1.2"/>
<line x1="502.70" y1="716.90" x2="502.70" y2="719.90" stroke="#000" stroke-width="1.2"/>
<path d="M405.2 715.7h1.8M405.2 713.8h1.8M405.2 712.4h1.8M405.2 711.2h1.8M405.2 710.2h1.8M405.2 709.3h1.8M405.2 708.5h1.8M405.2 703.2h1.8M405.2 700.5h1.8M405.2 698.6h1.8M405.2 697.2h1.8M405.2 696.0h1.8M405.2 695.0h1.8M405.2 694.1h1.8M405.2 693.3h1.8M405.2 688.0h1.8M405.2 685.3h1.8M405.2 683.4h1.8M405.2 682.0h1.8M405.2 680.8h1.8M405.2 679.8h1.8M405.2 678.9h1.8M405.2 678.1h1.8M405.2 672.8h1.8M405.2 670.1h1.8M405.2 668.2h1.8M405.2 666.8h1.8M405.2 665.6h1.8M405.2 664.6h1.8M405.2 663.7h1.8M405.2 662.9h1.8M405.2 657.6h1.8M405.2 654.9h1.8M405.2 653.0h1.8M405.2 651.6h1.8M405.2 650.4h1.8M405.2 649.4h1.8M405.2 648.5h1.8M405.2 647.7h1.8" stroke="#000" stroke-width="0.8"/>
<path d="M409.5 716.9v1.8M412.1 716.9v1.8M414.1 716.9v1.8M415.7 716.9v1.8M417.1 716.9v1.8M418.3 716.9v1.8M419.4 716.9v1.8M426.5 716.9v1.8M430.1 716.9v1.8M432.7 716.9v1.8M434.7 716.9v1.8M436.3 716.9v1.8M437.7 716.9v1.8M438.9 716.9v1.8M440.0 716.9v1.8M447.1 716.9v1.8M450.7 716.9v1.8M453.3 716.9v1.8M455.3 716.9v1.8M456.9 716.9v1.8M458.3 716.9v1.8M459.5 716.9v1.8M460.6 716.9v1.8M467.7 716.9v1.8M471.3 716.9v1.8M473.9 716.9v1.8M475.9 716.9v1.8M477.5 716.9v1.8M478.9 716.9v1.8M480.1 716.9v1.8M481.2 716.9v1.8M488.3 716.9v1.8M491.9 716.9v1.8M494.5 716.9v1.8M496.5 716.9v1.8M498.1 716.9v1.8M499.5 716.9v1.8M500.7 716.9v1.8M501.8 716.9v1.8M508.9 716.9v1.8" stroke="#000" stroke-width="0.8"/>
<line x1="453.20" y1="640.00" x2="453.20" y2="716.90" stroke="#000" stroke-width="0.9"/>
<line x1="407.00" y1="686.90" x2="453.20" y2="686.90" stroke="#000" stroke-width="0.9"/>
<line x1="453.20" y1="684.20" x2="512.00" y2="684.20" stroke="#000" stroke-width="0.9"/>
<text x="395.20" y="709.80" font-size="6.8" text-anchor="middle">10</text>
<text x="399.40" y="705.80" font-size="4.2">1</text>
<text x="395.20" y="694.60" font-size="6.8" text-anchor="middle">10</text>
<text x="399.40" y="690.60" font-size="4.2">2</text>
<text x="395.20" y="679.40" font-size="6.8" text-anchor="middle">10</text>
<text x="399.40" y="675.40" font-size="4.2">3</text>
<text x="395.20" y="664.20" font-size="6.8" text-anchor="middle">10</text>
<text x="399.40" y="660.20" font-size="4.2">4</text>
<text x="395.20" y="649.00" font-size="6.8" text-anchor="middle">10</text>
<text x="399.40" y="645.00" font-size="4.2">5</text>
<text x="419.10" y="729.80" font-size="6.8" text-anchor="middle">10</text>
<text x="422.90" y="725.20" font-size="4.2">1</text>
<text x="439.70" y="729.80" font-size="6.8" text-anchor="middle">10</text>
<text x="443.50" y="725.20" font-size="4.2">2</text>
<text x="460.30" y="729.80" font-size="6.8" text-anchor="middle">10</text>
<text x="464.10" y="725.20" font-size="4.2">3</text>
<text x="480.90" y="729.80" font-size="6.8" text-anchor="middle">10</text>
<text x="484.70" y="725.20" font-size="4.2">4</text>
<text x="501.50" y="729.80" font-size="6.8" text-anchor="middle">10</text>
<text x="505.30" y="725.20" font-size="4.2">5</text>
<text x="459.20" y="743.80" font-size="11" text-anchor="middle" textLength="61.3" lengthAdjust="spacingAndGlyphs">Annexin V-FITC</text>
<text x="385.00" y="678.30" font-size="11" text-anchor="middle" textLength="68" lengthAdjust="spacingAndGlyphs" transform="rotate(-90 385.0 678.3)">Propidium Iodide</text>
<text x="459.70" y="633.60" font-size="10" text-anchor="middle" font-weight="bold">XG1/oeMAF</text>
<text x="408.20" y="644.60" font-size="5.2" font-weight="bold">UL</text>
<text x="407.80" y="652.10" font-size="6" font-weight="bold">0.37</text>
<text x="492.50" y="644.60" font-size="5.6" font-weight="bold" textLength="7.2" lengthAdjust="spacingAndGlyphs">UR</text>
<text x="492.70" y="652.10" font-size="6.2" font-weight="bold" textLength="11.4" lengthAdjust="spacingAndGlyphs">6.31</text>
<text x="498.90" y="707.80" font-size="5.6" font-weight="bold" textLength="6.6" lengthAdjust="spacingAndGlyphs">LR</text>
<text x="498.90" y="714.90" font-size="6.2" font-weight="bold" textLength="11.5" lengthAdjust="spacingAndGlyphs">5.45</text>
<text x="408.20" y="707.80" font-size="5.2" font-weight="bold">LL</text>
<text x="407.80" y="714.90" font-size="6" font-weight="bold">87.87</text>
</svg></body></html>
